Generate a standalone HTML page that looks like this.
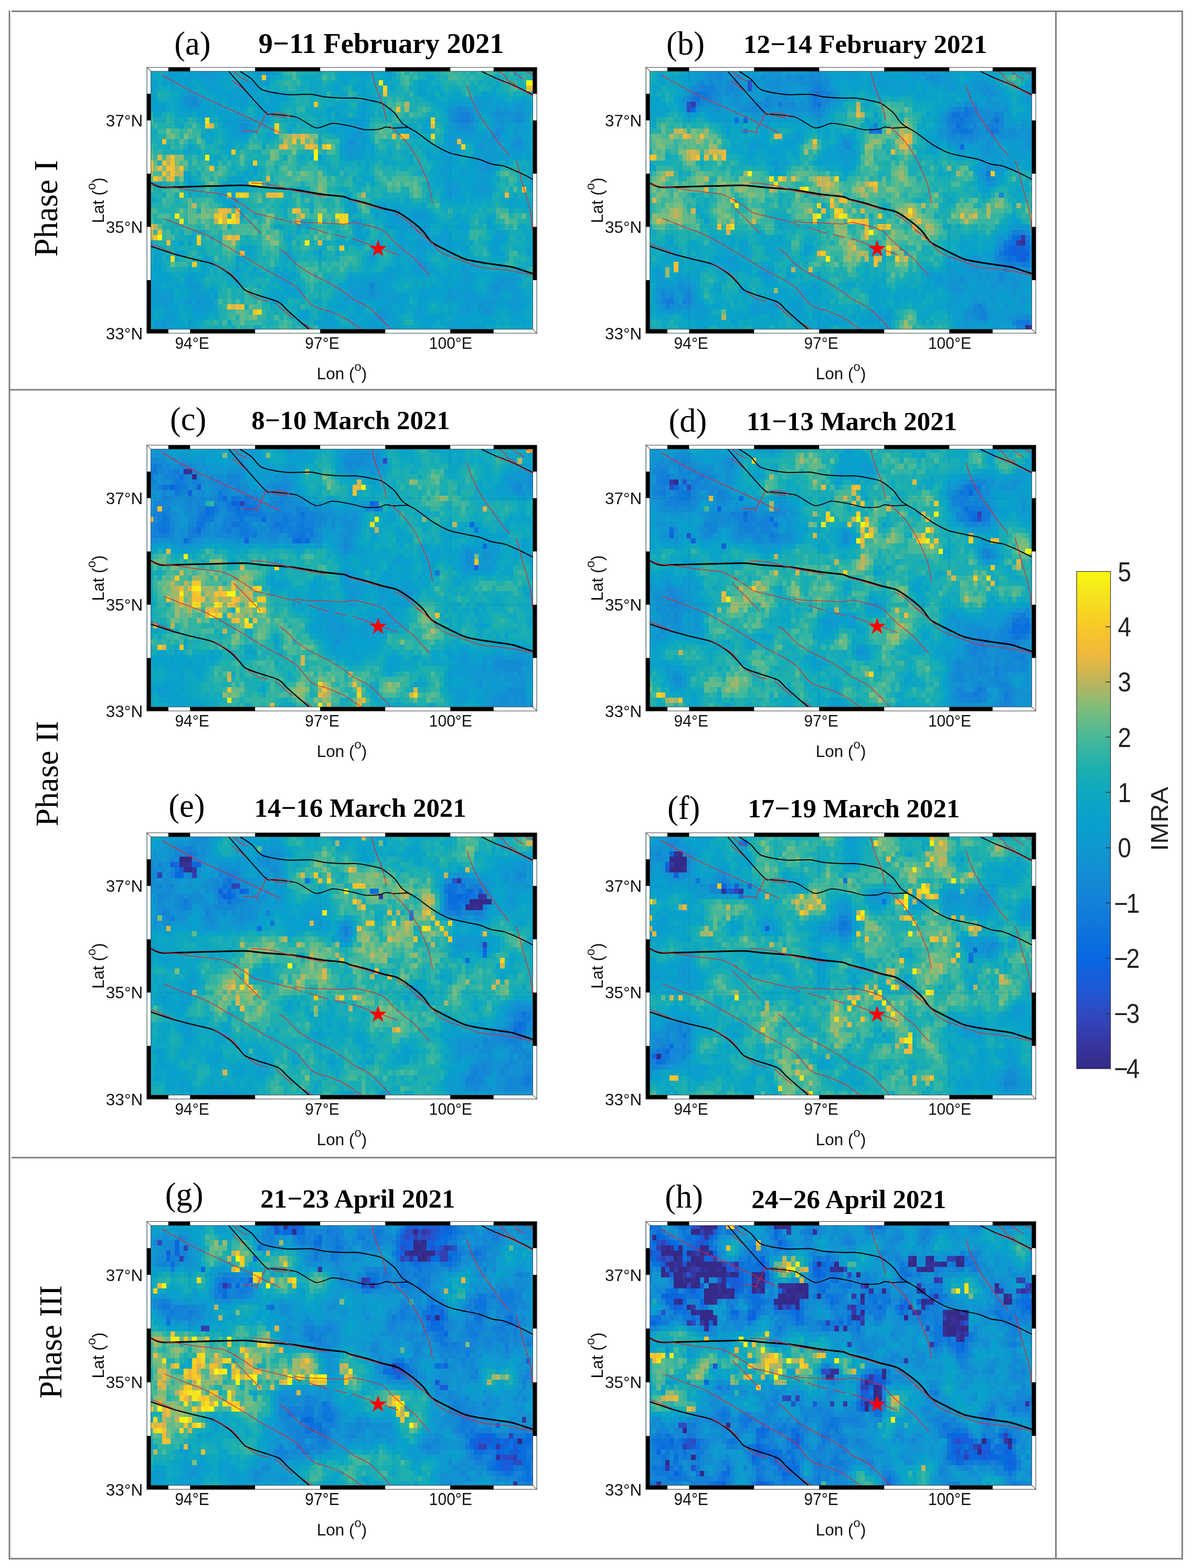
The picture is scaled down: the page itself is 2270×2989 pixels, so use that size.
<!DOCTYPE html>
<html lang="en"><head><meta charset="utf-8"><title>IMRA maps</title>
<style>html,body{margin:0;padding:0;background:#fff}body{width:2270px;height:2989px;overflow:hidden}svg{display:block}.t{font:31.5px "Liberation Sans",sans-serif;fill:#111}.l{font:31.5px "Liberation Sans",sans-serif;fill:#111}.c{font:46px "Liberation Sans",sans-serif;fill:#222}.p{font:62.5px "Liberation Serif",serif;fill:#000}.h{font:bold 50px "Liberation Serif",serif;fill:#000}.ph{font:62px "Liberation Serif",serif;fill:#000}</style></head><body>
<svg width="2270" height="2989" viewBox="0 0 2270 2989">
<defs><g id="fl"><path d="M177.5,7.8C180.5,9.8 194.5,18.2 200.2,22.9C205.9,27.6 211.6,39.4 220.5,43.3C229.4,47.2 254.7,51.2 266.9,52.3C279.1,53.4 302.4,51.3 312.1,51.9C321.8,52.5 330.8,55.9 339.3,56.9C347.8,57.9 367.4,58.8 375.5,59.1C383.6,59.4 392.9,58.5 399.8,59.1C406.7,59.7 420.5,62.2 427,63.6C433.5,65 442.5,66.1 448.5,69.3C454.5,72.5 466.9,82.3 472.2,87.4C477.5,92.5 482.3,102.8 488,107.8C493.7,112.8 507.7,119.6 515.2,124.7C522.7,129.8 536.8,141.2 544.6,146.2C552.4,151.2 567.1,159.2 574,162.1C580.9,165 588.8,166.4 596.6,168.2C604.4,170 624.7,173.4 632.8,175.6C640.9,177.8 651.1,182.9 657.7,184.7C664.3,186.5 675.4,186.9 682.6,189.2C689.8,191.5 704.8,198.4 712,201.7C719.2,205 733.1,212.3 736.4,213.9" stroke="#000" stroke-width="2.0" fill="none" stroke-linejoin="round"/>
<path d="M156,7.8C165.1,18 212.7,73.1 223.9,84C235.1,94.9 231.6,88.2 239.7,89.7C247.8,91.2 274,91.8 285,95.3C296,98.8 313.2,114.1 322.3,115.7C331.4,117.3 345.8,108.1 352.9,107.3C360,106.5 370.2,109.2 375.5,110C380.8,110.8 387.7,112.2 393,113.4C398.3,114.6 409,118.4 415.6,119.1C422.2,119.8 437.4,119.1 442.8,118.4C448.2,117.7 452.3,114.4 455.9,114.1C459.5,113.8 464.6,116 469.9,116.1C475.2,116.2 491.6,114.8 496,115C500.4,115.2 501.9,117.5 502.8,117.9" stroke="#000" stroke-width="1.8" fill="none" stroke-linejoin="round"/>
<path d="M6.4,220.4C9.5,221.5 18.7,227.8 29.3,228.8C39.9,229.8 72.3,228 85.9,227.7C99.5,227.4 117.5,226.8 131.1,226.5C144.7,226.2 175.6,225.1 187.7,225.4C199.8,225.7 209.5,227.7 221.6,228.8C233.7,229.9 263.1,231.5 278.2,233.3C293.3,235.1 321.8,240.6 334.8,242.4C347.8,244.2 368.3,245.6 375.5,246.9C382.7,248.2 383.2,250.3 388.5,251.9C393.8,253.5 407.5,256.4 415.6,258.7C423.7,261 441.5,266.6 449.6,268.9C457.7,271.2 470.4,273.1 476.7,275.7C483,278.3 491.7,284.3 497.1,288.1C502.5,291.9 513.3,300.3 517.5,303.9C521.7,307.5 525.5,311.3 528.8,315.2C532.1,319.1 537.9,329.4 542.4,333.3C546.9,337.2 557,341.7 562.7,344.7C568.4,347.7 579.3,353.1 585.3,356C591.3,358.9 600.5,363.9 608,366.2C615.5,368.5 630.4,371 641.9,372.9C653.4,374.8 684.2,378.6 693.9,380.4C703.6,382.2 708.6,384.7 714.3,386.5C720,388.3 733.5,392.7 736.4,393.7" stroke="#000" stroke-width="3.0" fill="none" stroke-linejoin="round"/>
<path d="M6.4,340.9C12.5,342.9 41.4,352.8 52,356C62.6,359.2 76,362.4 85.9,365C95.8,367.6 116.9,371.3 126.6,375.2C136.3,379.1 151.7,389.4 158.3,394.4C164.9,399.4 172.5,408.4 176.4,412.5C180.3,416.6 183.2,422.1 187.7,425C192.2,427.9 201.8,431 210.3,434C218.8,437 243.6,443.8 251.1,447.6C258.6,451.4 262.1,457.9 266.9,462.3C271.7,466.7 281.4,475.3 287.3,480.4C293.2,485.5 308.2,498.2 311.4,500.9" stroke="#000" stroke-width="2.3" fill="none" stroke-linejoin="round"/>
<path d="M637.4,7.8C641,9.5 656.4,17.2 664.5,20.7C672.6,24.2 688.9,29.9 698.5,34.2C708.1,38.5 731.3,50.4 736.4,52.9" stroke="#000" stroke-width="1.9" fill="none" stroke-linejoin="round"/>
<path d="M29.3,15C37.8,19.7 76.1,41.7 92.7,50.1C109.3,58.5 139.6,71.8 153.8,78.3C168,84.8 190,94.5 199,98.7C208,102.9 214.2,106.4 221.6,110C229,113.6 250,123.3 254.4,125.4M165.1,7.8C166.9,9.4 175.1,17 178.7,19.5C182.3,22 190.4,25.4 192.2,26.3M162.8,25.9C164.6,27.2 173.1,32.8 176.4,35.4C179.7,38 186.2,44.2 187.7,45.5M227.3,87.4C226.2,89.8 221.4,101.6 219.4,105.5C217.4,109.4 213.9,113.8 212.6,116.8C211.3,119.8 210.3,126.2 209.9,127.7M183.2,122C184.8,121.9 191.9,121.2 195.4,121.4C198.9,121.6 207.4,123.3 209.2,123.6M228.4,87.4C230.5,88.2 239.2,91.9 244.3,93.1C249.4,94.3 263.9,96 266.9,96.4M240.4,87.4C243.3,87.7 257.5,88.2 262.4,89.4C267.3,90.6 275.1,95.5 277.1,96.4M428.8,7.8C429.8,11.5 433.4,27.5 436,35.4C438.6,43.3 446.1,60.1 448.5,67C450.9,73.9 453,82.9 454.1,87.4C455.2,91.9 456.1,98.8 456.4,100.5M463.6,112.3C466.9,115.3 482.6,129.2 488,134.9C493.4,140.6 500,149.6 503.9,155.3C507.8,161 514.2,171.6 517.5,177.9C520.8,184.2 526.1,196.5 528.8,202.8C531.5,209.1 535.7,218.2 537.8,225.4C539.9,232.6 543.3,252.3 544.2,256.9C545.1,261.5 544.5,259.5 544.6,259.9M610.2,34.2C611.4,37.7 615.7,51.9 619.3,60.2C622.9,68.5 632,87.3 637.4,96.4C642.8,105.5 654.9,120.9 660,128.1C665.1,135.3 671.6,145.3 675.8,150.7C680,156.1 689.1,166.4 691.2,168.8M704.1,177.9C704.9,180.3 708.1,190 709.8,196C711.5,202 714.3,215 716.6,223.1C718.9,231.2 724.6,249.1 726.7,256.9C728.8,264.7 731.2,273.5 732.4,281.3C733.6,289.1 735.4,310.7 735.9,315.2M670.2,8.2C671.6,9 677.8,11.5 680.4,13.9C683,16.3 687,24.2 689.4,26.3C691.8,28.4 696.4,28.3 698.5,29.7C700.6,31.1 704.3,35.6 705.2,36.5M698.5,9.3C700,10.4 706.9,15.5 709.8,17.3C712.7,19.1 718.6,22.2 719.9,22.9M722.2,8.2 736.4,13.9M664.4,21.9C668.9,23.7 688.9,31.1 698.5,35.4C708.1,39.7 731.3,51.9 736.4,54.4M6.4,222C9.5,222.8 22.9,226.6 29.3,227.7C35.7,228.8 46.7,228.9 54.2,229.9C61.7,230.9 77.2,233.7 85.9,234.9C94.6,236.1 112,238 119.8,239C127.6,240 139.6,241.2 144.7,242.4C149.8,243.6 154.4,246.2 158.3,248C162.2,249.8 172,254.8 174.1,255.9M165.1,251.9C168.1,253.7 182.3,262 187.7,265.5C193.1,269 199.8,275.3 205.8,277.9C211.8,280.5 226.4,283 233,284.7C239.6,286.4 249,288.7 255.6,290.4C262.2,292.1 277.6,295.4 282.7,297.1C287.8,298.8 292.5,302 294,302.8M165.1,263.2C168.7,266.8 185.3,283.3 192.2,290.4C199.1,297.5 213.8,312.9 217.1,316.4M199,220.9C202,221 215.6,221.4 221.6,222C227.6,222.6 236.8,223.7 244.3,225.4C251.8,227.1 269.2,232.4 278.2,234.5C287.2,236.6 303.6,239.5 312.1,241.2C320.6,242.9 337.7,246.1 341.6,246.9M281.6,293.3C284.2,293.7 293.7,295.5 300.8,296C307.9,296.5 324.8,296.7 334.8,297.1C344.8,297.5 367.7,299.1 375.5,299C383.3,298.9 387.7,295.8 393,296C398.3,296.2 410.2,299.3 415.6,300.5C421,301.7 428.6,303.3 433.7,305.1C438.8,306.9 449.6,310.9 454.1,314.1C458.6,317.3 463.2,324.4 467.7,328.8C472.2,333.2 482.3,342.1 488,346.9C493.7,351.7 505.6,360.2 510.7,365C515.8,369.8 522.6,378.8 526.5,383.1C530.4,387.4 537.9,395.2 539.6,397.1M308.7,305.7 346.1,317.1M357.4,318.6C359.8,319.3 372.4,323.2 375.5,323.9C378.6,324.6 379.9,323.9 380.6,323.9M390.8,326.1C395.6,327.8 418.3,335.9 427,339C435.7,342.1 449.3,346.7 456.4,349.2C463.5,351.7 476.9,356.7 480.1,357.8M32.7,288.5C38.3,290.7 64.5,301.2 74.6,305.1C84.7,309 99.8,313.6 108.5,317.5C117.2,321.4 130.2,328.9 140.2,334.5C150.2,340.1 172.3,352.9 183.2,359.4C194.1,365.9 211.9,377.5 221.6,383.1C231.3,388.7 247.1,396.4 255.6,401.2C264.1,406 279.3,414.8 285,419.3C290.7,423.8 295,430.9 298.6,435.1C302.2,439.3 308.8,448 312.1,451C315.4,454 319,456 323.5,457.8C328,459.6 339.2,462 346.1,464.6C353,467.2 369.2,473.8 375.5,477C381.8,480.2 388.2,485.1 393,488.3C397.8,491.5 408.9,499.2 411.4,500.9M253.3,345.8C255.1,347.2 262.7,352.1 266.9,356C271.1,359.9 279,370.2 285,375.2C291,380.2 304,388.6 312.1,393.3C320.2,398 337.6,405.6 346.1,410.3C354.6,415 369.2,424.2 375.5,428.4C381.8,432.6 387.7,438.6 393,441.9C398.3,445.2 410.8,450.6 415.6,453.3C420.4,456 425.3,459 429.2,462.3C433.1,465.6 441.5,474.5 445.1,478.1C448.7,481.7 453.7,486.5 456.4,489.5C459.1,492.5 464.2,499.4 465.4,500.9M6.4,336.7C8.5,337.5 16.3,340 22.4,342.4C28.5,344.8 48.1,353.2 52,354.9M126.6,374.2C130.8,376.6 151.8,387.8 158.3,392.4C164.8,397 173.1,406.7 175.4,408.9M190,427.2C193,429.2 207.2,439.4 212.6,441.9C218,444.4 228.3,445.3 230.7,445.8M245.4,449.9C248.3,452.5 262.5,465.3 266.9,469.1C271.3,472.9 276.7,476.9 278.2,478.1M298.6,488.3 317.4,500.4M474.5,280.2C476.9,281.6 487.5,286.6 492.6,290.4C497.7,294.2 508.7,304.9 512.9,308.5C517.1,312.1 522.7,316.3 524.2,317.5M512.9,310.3C515,311.9 524.3,318.3 528.8,322C533.3,325.7 543.3,334.3 546.9,337.9C550.5,341.5 552.3,346.3 555.9,349.2C559.5,352.1 568.6,357 574,359.4C579.4,361.8 588.5,364.4 596.6,367.3C604.7,370.2 626,378.6 635.1,380.9C644.2,383.2 656,383.2 664.5,384.3C673,385.4 688.9,387.1 698.5,388.8C708.1,390.5 731.3,395.8 736.4,396.9M388.4,253.4C392.7,254.5 412.3,259.6 420.4,261.9C428.5,264.2 445.5,269.7 449.4,270.9" stroke="#e8222c" stroke-width="1.25" fill="none" stroke-linejoin="round"/></g><g id="fr"><path d="M0,0H743.9 V507.5 H0Z M8,8 V499.5 H735.9 V8Z" fill="#fff" fill-rule="evenodd"/>
<path d="M0,499.5H41.3V507.5H0ZM41.3,0H82.7V8H41.3ZM82.7,499.5H206.6V507.5H82.7ZM206.6,0H330.6V8H206.6ZM330.6,499.5H454.6V507.5H330.6ZM454.6,0H578.6V8H454.6ZM578.6,499.5H661.2V507.5H578.6ZM661.2,0H743.9V8H661.2ZM735.9,0H743.9V50.8H735.9ZM0,50.8H8V101.5H0ZM735.9,101.5H743.9V203H735.9ZM0,203H8V304.5H0ZM735.9,304.5H743.9V406H735.9ZM0,406H8V507.5H0Z" fill="#000"/>
<rect x="0.5" y="0.5" width="742.9" height="506.5" fill="none" stroke="#444" stroke-width="1"/>
<rect x="8" y="8" width="727.9" height="491.5" fill="none" stroke="#333" stroke-width="0.8"/>
<path d="M0,0L8,8 M735.9,499.5L743.9,507.5" stroke="#444" stroke-width="1"/></g><g id="gr"><path d="M82.7,8V499.5M330.6,8V499.5M578.6,8V499.5M8,304.5H735.9M8,101.5H735.9" stroke="#1a5c6a" stroke-opacity="0.5" stroke-width="1.1" stroke-dasharray="1.5 3" fill="none"/></g><g id="lb"><text class="t" x="-7.4" y="518.9" text-anchor="end">33°N</text>
<text class="t" x="-7.4" y="315.9" text-anchor="end">35°N</text>
<text class="t" x="-7.4" y="112.9" text-anchor="end">37°N</text>
<text class="t" style="font-size:30px" transform="translate(86.5,537.1) scale(1,1.07)" text-anchor="middle">94°E</text>
<text class="t" style="font-size:30px" transform="translate(334.4,537.1) scale(1,1.07)" text-anchor="middle">97°E</text>
<text class="t" style="font-size:30px" transform="translate(579.2,537.1) scale(1,1.07)" text-anchor="middle">100°E</text>
<text class="l" x="371.9" y="594.5" text-anchor="middle">Lon (<tspan dy="-16" style="font-size:24px">o</tspan><tspan dy="16">)</tspan></text>
<text class="l" transform="translate(-82,253.8) rotate(-90)" text-anchor="middle">Lat (<tspan dy="-16" style="font-size:24px">o</tspan><tspan dy="16">)</tspan></text></g>
<clipPath id="cp"><rect x="0" y="0" width="743.9" height="507.5"/></clipPath>
<linearGradient id="cb" x1="0" y1="0" x2="0" y2="1"><stop offset="0%" stop-color="#f8f810"/><stop offset="5.6%" stop-color="#f6e01e"/><stop offset="11.1%" stop-color="#f8c828"/><stop offset="16.7%" stop-color="#f0b83c"/><stop offset="22.2%" stop-color="#bcb45c"/><stop offset="27.8%" stop-color="#7cbd7c"/><stop offset="33.3%" stop-color="#48b898"/><stop offset="38.9%" stop-color="#20b0ac"/><stop offset="44.4%" stop-color="#0ea8c0"/><stop offset="50%" stop-color="#08a0cc"/><stop offset="55.6%" stop-color="#1098d0"/><stop offset="61.1%" stop-color="#138cd4"/><stop offset="66.7%" stop-color="#1480d8"/><stop offset="72.2%" stop-color="#0d74dc"/><stop offset="77.8%" stop-color="#0868e0"/><stop offset="83.3%" stop-color="#1c5ad8"/><stop offset="88.9%" stop-color="#2f49c0"/><stop offset="94.4%" stop-color="#3637a4"/><stop offset="100%" stop-color="#352a87"/></linearGradient></defs>
<rect width="2270" height="2989" fill="#fff"/>
<g stroke="#808080" stroke-width="3" fill="none"><path d="M18,20V2973 M22,21.5H2254 M2253.3,20V2973 M17,2971.2H2254 M2012.5,21V2972 M18,743H2012 M22,2206.7H2012"/></g>
<text class="ph" style="font-size:63.2px" transform="translate(108.7,397.4) rotate(-90)" text-anchor="middle">Phase I</text>
<text class="ph" style="font-size:62px" transform="translate(109.6,1474.8) rotate(-90)" text-anchor="middle">Phase II</text>
<text class="ph" style="font-size:60.3px" transform="translate(117.2,2558.2) rotate(-90)" text-anchor="middle">Phase III</text>
<g transform="translate(279.6,127.9) scale(1,1.0005)">
<g clip-path="url(#cp)"><g transform="translate(-4.13,-5.08) scale(8.2656,10.1500)" shape-rendering="crispEdges" fill="none"><rect width="91" height="51" fill="#0ea8c0"/><g transform="translate(0,.5)"><path stroke="#1480d8" d="M73 9h2M73 10h2"/><path stroke="#1486d6" d="M72 8h1M72 9h1M72 10h1M75 10h1M74 11h1M52 41h1"/><path stroke="#138cd4" d="M29 0h1M11 6h1M11 7h1M73 8h2M71 9h1M75 9h1M81 9h2M85 9h2M71 10h1M86 10h1M22 11h2M72 11h2M22 12h1M81 12h1M80 13h2M86 14h1M79 18h1M90 21h1M52 42h1M3 50h3"/><path stroke="#1292d2" d="M0 0h1M16 0h1M27 0h1M14 1h1M28 1h1M9 6h2M9 7h2M12 7h1M71 8h1M75 8h1M81 8h1M83 8h1M86 8h1M70 9h1M80 9h1M83 9h2M87 9h1M81 10h2M85 10h1M87 10h1M75 11h1M82 11h1M23 12h1M72 12h1M74 12h2M82 12h1M47 14h2M85 14h1M77 15h1M85 15h2M47 16h1M78 18h1M78 19h2M90 20h1M90 22h1M70 24h1M63 28h1M63 37h2M82 40h2M81 41h1M80 42h2M52 43h1M12 44h1M79 44h1M74 45h1M77 45h1M0 46h1M54 46h1M78 46h2M54 47h2M4 48h1M52 50h1"/><path stroke="#1098d0" d="M1 0h1M13 0h1M26 0h1M28 0h1M30 0h1M0 1h1M13 1h1M26 1h2M15 2h1M90 3h1M0 4h2M23 4h1M25 4h1M0 5h1M10 5h1M0 6h1M12 6h1M23 6h1M76 6h2M79 6h1M72 7h1M77 7h2M81 7h1M85 7h3M70 8h1M76 8h1M82 8h1M84 8h2M87 8h1M13 9h1M50 9h1M76 9h1M88 9h1M22 10h2M70 10h1M76 10h1M84 10h1M24 11h1M49 11h1M71 11h1M80 11h2M86 11h1M21 12h1M49 12h1M71 12h1M73 12h1M80 12h1M85 12h1M48 13h2M70 13h2M73 13h1M85 13h2M50 14h1M71 14h1M78 14h4M84 14h1M46 15h4M71 15h1M78 15h1M80 15h1M87 15h1M48 16h1M78 16h1M84 16h2M77 17h2M80 17h1M76 18h2M69 19h1M77 19h1M78 20h1M70 22h1M77 22h2M70 23h3M77 23h3M55 26h1M55 27h1M57 28h1M62 28h1M64 28h1M48 29h1M57 29h2M61 29h1M61 30h1M64 30h1M65 32h1M63 33h3M80 34h1M52 36h1M63 36h1M63 38h2M73 38h1M56 39h1M74 39h1M10 40h1M47 40h1M52 40h1M74 40h1M81 40h1M84 40h1M11 41h2M51 41h1M53 41h1M80 41h1M82 41h4M2 42h1M12 42h1M47 42h5M53 42h1M70 42h1M74 42h1M85 42h1M3 43h2M11 43h1M49 43h1M51 43h1M53 43h1M70 43h2M73 43h3M80 43h2M85 43h1M3 44h3M10 44h1M13 44h1M46 44h1M74 44h5M80 44h1M86 44h1M0 45h1M11 45h2M78 45h3M84 45h2M55 46h1M63 46h1M73 46h1M85 46h1M5 47h2M53 47h1M5 48h1M3 49h2M53 49h1M2 50h1M7 50h2M51 50h1M53 50h1"/><path stroke="#0c9cce" d="M6 0h2M12 0h1M14 0h2M17 0h1M19 0h1M25 0h1M51 0h1M56 0h1M5 1h2M10 1h1M12 1h1M15 1h2M29 1h1M50 1h2M56 1h1M5 2h2M9 2h2M13 2h2M16 2h1M28 2h1M56 2h1M0 3h2M4 3h1M15 3h1M23 3h2M27 3h2M15 4h2M21 4h2M24 4h1M9 5h1M11 5h1M16 5h1M20 5h2M23 5h2M28 5h1M64 5h1M8 6h1M13 6h1M19 6h4M29 6h1M51 6h1M66 6h1M0 7h1M14 7h1M22 7h1M70 7h2M73 7h2M76 7h1M79 7h1M82 7h2M2 8h3M8 8h1M10 8h3M28 8h1M77 8h1M79 8h2M88 8h1M14 9h1M27 9h2M44 9h1M79 9h1M19 10h1M21 10h1M27 10h1M49 10h2M80 10h1M83 10h1M19 11h1M21 11h1M45 11h1M48 11h1M50 11h1M70 11h1M76 11h1M83 11h1M85 11h1M87 11h1M20 12h1M24 12h1M47 12h2M50 12h1M70 12h1M76 12h1M86 12h2M21 13h1M46 13h2M50 13h1M69 13h1M72 13h1M74 13h6M82 13h1M87 13h1M46 14h1M70 14h1M76 14h2M82 14h1M87 14h1M50 15h1M70 15h1M76 15h1M79 15h1M81 15h1M84 15h1M46 16h1M49 16h2M65 16h1M68 16h4M79 16h4M86 16h1M88 16h1M46 17h4M69 17h1M76 17h1M79 17h1M81 17h3M85 17h1M69 18h2M80 18h1M68 19h1M70 19h1M73 19h1M80 19h1M68 20h2M73 20h2M77 20h1M79 20h2M89 20h1M22 21h1M69 21h1M77 21h3M89 21h1M10 22h1M22 22h2M69 22h1M71 22h2M76 22h1M69 23h1M76 23h1M69 24h1M71 24h2M76 24h1M78 24h2M54 26h1M57 27h2M62 27h1M64 27h1M53 28h1M56 28h1M58 28h1M61 28h1M65 28h1M72 28h1M59 29h1M62 29h1M64 29h2M79 29h1M49 30h1M57 30h1M59 30h2M62 30h1M72 30h1M49 31h1M59 31h1M63 31h1M69 31h1M82 31h1M49 32h1M59 32h1M63 32h2M67 32h3M81 32h2M90 32h1M59 33h1M66 33h5M63 34h3M67 34h1M70 34h1M81 34h1M63 35h2M62 36h1M62 37h1M65 37h1M21 38h1M58 38h1M62 38h1M65 38h2M74 38h1M31 39h1M54 39h1M57 39h1M64 39h2M75 39h1M81 39h1M85 39h1M1 40h1M11 40h1M32 40h1M48 40h1M50 40h2M53 40h1M55 40h1M57 40h1M69 40h1M73 40h1M75 40h1M80 40h1M85 40h2M1 41h1M10 41h1M47 41h4M54 41h1M73 41h2M79 41h1M5 42h1M11 42h1M15 42h1M32 42h1M35 42h1M54 42h1M56 42h1M64 42h1M68 42h1M71 42h3M75 42h1M79 42h1M82 42h3M86 42h1M2 43h1M5 43h2M10 43h1M12 43h3M47 43h2M50 43h1M54 43h6M63 43h3M69 43h1M72 43h1M76 43h2M79 43h1M86 43h1M2 44h1M6 44h1M9 44h1M11 44h1M14 44h2M49 44h1M53 44h1M56 44h4M64 44h1M69 44h1M71 44h1M73 44h1M81 44h5M87 44h1M1 45h1M4 45h2M13 45h3M45 45h1M49 45h1M54 45h3M59 45h1M63 45h2M73 45h1M75 45h2M82 45h1M86 45h1M1 46h1M5 46h2M11 46h1M13 46h2M42 46h1M49 46h1M56 46h2M62 46h1M64 46h1M72 46h1M74 46h2M77 46h1M80 46h1M86 46h1M0 47h1M36 47h1M41 47h1M52 47h1M56 47h2M63 47h1M67 47h2M2 48h2M6 48h1M10 48h1M41 48h3M52 48h4M71 48h2M78 48h1M2 49h1M5 49h1M42 49h1M51 49h2M54 49h2M64 49h2M70 49h2M77 49h1M1 50h1M6 50h1M54 50h2M64 50h1M71 50h4M77 50h2"/><path stroke="#08a0cc" d="M5 0h1M8 0h4M18 0h1M24 0h1M31 0h1M44 0h2M49 0h2M52 0h1M55 0h1M74 0h2M1 1h1M7 1h2M11 1h1M17 1h3M25 1h1M30 1h1M55 1h1M0 2h2M4 2h1M7 2h2M11 2h2M17 2h2M23 2h1M26 2h1M45 2h2M50 2h2M2 3h1M5 3h6M13 3h2M16 3h2M21 3h2M25 3h1M46 3h1M50 3h1M55 3h1M64 3h1M6 4h1M9 4h3M14 4h1M17 4h1M20 4h1M44 4h1M48 4h1M50 4h1M63 4h1M90 4h1M8 5h1M12 5h1M17 5h3M22 5h1M25 5h1M29 5h3M39 5h1M45 5h1M50 5h1M63 5h1M78 5h1M80 5h1M1 6h2M7 6h1M16 6h2M26 6h1M30 6h3M52 6h1M72 6h2M78 6h1M80 6h3M87 6h1M1 7h4M8 7h1M13 7h1M16 7h2M19 7h1M21 7h1M23 7h1M26 7h5M50 7h2M68 7h1M75 7h1M80 7h1M84 7h1M88 7h2M9 8h1M13 8h2M16 8h3M20 8h1M22 8h1M26 8h2M29 8h2M42 8h2M45 8h1M50 8h1M69 8h1M78 8h1M12 9h1M17 9h1M19 9h4M26 9h1M29 9h1M42 9h1M49 9h1M77 9h1M18 10h1M20 10h1M24 10h2M28 10h1M45 10h4M51 10h1M65 10h1M18 11h1M20 11h1M27 11h1M44 11h1M46 11h2M64 11h1M69 11h1M84 11h1M88 11h1M19 12h1M29 12h1M33 12h1M43 12h2M46 12h1M60 12h1M64 12h2M78 12h2M83 12h1M88 12h1M20 13h1M22 13h2M51 13h1M83 13h2M19 14h1M49 14h1M51 14h1M69 14h1M73 14h1M75 14h1M83 14h1M88 14h1M90 14h1M19 15h1M45 15h1M52 15h1M69 15h1M72 15h1M82 15h2M88 15h1M45 16h1M52 16h1M72 16h1M76 16h2M83 16h1M87 16h1M40 17h1M61 17h1M65 17h1M67 17h2M70 17h2M75 17h1M84 17h1M86 17h1M88 17h1M71 18h1M74 18h2M81 18h1M83 18h1M25 19h1M71 19h1M75 19h2M81 19h1M23 20h1M25 20h1M70 20h1M72 20h1M75 20h2M10 21h1M24 21h1M51 21h1M67 21h1M70 21h2M73 21h4M11 22h1M65 22h1M67 22h1M74 22h2M79 22h1M89 22h1M18 23h1M21 23h2M73 23h1M75 23h1M17 24h1M20 24h1M73 24h1M77 24h1M0 25h1M18 25h1M20 25h2M69 25h5M75 25h1M84 25h1M19 26h2M48 26h1M57 26h2M88 26h1M48 27h1M53 27h1M56 27h1M63 27h1M59 28h2M66 28h1M49 29h1M56 29h1M60 29h1M63 29h1M66 29h1M73 29h1M37 30h1M56 30h1M58 30h1M63 30h1M65 30h1M69 30h1M73 30h2M79 30h1M89 30h1M35 31h1M51 31h1M58 31h1M60 31h3M64 31h2M68 31h1M70 31h1M73 31h1M81 31h1M50 32h1M58 32h1M66 32h1M70 32h1M80 32h1M83 32h1M8 33h1M48 33h1M54 33h1M60 33h1M62 33h1M71 33h1M73 33h1M80 33h3M89 33h1M22 34h1M24 34h1M59 34h1M61 34h1M66 34h1M69 34h1M71 34h4M90 34h1M7 35h2M33 35h1M40 35h1M52 35h1M58 35h5M70 35h1M80 35h3M88 35h3M2 36h1M14 36h1M21 36h2M58 36h1M61 36h1M64 36h1M2 37h2M58 37h1M61 37h1M73 37h1M75 37h2M0 38h1M2 38h2M25 38h1M30 38h1M32 38h1M56 38h2M59 38h1M61 38h1M71 38h1M75 38h3M86 38h1M0 39h2M3 39h2M10 39h2M13 39h1M21 39h1M32 39h1M34 39h1M47 39h1M51 39h1M55 39h1M58 39h2M61 39h3M67 39h1M70 39h1M72 39h2M77 39h2M80 39h1M82 39h3M86 39h1M2 40h5M9 40h1M21 40h1M31 40h1M33 40h1M49 40h1M54 40h1M56 40h1M68 40h1M71 40h2M76 40h1M2 41h2M7 41h1M9 41h1M32 41h2M35 41h1M45 41h2M55 41h2M66 41h1M69 41h1M71 41h2M75 41h1M0 42h2M3 42h2M6 42h1M10 42h1M33 42h2M55 42h1M57 42h1M63 42h1M65 42h3M69 42h1M90 42h1M0 43h2M16 43h1M29 43h1M45 43h2M60 43h1M66 43h3M78 43h1M82 43h1M84 43h1M87 43h1M90 43h1M0 44h2M8 44h1M29 44h1M31 44h1M47 44h2M50 44h3M54 44h2M60 44h1M63 44h1M72 44h1M88 44h1M90 44h1M2 45h2M6 45h2M9 45h1M44 45h1M46 45h1M50 45h1M52 45h2M72 45h1M81 45h1M83 45h1M87 45h1M4 46h1M7 46h1M12 46h1M36 46h2M43 46h1M53 46h1M59 46h1M70 46h1M76 46h1M84 46h1M1 47h1M4 47h1M7 47h1M11 47h3M37 47h1M42 47h2M47 47h2M50 47h2M62 47h1M64 47h3M71 47h9M85 47h2M0 48h1M7 48h2M11 48h1M39 48h2M48 48h2M51 48h1M56 48h2M64 48h3M68 48h1M73 48h1M75 48h1M79 48h2M85 48h1M87 48h2M6 49h6M41 49h1M43 49h1M49 49h2M56 49h3M63 49h1M72 49h5M78 49h1M87 49h1M9 50h2M43 50h1M50 50h1M57 50h3M65 50h1M69 50h1M79 50h1M84 50h2"/><path stroke="#0ba4c6" d="M20 0h1M39 0h1M46 0h1M53 0h1M57 0h1M4 1h1M9 1h1M22 1h1M24 1h1M45 1h5M52 1h1M54 1h1M57 1h1M85 1h1M2 2h1M19 2h2M22 2h1M24 2h2M29 2h1M47 2h1M49 2h1M55 2h1M65 2h2M11 3h2M18 3h3M26 3h1M38 3h1M44 3h2M49 3h1M63 3h1M65 3h1M81 3h1M2 4h1M7 4h2M13 4h1M18 4h2M26 4h1M28 4h1M38 4h2M42 4h2M49 4h1M51 4h1M56 4h2M64 4h1M66 4h2M80 4h1M1 5h2M13 5h3M26 5h2M32 5h1M41 5h1M43 5h1M49 5h1M51 5h1M65 5h2M68 5h1M71 5h2M77 5h1M79 5h1M6 6h1M14 6h2M18 6h1M24 6h2M27 6h1M53 6h1M65 6h1M67 6h1M70 6h2M74 6h2M85 6h2M88 6h1M5 7h1M7 7h1M15 7h1M18 7h1M20 7h1M24 7h1M44 7h3M49 7h1M67 7h1M69 7h1M1 8h1M5 8h1M7 8h1M15 8h1M19 8h1M21 8h1M44 8h1M49 8h1M51 8h1M89 8h1M2 9h2M7 9h4M15 9h2M18 9h1M39 9h1M45 9h2M51 9h2M69 9h1M78 9h1M13 10h1M17 10h1M26 10h1M42 10h1M44 10h1M77 10h1M79 10h1M88 10h1M8 11h1M25 11h2M34 11h1M42 11h2M51 11h1M59 11h1M61 11h1M65 11h1M79 11h1M14 12h2M25 12h1M42 12h1M45 12h1M51 12h1M58 12h2M69 12h1M77 12h1M84 12h1M13 13h1M15 13h1M18 13h2M28 13h2M45 13h1M61 13h2M88 13h1M90 13h1M14 14h2M20 14h1M22 14h1M45 14h1M74 14h1M89 14h1M10 15h1M18 15h1M27 15h1M51 15h1M67 15h2M90 15h1M9 16h1M12 16h1M19 16h1M51 16h1M56 16h1M64 16h1M66 16h1M73 16h1M16 17h1M36 17h1M38 17h1M45 17h1M50 17h3M66 17h1M72 17h1M87 17h1M89 17h1M49 18h1M51 18h1M55 18h1M57 18h1M61 18h1M67 18h2M72 18h1M82 18h1M24 19h1M51 19h1M67 19h1M72 19h1M74 19h1M87 19h1M89 19h2M9 20h1M63 20h1M66 20h2M71 20h1M9 21h1M19 21h3M48 21h1M50 21h1M52 21h1M66 21h1M68 21h1M72 21h1M81 21h1M2 22h2M18 22h4M50 22h1M52 22h1M68 22h1M73 22h1M80 22h1M11 23h1M17 23h1M23 23h1M46 23h1M66 23h1M74 23h1M80 23h1M89 23h2M18 24h1M47 24h1M65 24h1M68 24h1M74 24h2M85 24h1M1 25h1M19 25h1M58 25h1M60 25h1M68 25h1M77 25h3M82 25h2M85 25h3M46 26h2M53 26h1M56 26h1M59 26h2M64 26h1M71 26h1M83 26h5M47 27h1M52 27h1M54 27h1M59 27h3M65 27h1M84 27h1M90 27h1M22 28h1M47 28h1M55 28h1M74 28h1M79 28h2M89 28h2M55 29h1M67 29h1M71 29h2M74 29h1M89 29h2M31 30h1M35 30h1M48 30h1M50 30h1M55 30h1M68 30h1M71 30h1M80 30h1M87 30h1M13 31h1M48 31h1M50 31h1M71 31h2M74 31h1M80 31h1M83 31h1M88 31h3M11 32h1M33 32h1M48 32h1M57 32h1M60 32h3M72 32h2M88 32h1M1 33h1M10 33h1M44 33h2M47 33h1M49 33h2M58 33h1M61 33h1M72 33h1M75 33h1M79 33h1M90 33h1M23 34h1M52 34h2M56 34h3M60 34h1M62 34h1M68 34h1M79 34h1M88 34h1M2 35h2M23 35h2M32 35h1M39 35h1M44 35h1M53 35h1M66 35h1M69 35h1M71 35h1M73 35h2M3 36h1M5 36h1M32 36h3M40 36h1M51 36h1M53 36h1M57 36h1M60 36h1M65 36h1M69 36h1M74 36h3M80 36h3M89 36h2M13 37h1M15 37h1M21 37h1M23 37h1M34 37h1M51 37h2M59 37h2M66 37h1M70 37h3M74 37h1M78 37h1M82 37h1M89 37h2M1 38h1M4 38h1M13 38h2M22 38h1M51 38h1M55 38h1M60 38h1M67 38h1M69 38h2M72 38h1M78 38h2M81 38h1M87 38h1M2 39h1M5 39h1M8 39h2M12 39h1M20 39h1M24 39h1M26 39h1M30 39h1M33 39h1M48 39h3M52 39h2M60 39h1M66 39h1M68 39h2M71 39h1M76 39h1M79 39h1M0 40h1M7 40h1M12 40h1M30 40h1M34 40h1M42 40h1M46 40h1M58 40h1M60 40h1M62 40h4M67 40h1M70 40h1M78 40h2M0 41h1M5 41h2M8 41h1M13 41h1M21 41h1M31 41h1M62 41h1M64 41h1M67 41h2M70 41h1M76 41h1M86 41h1M90 41h1M8 42h2M13 42h2M16 42h1M30 42h1M36 42h1M44 42h3M61 42h2M76 42h2M87 42h1M89 42h1M7 43h3M15 43h1M30 43h7M44 43h1M62 43h1M83 43h1M88 43h2M7 44h1M30 44h1M32 44h1M39 44h2M43 44h3M65 44h4M70 44h1M89 44h1M10 45h1M16 45h1M42 45h2M47 45h2M57 45h2M60 45h3M65 45h1M68 45h1M70 45h2M88 45h1M2 46h1M9 46h2M15 46h2M40 46h2M44 46h5M50 46h1M52 46h1M58 46h1M60 46h1M66 46h1M68 46h2M71 46h1M81 46h3M87 46h1M3 47h1M8 47h1M10 47h1M14 47h1M16 47h1M35 47h1M49 47h1M58 47h1M69 47h1M80 47h2M84 47h1M87 47h3M1 48h1M12 48h1M44 48h1M47 48h1M50 48h1M58 48h1M62 48h2M69 48h2M74 48h1M76 48h2M82 48h1M84 48h1M86 48h1M89 48h1M1 49h1M40 49h1M44 49h1M46 49h1M48 49h1M59 49h1M61 49h1M67 49h1M69 49h1M79 49h2M84 49h3M88 49h1M90 49h1M11 50h1M17 50h1M42 50h1M44 50h1M49 50h1M56 50h1M60 50h1M63 50h1M66 50h1M70 50h1M75 50h2M80 50h1M86 50h1M88 50h3"/><path stroke="#17acb6" d="M3 0h1M21 0h1M37 0h1M47 0h1M58 0h1M60 0h1M63 0h4M69 0h1M73 0h1M76 0h1M84 0h1M87 0h1M35 1h1M37 1h3M60 1h1M63 1h2M66 1h2M75 1h1M81 1h1M83 1h1M86 1h1M89 1h1M32 2h1M40 2h1M58 2h1M63 2h2M67 2h1M69 2h1M78 2h2M82 2h2M85 2h1M30 3h1M36 3h1M42 3h1M66 3h1M68 3h1M75 3h1M78 3h1M80 3h1M82 3h1M86 3h1M29 4h1M32 4h1M35 4h1M37 4h1M41 4h1M46 4h1M53 4h1M58 4h2M70 4h1M72 4h1M78 4h2M82 4h1M87 4h1M4 5h2M34 5h5M56 5h3M60 5h1M67 5h1M73 5h1M75 5h1M86 5h1M3 6h2M34 6h1M36 6h1M39 6h3M49 6h1M54 6h1M60 6h4M89 6h2M34 7h1M42 7h1M47 7h1M54 7h2M62 7h1M65 7h1M0 8h1M32 8h1M40 8h1M53 8h1M61 8h1M66 8h1M90 8h1M4 9h1M6 9h1M24 9h1M30 9h1M32 9h1M36 9h2M43 9h1M53 9h1M55 9h1M60 9h1M67 9h1M89 9h1M2 10h3M8 10h1M16 10h1M31 10h1M37 10h1M39 10h1M41 10h1M52 10h1M55 10h2M59 10h1M61 10h2M67 10h1M32 11h1M37 11h1M39 11h1M57 11h1M63 11h1M68 11h1M1 12h1M13 12h1M27 12h1M34 12h2M38 12h2M52 12h1M57 12h1M63 12h1M90 12h1M2 13h1M17 13h1M40 13h1M42 13h2M52 13h1M64 13h1M67 13h2M2 14h2M10 14h1M16 14h1M29 14h1M55 14h2M60 14h2M63 14h1M67 14h2M3 15h2M9 15h1M14 15h1M16 15h1M21 15h1M53 15h1M57 15h1M59 15h2M62 15h1M74 15h1M0 16h1M4 16h5M15 16h1M17 16h1M21 16h1M25 16h2M37 16h1M41 16h1M54 16h2M57 16h2M61 16h2M74 16h1M12 17h2M20 17h1M24 17h1M26 17h2M35 17h1M37 17h1M42 17h1M57 17h1M59 17h1M64 17h1M90 17h1M3 18h1M10 18h1M18 18h1M20 18h1M23 18h1M35 18h2M48 18h1M53 18h1M62 18h2M65 18h1M87 18h1M0 19h1M21 19h1M23 19h1M27 19h1M30 19h1M35 19h1M41 19h1M43 19h2M47 19h3M52 19h1M55 19h1M60 19h1M62 19h3M84 19h1M86 19h1M19 20h1M26 20h2M42 20h1M52 20h1M62 20h1M64 20h1M86 20h1M12 21h1M25 21h1M29 21h1M45 21h1M49 21h1M86 21h1M4 22h1M7 22h1M13 22h1M17 22h1M36 22h1M48 22h1M53 22h1M64 22h1M81 22h1M83 22h1M3 23h1M9 23h2M12 23h2M25 23h1M29 23h1M32 23h1M34 23h1M44 23h1M48 23h1M52 23h1M55 23h1M60 23h1M65 23h1M86 23h1M1 24h1M7 24h1M11 24h1M14 24h1M16 24h1M33 24h1M37 24h1M51 24h2M56 24h5M67 24h1M80 24h1M84 24h1M86 24h1M88 24h1M3 25h1M7 25h1M22 25h1M33 25h1M36 25h1M38 25h1M42 25h1M45 25h1M52 25h1M59 25h1M61 25h1M64 25h1M80 25h2M22 26h1M33 26h1M37 26h1M78 26h1M80 26h1M82 26h1M90 26h1M12 27h1M31 27h1M49 27h1M68 27h1M73 27h1M80 27h1M85 27h2M26 28h1M48 28h1M52 28h1M68 28h2M75 28h1M77 28h2M88 28h1M5 29h1M22 29h1M30 29h1M33 29h1M38 29h1M51 29h2M75 29h1M88 29h1M6 30h2M19 30h1M32 30h2M38 30h1M42 30h2M51 30h1M54 30h1M75 30h1M77 30h1M82 30h1M88 30h1M0 31h1M6 31h1M32 31h1M34 31h1M37 31h1M84 31h3M0 32h1M7 32h2M13 32h1M15 32h1M17 32h1M34 32h1M44 32h1M47 32h1M53 32h1M55 32h2M77 32h1M79 32h1M85 32h1M87 32h1M0 33h1M2 33h1M9 33h1M11 33h1M13 33h1M17 33h1M22 33h4M32 33h1M43 33h1M55 33h1M77 33h1M84 33h3M6 34h1M8 34h4M26 34h1M39 34h1M44 34h1M48 34h1M50 34h1M55 34h1M75 34h2M0 35h2M5 35h1M12 35h1M14 35h1M21 35h1M26 35h1M34 35h2M37 35h2M41 35h2M45 35h1M50 35h1M54 35h1M56 35h1M77 35h1M79 35h1M83 35h1M86 35h2M1 36h1M4 36h1M11 36h1M17 36h1M26 36h2M35 36h3M39 36h1M42 36h3M54 36h1M56 36h1M66 36h2M78 36h1M88 36h1M0 37h1M5 37h1M10 37h1M12 37h1M16 37h2M20 37h1M24 37h1M30 37h1M33 37h1M40 37h1M54 37h2M68 37h1M81 37h1M87 37h1M5 38h1M7 38h2M15 38h1M24 38h1M26 38h1M29 38h1M47 38h1M49 38h1M53 38h2M80 38h1M90 38h1M15 39h1M17 39h1M23 39h1M28 39h2M39 39h1M41 39h3M46 39h1M8 40h1M15 40h4M23 40h1M25 40h1M27 40h1M36 40h1M43 40h3M88 40h2M14 41h1M17 41h1M20 41h1M22 41h2M25 41h1M30 41h1M39 41h3M43 41h1M60 41h1M87 41h1M17 42h1M20 42h1M27 42h1M37 42h1M39 42h3M43 42h1M20 43h3M25 43h1M38 43h1M40 43h1M22 44h1M28 44h1M34 44h2M38 44h1M41 44h1M61 44h1M23 45h1M30 45h1M32 45h2M38 45h2M41 45h1M66 45h1M90 45h1M17 46h1M29 46h1M33 46h2M38 46h2M28 47h1M31 47h1M33 47h1M39 47h1M45 47h1M60 47h1M90 47h1M17 48h1M28 48h2M36 48h1M38 48h1M45 48h1M0 49h1M13 49h3M17 49h1M19 49h1M28 49h1M34 49h1M36 49h2M83 49h1M12 50h1M15 50h1M19 50h1M24 50h1M27 50h3M37 50h1M47 50h1M61 50h1M67 50h2M82 50h1"/><path stroke="#20b0ac" d="M36 0h1M38 0h1M42 0h2M59 0h1M67 0h2M71 0h2M77 0h1M82 0h1M88 0h1M36 1h1M41 1h3M58 1h1M62 1h1M68 1h1M73 1h1M76 1h1M78 1h1M87 1h2M90 1h1M33 2h1M35 2h1M42 2h1M61 2h1M68 2h1M74 2h1M76 2h2M84 2h1M88 2h1M31 3h1M34 3h1M41 3h1M61 3h1M69 3h3M73 3h1M76 3h1M84 3h1M87 3h1M31 4h1M34 4h1M47 4h1M69 4h1M73 4h2M77 4h1M83 4h1M86 4h1M3 5h1M48 5h1M59 5h1M84 5h1M35 6h1M37 6h1M44 6h1M55 6h1M57 6h1M59 6h1M35 7h3M40 7h1M48 7h1M61 7h1M63 7h2M24 8h1M33 8h1M55 8h1M62 8h1M1 9h1M5 9h1M33 9h1M35 9h1M47 9h1M57 9h1M64 9h1M90 9h1M6 10h1M11 10h1M30 10h1M36 10h1M38 10h1M53 10h2M60 10h1M89 10h1M1 11h1M3 11h4M9 11h2M12 11h1M16 11h1M31 11h1M35 11h1M52 11h1M67 11h1M26 12h1M32 12h1M36 12h2M68 12h1M3 13h2M8 13h1M41 13h1M1 14h1M5 14h1M7 14h1M11 14h1M17 14h1M25 14h2M30 14h1M54 14h1M57 14h1M59 14h1M2 15h1M7 15h1M12 15h1M15 15h1M23 15h1M29 15h1M40 15h1M44 15h1M55 15h1M2 16h1M13 16h1M16 16h1M23 16h2M35 16h2M38 16h1M44 16h1M63 16h1M0 17h1M9 17h2M18 17h1M21 17h1M23 17h1M25 17h1M28 17h1M31 17h1M43 17h2M58 17h1M62 17h2M0 18h1M12 18h1M21 18h1M26 18h2M30 18h2M37 18h1M39 18h1M43 18h2M54 18h1M64 18h1M85 18h1M10 19h2M13 19h1M16 19h1M19 19h1M22 19h1M40 19h1M46 19h1M54 19h1M56 19h1M58 19h1M61 19h1M65 19h1M82 19h2M85 19h1M0 20h1M11 20h1M20 20h1M29 20h2M41 20h1M47 20h2M55 20h3M61 20h1M81 20h1M85 20h1M87 20h1M15 21h1M17 21h2M27 21h1M42 21h1M44 21h1M46 21h1M53 21h1M56 21h1M82 21h2M0 22h2M5 22h1M29 22h2M44 22h2M51 22h1M54 22h1M82 22h1M85 22h1M0 23h1M2 23h1M8 23h1M15 23h1M26 23h3M30 23h2M42 23h2M47 23h1M50 23h1M53 23h2M59 23h1M64 23h1M82 23h1M0 24h1M2 24h2M9 24h1M13 24h1M15 24h1M27 24h1M32 24h1M38 24h1M44 24h2M48 24h1M53 24h2M64 24h1M81 24h1M89 24h1M8 25h1M11 25h1M23 25h2M27 25h2M30 25h2M34 25h1M41 25h1M43 25h1M62 25h2M66 25h2M90 25h1M1 26h3M6 26h4M17 26h1M24 26h4M29 26h2M34 26h1M36 26h1M41 26h3M45 26h1M52 26h1M65 26h2M81 26h1M0 27h1M3 27h4M24 27h2M28 27h1M30 27h1M42 27h1M67 27h1M77 27h1M79 27h1M0 28h1M2 28h1M6 28h1M19 28h1M24 28h1M30 28h2M50 28h2M70 28h1M76 28h1M84 28h1M2 29h2M6 29h2M9 29h1M23 29h2M26 29h1M31 29h2M41 29h1M43 29h1M81 29h2M86 29h2M4 30h2M8 30h1M12 30h1M29 30h1M34 30h1M39 30h1M44 30h1M47 30h1M76 30h1M78 30h1M84 30h1M7 31h1M14 31h1M17 31h1M26 31h1M31 31h1M36 31h1M39 31h1M43 31h1M45 31h2M52 31h2M78 31h1M16 32h1M22 32h1M24 32h1M26 32h1M35 32h2M38 32h1M43 32h1M46 32h1M52 32h1M78 32h1M84 32h1M3 33h2M14 33h2M26 33h1M39 33h1M51 33h1M76 33h1M0 34h1M5 34h1M14 34h4M21 34h1M31 34h2M34 34h2M38 34h1M47 34h1M77 34h2M84 34h1M10 35h1M15 35h3M28 35h1M36 35h1M43 35h1M46 35h4M76 35h1M8 36h2M12 36h1M18 36h1M20 36h1M28 36h1M30 36h1M38 36h1M49 36h1M55 36h1M85 36h3M18 37h2M25 37h4M38 37h1M42 37h1M47 37h1M49 37h1M79 37h1M85 37h1M6 38h1M17 38h1M27 38h1M35 38h1M40 38h2M43 38h2M46 38h1M48 38h1M88 38h1M44 39h2M89 39h2M14 40h1M26 40h1M28 40h1M40 40h2M18 41h1M24 41h1M27 41h1M37 41h1M18 42h1M21 42h2M24 42h1M26 42h1M42 42h1M17 43h2M24 43h1M26 43h1M37 43h1M39 43h1M41 43h2M18 44h1M20 44h1M25 44h1M27 44h1M33 44h1M37 44h1M17 45h1M27 45h2M37 45h1M18 46h1M28 46h1M31 46h2M17 47h2M21 47h1M29 47h1M14 48h2M27 48h1M30 48h1M34 48h1M60 48h2M18 49h1M22 49h2M29 49h2M38 49h1M14 50h1M20 50h1M30 50h1M32 50h1M34 50h1M36 50h1M39 50h1M81 50h1"/><path stroke="#34b4a2" d="M32 0h4M70 0h1M81 0h1M83 0h1M32 1h2M61 1h1M69 1h1M71 1h2M74 1h1M77 1h1M80 1h1M82 1h1M84 1h1M43 2h1M59 2h1M62 2h1M72 2h2M75 2h1M87 2h1M32 3h2M35 3h1M59 3h1M72 3h1M74 3h1M83 3h1M85 3h1M33 4h1M60 4h1M84 4h1M42 5h1M47 5h1M61 5h1M74 5h1M90 5h1M56 6h1M58 6h1M57 7h1M35 8h2M59 8h1M63 8h1M65 8h1M0 9h1M59 9h1M62 9h2M5 10h1M10 10h1M57 10h1M90 10h1M0 11h1M2 11h1M53 11h3M90 11h1M0 12h1M3 12h2M8 12h2M11 12h2M31 12h1M53 12h1M67 12h1M0 13h1M11 13h1M25 13h1M56 13h1M58 13h1M0 14h1M6 14h1M9 14h1M13 14h1M24 14h1M31 14h1M41 14h1M43 14h2M58 14h1M0 15h2M6 15h1M8 15h1M13 15h1M26 15h1M28 15h1M30 15h1M54 15h1M3 16h1M22 16h1M27 16h2M31 16h3M40 16h1M2 17h1M11 17h1M34 17h1M13 18h2M17 18h1M19 18h1M32 18h1M34 18h1M38 18h1M12 19h1M28 19h2M33 19h2M36 19h4M53 19h1M13 20h3M18 20h1M31 20h1M34 20h1M39 20h1M45 20h1M53 20h1M58 20h3M84 20h1M0 21h1M7 21h1M13 21h1M30 21h4M39 21h1M47 21h1M54 21h1M61 21h1M63 21h2M85 21h1M6 22h1M8 22h1M34 22h2M37 22h1M39 22h1M42 22h2M46 22h2M55 22h1M59 22h1M63 22h1M84 22h1M4 23h2M38 23h1M51 23h1M57 23h1M83 23h1M6 24h1M24 24h2M34 24h2M39 24h2M42 24h2M61 24h1M90 24h1M5 25h2M9 25h1M12 25h2M15 25h1M25 25h1M29 25h1M39 25h2M49 25h3M0 26h1M4 26h2M12 26h1M15 26h2M28 26h1M39 26h1M44 26h1M49 26h1M51 26h1M7 27h1M9 27h1M26 27h1M29 27h1M33 27h1M43 27h1M45 27h1M70 27h1M82 27h2M1 28h1M9 28h1M23 28h1M27 28h1M33 28h2M38 28h1M43 28h1M81 28h1M85 28h2M0 29h1M4 29h1M12 29h1M15 29h1M27 29h1M29 29h1M39 29h1M76 29h1M9 30h3M13 30h1M15 30h2M25 30h2M40 30h2M45 30h1M52 30h1M83 30h1M2 31h1M4 31h1M9 31h2M15 31h2M20 31h1M28 31h1M38 31h1M41 31h2M47 31h1M75 31h3M4 32h1M14 32h1M25 32h1M31 32h1M37 32h1M40 32h2M75 32h2M16 33h1M21 33h1M31 33h1M34 33h1M36 33h1M27 34h2M30 34h1M36 34h2M43 34h1M51 34h1M6 35h1M11 35h1M18 35h1M20 35h1M27 35h1M29 35h2M55 35h1M78 35h1M84 35h1M10 36h1M19 36h1M29 36h1M45 36h2M48 36h1M84 36h1M7 37h3M35 37h3M39 37h1M41 37h1M43 37h3M48 37h1M83 37h2M36 38h1M42 38h1M89 38h1M36 39h2M37 40h1M39 40h1M38 41h1M19 42h1M25 42h1M38 42h1M19 43h1M23 43h1M23 44h2M18 45h1M36 45h1M19 46h2M24 46h1M27 46h1M90 46h1M19 47h1M26 47h2M32 47h1M16 48h1M20 48h2M23 48h4M31 48h1M33 48h1M21 49h1M24 49h1M27 49h1M33 49h1M35 49h1M39 49h1M21 50h3M31 50h1M33 50h1M38 50h1"/><path stroke="#48b898" d="M80 0h1M89 0h1M34 1h1M59 1h1M70 1h1M79 1h1M34 2h1M41 2h1M60 2h1M70 2h2M60 3h1M85 4h1M56 7h1M59 7h1M57 8h1M64 8h1M58 9h1M61 9h1M0 10h2M58 10h1M11 11h1M56 11h1M6 12h2M55 12h2M7 13h1M10 13h1M12 13h1M53 13h2M35 14h1M39 14h1M42 14h1M53 14h1M66 14h1M24 15h2M35 15h2M58 15h1M1 16h1M42 16h2M4 17h1M33 17h1M8 18h1M11 18h1M22 18h1M28 18h2M33 18h1M9 19h1M14 19h1M17 19h2M31 19h1M2 20h2M16 20h1M28 20h1M32 20h1M35 20h1M38 20h1M54 20h1M82 20h1M14 21h1M16 21h1M34 21h1M36 21h3M43 21h1M55 21h1M57 21h4M62 21h1M84 21h1M14 22h1M16 22h1M27 22h1M32 22h2M38 22h1M57 22h1M61 22h1M1 23h1M6 23h2M14 23h1M39 23h1M56 23h1M58 23h1M61 23h1M63 23h1M85 23h1M5 24h1M26 24h1M49 24h1M63 24h1M4 25h1M14 25h1M35 25h1M37 25h1M44 25h1M14 26h1M35 26h1M40 26h1M67 26h1M1 27h2M11 27h1M20 27h1M27 27h1M36 27h2M39 27h1M44 27h1M50 27h2M81 27h1M3 28h3M8 28h1M37 28h1M39 28h1M41 28h2M1 29h1M14 29h1M25 29h1M42 29h1M84 29h2M17 30h1M20 30h5M46 30h1M85 30h1M5 31h1M18 31h2M21 31h4M29 31h1M5 32h2M27 32h1M30 32h1M27 33h2M18 34h1M29 34h1M42 34h1M19 35h1M85 35h1M16 36h1M47 36h1M29 37h1M46 37h1M37 38h3M45 38h1M38 39h1M40 39h1M38 40h1M23 42h1M17 44h1M19 44h1M21 44h1M26 44h1M25 45h2M23 46h1M20 47h1M23 47h1M30 47h1M18 48h1M32 48h1M31 49h2M35 50h1"/><path stroke="#62ba8a" d="M78 0h2M90 0h1M58 7h1M10 12h1M54 12h1M5 13h1M31 13h1M55 13h1M8 14h1M12 14h1M37 14h1M34 15h1M43 15h1M30 16h1M1 17h1M22 17h1M30 17h1M2 18h1M9 18h1M32 19h1M17 20h1M37 20h1M83 20h1M1 21h1M4 21h1M35 21h1M40 21h2M31 22h1M41 22h1M56 22h1M58 22h1M60 22h1M62 22h1M41 23h1M62 23h1M41 24h1M62 24h1M10 25h1M26 25h1M10 26h1M13 26h1M50 26h1M8 27h1M10 27h1M14 27h2M40 27h2M10 28h3M15 28h1M82 28h2M87 28h1M10 29h2M13 29h1M34 29h1M83 29h1M3 30h1M14 30h1M27 30h2M25 31h1M27 31h1M30 31h1M40 31h1M29 32h1M39 32h1M42 32h1M18 33h2M19 34h2M6 37h1M24 45h1M21 46h2M22 47h1M24 47h1M22 48h1"/><path stroke="#7cbd7c" d="M5 12h1M6 13h1M9 13h1M32 13h1M38 13h2M33 14h1M33 15h1M29 16h1M34 16h1M7 17h1M29 17h1M7 18h1M2 19h1M4 19h1M33 20h1M36 20h1M40 20h1M8 21h1M15 22h1M40 22h1M13 27h1M16 27h1M13 28h2M28 28h2M35 28h1M28 29h1M44 29h1M0 30h1M18 30h1M29 33h2M25 47h1"/><path stroke="#9cb86c" d="M60 8h1M33 13h1M8 17h1M7 19h1M1 20h1M5 20h1M40 23h1M28 32h1"/><path stroke="#bcb45c" d="M60 7h1M35 13h1M37 13h1M32 14h1M38 14h1M5 17h1M5 18h1M7 20h2M50 24h1M11 26h1M16 29h1M2 30h1M1 32h1M18 32h1M20 33h1"/><path stroke="#d6b64c" d="M15 11h1M34 13h1M31 15h1M39 15h1M3 17h1M3 21h1M5 21h1M28 21h1M19 27h1M18 28h1M21 28h1M18 29h1M35 29h1M1 31h1M20 32h1M20 45h1"/><path stroke="#f0b83c" d="M89 4h1M66 11h1M36 13h1M57 13h1M60 13h1M36 14h1M72 14h1M32 15h1M37 15h2M1 19h1M3 19h1M6 21h1M28 24h3M83 24h1M17 27h2M21 27h1M35 27h1M36 28h1M1 30h1M21 32h1M5 33h1M40 33h1M22 35h1M21 45h1"/><path stroke="#f4c032" d="M88 4h1M55 5h1M39 7h1M58 8h1M4 14h1M34 14h1M41 15h1M6 17h1M1 18h1M4 18h1M6 18h1M5 19h2M8 19h1M15 19h1M4 20h1M6 20h1M87 23h1M34 27h1M16 28h1M21 29h1M3 31h1M2 32h1M19 32h1M19 45h1M22 45h1M25 46h1"/><path stroke="#f8c828" d="M27 2h1M14 11h1M30 12h1M59 13h1M20 16h1M25 18h1M2 21h1M23 24h1M31 24h1M17 28h1M12 33h1M45 34h1M11 37h1"/><path stroke="#f7d423" d="M55 4h1M66 10h1M30 11h1M66 13h1M42 15h1M73 15h1M25 22h1M21 24h2M45 28h2M20 29h1M45 29h2M12 32h1M26 46h1"/><path stroke="#f6e01e" d="M24 22h1M26 22h1M8 24h1M19 24h1M20 28h1M40 28h1M44 28h1M17 29h1M40 29h1M6 36h1"/><path stroke="#f7ec17" d="M54 3h1M14 10h1M39 16h1M7 28h1M8 29h1M19 29h1M37 33h1"/><path stroke="#f8f810" d="M88 3h2M14 17h1M39 17h1M3 32h1"/></g></g></g>
<use href="#gr"/><g clip-path="url(#cp)"><use href="#fl"/></g>
<polygon points="441,329 444.9,341 457.5,341 447.3,348.3 451.2,360.3 441,352.9 430.8,360.3 434.7,348.3 424.5,341 437.1,341" fill="#ff0000"/>
<use href="#fr"/><use href="#lb"/>
<text class="p" x="52.6" y="-24.3">(a)</text>
<text class="h" style="font-size:54.6px" x="447.1" y="-26.5" text-anchor="middle">9−11 February 2021</text>
</g>
<g transform="translate(1230.7,127.9) scale(1,1.0005)">
<g clip-path="url(#cp)"><g transform="translate(-4.13,-5.08) scale(8.2656,10.1500)" shape-rendering="crispEdges" fill="none"><rect width="91" height="51" fill="#0ba4c6"/><g transform="translate(0,.5)"><path stroke="#352a87" d="M88 49h1"/><path stroke="#363096" d="M87 33h1M89 49h1"/><path stroke="#3637a4" d="M11 7h1M87 32h1M86 33h1"/><path stroke="#2f49c0" d="M10 8h1"/><path stroke="#2652cc" d="M24 3h1M24 4h1M10 7h1"/><path stroke="#1c5ad8" d="M87 36h1"/><path stroke="#1261dc" d="M85 34h2M85 35h4"/><path stroke="#0868e0" d="M11 8h1M23 10h1M84 34h1M87 34h1M84 35h1M86 36h1"/><path stroke="#0a6ede" d="M21 10h1M72 11h1M54 12h1M73 15h1M85 32h2M85 33h1M88 34h1M83 35h1M88 36h1"/><path stroke="#0d74dc" d="M12 5h1M39 5h1M12 6h1M40 7h1M74 8h1M71 9h2M74 9h1M73 10h1M81 10h1M52 12h1M73 12h2M80 12h1M79 20h1M84 33h1M88 33h1M83 34h1M84 36h2M88 48h1"/><path stroke="#107ada" d="M13 5h2M40 5h1M11 6h1M39 6h1M31 7h1M39 7h1M75 8h1M73 9h1M71 10h2M73 11h1M53 12h1M71 12h2M75 12h1M81 12h1M88 32h1M83 33h1M89 34h1M82 35h1M83 36h1M84 37h1M87 37h2M5 44h2M86 48h2"/><path stroke="#1480d8" d="M13 4h3M39 4h2M11 5h1M15 5h1M41 5h2M13 6h3M40 6h1M12 7h1M72 8h1M76 8h1M75 9h1M81 9h1M70 10h1M74 10h2M80 10h1M53 11h1M71 11h1M74 11h1M76 11h1M79 11h3M23 12h1M79 12h1M73 13h1M90 14h1M85 31h2M89 35h1M82 36h1M83 37h1M85 37h2M10 43h1M9 44h1M5 45h1M77 45h1M78 46h1M78 47h1M86 49h2"/><path stroke="#1486d6" d="M17 2h1M36 2h1M38 2h1M13 3h1M15 3h1M21 3h1M39 3h2M16 4h1M19 4h2M41 4h1M38 5h1M10 6h1M28 6h1M38 6h1M41 6h2M13 7h1M26 7h1M28 7h1M34 7h1M38 7h1M41 7h1M25 8h1M27 8h1M39 8h2M71 8h1M73 8h1M70 9h1M76 9h1M82 9h1M82 10h1M70 11h1M82 11h1M76 12h1M71 13h1M74 13h2M90 13h1M79 21h1M82 24h1M87 31h1M84 32h1M89 32h1M89 33h1M82 34h1M81 36h1M89 36h1M82 37h1M89 37h1M83 38h1M82 39h1M4 43h1M6 43h1M4 44h1M10 44h1M76 45h1M76 46h2M77 47h1M88 47h1M85 48h1M89 48h1"/><path stroke="#138cd4" d="M16 0h1M38 0h2M16 1h2M38 1h3M15 2h2M21 2h1M27 2h1M33 2h1M35 2h1M39 2h2M66 2h1M17 3h1M19 3h2M30 3h1M36 3h3M41 3h2M11 4h2M21 4h2M38 4h1M79 4h1M16 5h2M19 5h1M21 5h1M32 5h1M43 5h1M80 5h1M16 6h2M29 6h2M32 6h1M43 6h1M15 7h1M24 7h2M27 7h1M29 7h1M32 7h2M36 7h1M42 7h1M74 7h1M76 7h1M12 8h1M23 8h2M26 8h1M38 8h1M41 8h1M77 8h1M83 8h1M39 9h2M77 9h4M76 10h4M75 11h1M70 12h1M77 12h1M82 12h1M84 12h2M90 12h1M70 13h1M72 13h1M76 13h1M80 13h1M82 13h2M85 13h1M89 13h1M46 14h1M72 14h2M75 14h1M89 14h1M46 15h2M90 15h1M79 19h1M80 21h1M88 31h1M81 35h1M81 37h1M88 38h1M73 40h1M82 40h1M8 41h1M4 42h1M9 42h2M5 43h1M9 43h1M7 44h1M6 45h1M8 45h1M10 45h1M78 45h1M75 46h1M74 47h1M76 47h1M86 47h2"/><path stroke="#1292d2" d="M32 0h1M49 0h1M55 0h1M63 0h3M14 1h2M18 1h1M28 1h4M64 1h1M14 2h1M18 2h3M22 2h1M25 2h1M28 2h4M34 2h1M37 2h1M41 2h2M65 2h1M67 2h1M12 3h1M14 3h1M16 3h1M22 3h1M26 3h1M28 3h2M31 3h5M67 3h1M76 3h3M17 4h2M25 4h1M28 4h5M37 4h1M42 4h1M77 4h2M80 4h1M10 5h1M18 5h1M20 5h1M22 5h1M29 5h3M33 5h1M44 5h1M78 5h2M81 5h1M89 5h1M9 6h1M20 6h2M25 6h1M31 6h1M33 6h2M37 6h1M44 6h1M79 6h1M88 6h1M9 7h1M14 7h1M16 7h2M21 7h3M30 7h1M37 7h1M75 7h1M80 7h2M16 8h2M22 8h1M28 8h2M31 8h7M70 8h1M78 8h5M25 9h3M32 9h2M41 9h1M69 9h1M69 10h1M90 10h1M69 11h1M77 11h2M87 11h1M90 11h1M68 12h2M78 12h1M83 12h1M87 12h3M68 13h1M77 13h2M81 13h1M84 13h1M86 13h1M88 13h1M47 14h1M70 14h2M74 14h1M76 14h1M79 14h2M88 14h1M78 15h2M88 15h2M45 16h1M79 16h1M78 20h1M78 21h1M79 22h2M84 31h1M82 32h1M90 32h1M82 33h1M81 34h1M90 35h1M76 36h1M90 36h1M75 37h1M90 37h1M75 38h2M84 38h4M28 39h1M77 39h1M79 39h1M83 39h1M86 39h1M68 40h1M71 40h1M81 40h1M83 40h3M9 41h2M71 41h2M80 41h2M83 41h1M85 41h2M3 42h1M5 42h2M8 42h1M71 42h3M85 42h1M11 43h1M80 43h1M3 44h1M11 44h1M76 44h1M78 44h1M87 44h1M4 45h1M7 45h1M9 45h1M75 45h1M83 45h1M6 46h1M74 46h1M79 46h1M86 46h1M75 47h1M79 47h1M84 47h2M89 47h1M78 48h1M90 48h1M74 49h1M55 50h1M74 50h1"/><path stroke="#1098d0" d="M14 0h2M17 0h2M23 0h1M28 0h4M33 0h1M37 0h1M40 0h1M13 1h1M19 1h1M21 1h1M33 1h5M41 1h1M55 1h1M62 1h1M65 1h3M12 2h1M32 2h1M47 2h1M53 2h1M62 2h1M68 2h2M90 2h1M18 3h1M23 3h1M25 3h1M54 3h1M66 3h1M68 3h2M71 3h1M10 4h1M23 4h1M27 4h1M33 4h4M43 4h1M70 4h2M75 4h2M81 4h1M25 5h1M27 5h2M35 5h3M75 5h1M88 5h1M19 6h1M22 6h1M24 6h1M27 6h1M36 6h1M75 6h1M80 6h1M82 6h1M18 7h3M35 7h1M43 7h1M72 7h2M77 7h1M79 7h1M82 7h2M9 8h1M13 8h1M15 8h1M19 8h1M30 8h1M42 8h1M10 9h1M28 9h2M31 9h1M34 9h5M84 9h1M90 9h1M28 10h1M40 10h1M68 10h1M83 10h1M89 10h1M28 11h1M83 11h3M88 11h2M86 12h1M35 13h1M69 13h1M79 13h1M87 13h1M34 14h1M45 14h1M77 14h2M82 14h1M84 14h2M25 15h1M45 15h1M67 15h1M72 15h1M77 15h1M80 15h1M87 15h1M46 16h3M73 16h1M78 16h1M80 16h1M86 16h2M46 17h1M78 17h1M80 17h3M84 17h1M30 18h1M46 18h1M78 18h3M82 18h1M84 18h1M30 19h1M78 19h1M80 19h4M77 20h1M85 30h3M89 31h1M83 32h1M81 33h1M90 33h1M90 34h1M37 35h1M80 35h1M20 36h1M77 36h1M80 36h1M20 37h1M73 37h1M76 37h1M79 37h2M71 38h1M74 38h1M77 38h3M81 38h2M89 38h1M3 39h1M27 39h1M29 39h1M66 39h1M68 39h1M71 39h5M78 39h1M80 39h2M84 39h2M87 39h2M3 40h2M8 40h3M28 40h1M67 40h1M69 40h2M72 40h1M74 40h1M76 40h5M86 40h2M5 41h1M7 41h1M11 41h1M39 41h1M70 41h1M74 41h1M77 41h2M82 41h1M84 41h1M88 41h1M7 42h1M11 42h1M77 42h5M83 42h2M87 42h1M3 43h1M7 43h2M71 43h1M76 43h1M78 43h1M81 43h1M84 43h2M87 43h2M8 44h1M77 44h1M80 44h1M83 44h1M86 44h1M11 45h3M25 45h1M29 45h1M79 45h2M87 45h1M4 46h1M10 46h1M13 46h2M35 46h1M54 46h1M80 46h1M82 46h1M85 46h1M55 47h2M81 47h3M56 48h1M73 48h5M81 48h2M81 49h1M85 49h1M40 50h2M56 50h1M73 50h1M86 50h2"/><path stroke="#0c9cce" d="M11 0h2M19 0h3M24 0h2M34 0h1M36 0h1M41 0h1M48 0h1M50 0h1M53 0h2M61 0h2M66 0h6M86 0h1M90 0h1M10 1h1M12 1h1M20 1h1M22 1h3M26 1h2M32 1h1M47 1h3M54 1h1M60 1h2M63 1h1M68 1h3M76 1h1M90 1h1M10 2h2M13 2h1M24 2h1M26 2h1M43 2h2M46 2h1M48 2h1M54 2h1M57 2h1M63 2h2M70 2h3M76 2h3M9 3h1M11 3h1M27 3h1M43 3h1M48 3h2M52 3h2M55 3h3M59 3h2M65 3h1M70 3h1M74 3h2M79 3h2M89 3h2M26 4h1M44 4h1M53 4h1M55 4h2M58 4h2M68 4h1M72 4h2M82 4h1M88 4h3M9 5h1M23 5h1M26 5h1M34 5h1M54 5h1M58 5h1M63 5h2M76 5h2M82 5h1M87 5h1M90 5h1M18 6h1M23 6h1M26 6h1M35 6h1M45 6h1M71 6h1M76 6h1M78 6h1M81 6h1M83 6h1M87 6h1M89 6h1M44 7h2M71 7h1M78 7h1M88 7h2M14 8h1M18 8h1M21 8h1M43 8h1M69 8h1M84 8h1M89 8h2M11 9h1M15 9h5M22 9h3M42 9h1M68 9h1M83 9h1M87 9h1M89 9h1M16 10h1M18 10h2M25 10h3M31 10h2M34 10h2M39 10h1M41 10h1M84 10h1M87 10h2M19 11h1M27 11h1M68 11h1M86 11h1M19 12h1M36 12h1M45 13h1M47 13h1M26 14h1M48 14h1M67 14h1M69 14h1M81 14h1M83 14h1M87 14h1M24 15h1M26 15h2M34 15h1M44 15h1M66 15h1M71 15h1M75 15h2M82 15h1M84 15h3M24 16h1M29 16h2M42 16h2M72 16h1M77 16h1M81 16h2M84 16h2M88 16h2M42 17h2M45 17h1M47 17h1M77 17h1M79 17h1M83 17h1M85 17h4M32 18h1M47 18h1M77 18h1M81 18h1M83 18h1M86 18h1M88 18h1M31 19h1M77 19h1M81 20h2M81 21h2M78 22h1M81 22h1M78 23h1M85 29h1M84 30h1M83 31h1M90 31h1M81 32h1M6 33h1M73 33h1M23 34h1M38 34h1M79 35h1M19 36h1M72 36h1M74 36h2M78 36h1M19 37h1M21 37h1M70 37h3M74 37h1M77 37h2M3 38h1M21 38h1M27 38h2M70 38h1M73 38h1M80 38h1M4 39h1M8 39h1M33 39h1M67 39h1M69 39h2M76 39h1M7 40h1M29 40h1M75 40h1M88 40h2M3 41h2M6 41h1M67 41h1M69 41h1M73 41h1M76 41h1M79 41h1M87 41h1M36 42h1M70 42h1M75 42h2M82 42h1M86 42h1M29 43h1M36 43h1M72 43h2M75 43h1M77 43h1M79 43h1M82 43h1M86 43h1M2 44h1M12 44h1M26 44h1M29 44h2M35 44h2M71 44h5M79 44h1M81 44h2M85 44h1M3 45h1M26 45h3M30 45h1M33 45h4M70 45h2M73 45h1M81 45h1M84 45h3M5 46h1M7 46h1M9 46h1M11 46h2M25 46h3M30 46h1M34 46h1M36 46h1M39 46h1M52 46h1M56 46h1M71 46h3M81 46h1M83 46h2M87 46h2M11 47h3M35 47h1M39 47h1M42 47h1M48 47h1M52 47h1M54 47h1M72 47h2M80 47h1M35 48h1M40 48h1M44 48h1M51 48h1M72 48h1M79 48h2M83 48h2M40 49h3M54 49h3M73 49h1M75 49h1M80 49h1M82 49h3M13 50h1M31 50h1M72 50h1M75 50h1M81 50h3M88 50h1"/><path stroke="#08a0cc" d="M9 0h2M13 0h1M22 0h1M27 0h1M35 0h1M42 0h1M44 0h3M56 0h1M60 0h1M75 0h4M80 0h1M85 0h1M89 0h1M11 1h1M25 1h1M42 1h2M45 1h2M52 1h2M56 1h1M59 1h1M71 1h1M75 1h1M77 1h3M89 1h1M3 2h2M8 2h2M23 2h1M45 2h1M49 2h1M51 2h2M55 2h2M58 2h4M75 2h1M79 2h2M89 2h1M4 3h1M10 3h1M44 3h2M47 3h1M50 3h1M58 3h1M61 3h2M64 3h1M72 3h1M88 3h1M2 4h1M9 4h1M47 4h3M52 4h1M54 4h1M57 4h1M60 4h3M64 4h2M67 4h1M69 4h1M74 4h1M87 4h1M8 5h1M24 5h1M53 5h1M57 5h1M59 5h1M69 5h1M72 5h3M83 5h1M3 6h1M7 6h2M46 6h1M63 6h1M65 6h1M69 6h1M73 6h2M77 6h1M84 6h1M1 7h2M4 7h1M8 7h1M70 7h1M84 7h1M86 7h2M90 7h1M2 8h1M5 8h1M8 8h1M20 8h1M68 8h1M88 8h1M4 9h1M12 9h1M14 9h1M21 9h1M30 9h1M53 9h1M65 9h1M86 9h1M88 9h1M15 10h1M17 10h1M20 10h1M22 10h1M29 10h2M33 10h1M36 10h1M38 10h1M51 10h1M67 10h1M85 10h2M20 11h1M26 11h1M36 11h1M40 11h2M52 11h1M27 12h2M35 12h1M67 12h1M19 13h1M27 13h2M34 13h1M36 13h1M46 13h1M48 13h1M66 13h2M24 14h2M27 14h2M32 14h2M35 14h2M66 14h1M68 14h1M86 14h1M21 15h1M28 15h1M30 15h4M48 15h1M68 15h1M70 15h1M74 15h1M81 15h1M83 15h1M22 16h1M25 16h1M28 16h1M31 16h2M34 16h1M44 16h1M66 16h1M74 16h3M83 16h1M90 16h1M24 17h1M30 17h2M41 17h1M44 17h1M48 17h1M73 17h1M76 17h1M89 17h1M0 18h2M29 18h1M40 18h2M43 18h2M48 18h1M85 18h1M89 18h1M0 19h1M45 19h3M76 19h1M84 19h2M88 19h1M30 20h1M46 20h1M77 21h1M77 22h1M79 23h1M86 23h1M85 28h1M14 29h1M86 29h1M88 30h1M31 32h1M18 33h1M20 33h1M22 33h2M28 33h1M74 33h1M5 34h1M22 34h1M29 34h1M37 34h1M73 34h1M76 34h1M78 34h1M80 34h1M5 35h1M7 35h1M19 35h1M22 35h1M53 35h1M74 35h3M78 35h1M6 36h2M16 36h3M21 36h1M70 36h2M73 36h1M79 36h1M13 37h1M15 37h4M22 37h3M27 37h2M2 38h1M12 38h1M18 38h3M23 38h2M29 38h1M65 38h1M69 38h1M72 38h1M90 38h1M2 39h1M10 39h1M12 39h1M26 39h1M40 39h1M64 39h2M89 39h1M2 40h1M5 40h2M11 40h1M27 40h1M66 40h1M28 41h1M30 41h1M53 41h1M65 41h1M68 41h1M75 41h1M89 41h1M2 42h1M12 42h1M17 42h1M22 42h2M31 42h2M37 42h4M52 42h3M62 42h1M69 42h1M74 42h1M88 42h3M2 43h1M12 43h1M23 43h1M26 43h1M30 43h3M37 43h1M39 43h1M53 43h1M55 43h1M58 43h1M60 43h1M62 43h1M64 43h1M74 43h1M83 43h1M89 43h1M13 44h1M25 44h1M33 44h2M38 44h2M52 44h2M58 44h1M63 44h1M70 44h1M84 44h1M88 44h2M14 45h1M16 45h2M24 45h1M39 45h2M53 45h2M68 45h2M72 45h1M74 45h1M82 45h1M88 45h1M0 46h1M3 46h1M8 46h1M24 46h1M28 46h2M40 46h1M53 46h1M55 46h1M57 46h1M70 46h1M89 46h1M9 47h2M14 47h1M19 47h1M22 47h2M25 47h1M29 47h1M34 47h1M36 47h2M40 47h2M43 47h3M50 47h1M53 47h1M71 47h1M12 48h2M15 48h1M20 48h2M38 48h1M41 48h3M45 48h2M49 48h2M52 48h4M8 49h1M13 49h2M50 49h1M72 49h1M76 49h4M90 49h1M12 50h1M26 50h2M30 50h1M47 50h1M54 50h1M71 50h1M76 50h2M89 50h1"/><path stroke="#0ea8c0" d="M7 0h2M73 0h1M81 0h1M83 0h2M5 1h2M82 1h1M85 1h4M2 2h1M73 2h1M2 3h1M7 3h1M5 4h2M4 5h1M6 5h2M47 5h1M49 5h1M51 5h1M68 5h1M85 5h1M4 6h1M47 6h3M52 6h1M55 6h1M57 6h2M68 6h1M72 6h1M0 7h1M5 7h2M50 7h1M52 7h1M62 7h5M85 7h1M0 8h2M6 8h2M46 8h1M51 8h1M53 8h1M62 8h2M65 8h1M85 8h3M5 9h1M8 9h1M13 9h1M85 9h1M1 10h1M9 10h1M11 10h1M14 10h1M52 10h3M65 10h2M17 11h1M24 11h2M32 11h1M43 11h1M50 11h2M63 11h1M65 11h2M21 12h1M24 12h1M29 12h1M38 12h1M43 12h1M45 12h1M47 12h1M49 12h1M63 12h2M0 13h1M20 13h1M22 13h3M37 13h1M40 13h1M43 13h1M21 14h1M30 14h1M41 14h2M0 15h1M23 15h1M41 15h1M49 15h1M65 15h1M19 16h2M33 16h1M63 16h2M70 16h1M5 17h1M22 17h1M26 17h1M33 17h2M40 17h1M63 17h1M67 17h1M71 17h1M74 17h1M90 17h1M13 18h1M22 18h3M26 18h1M35 18h1M49 18h1M67 18h1M76 18h1M90 18h1M28 19h2M41 19h1M43 19h2M68 19h1M75 19h1M86 19h1M90 19h1M8 20h1M32 20h1M47 20h1M69 20h2M83 20h1M45 21h2M83 21h1M86 21h1M88 21h2M75 22h2M83 22h1M85 22h4M74 23h1M80 23h1M84 23h2M87 23h1M11 24h1M69 24h1M71 24h1M76 24h1M79 24h1M86 24h1M31 25h1M63 25h1M71 25h1M78 25h1M87 25h1M12 26h1M14 26h1M55 26h1M69 26h1M85 26h1M13 27h1M85 27h1M14 28h1M29 28h4M52 28h1M67 28h1M84 28h1M30 29h1M33 29h1M83 29h1M1 30h1M32 30h2M37 30h1M69 30h2M72 30h1M89 30h1M1 31h2M15 31h2M27 31h1M32 31h1M34 31h1M76 31h1M80 31h1M15 32h1M17 32h3M21 32h2M26 32h1M28 32h1M32 32h1M37 32h3M70 32h1M74 32h1M77 32h3M3 33h1M10 33h1M12 33h1M15 33h1M17 33h1M19 33h1M21 33h1M26 33h1M33 33h1M37 33h1M69 33h4M77 33h1M2 34h1M10 34h1M13 34h2M16 34h1M31 34h3M52 34h1M70 34h1M77 34h1M1 35h2M4 35h1M13 35h4M21 35h1M33 35h1M52 35h1M60 35h1M69 35h1M72 35h1M1 36h1M3 36h1M12 36h1M31 36h1M34 36h1M36 36h2M55 36h1M0 37h1M2 37h1M6 37h1M10 37h1M12 37h1M25 37h2M33 37h1M51 37h1M64 37h2M0 38h2M6 38h1M9 38h2M14 38h1M16 38h1M25 38h1M30 38h2M35 38h1M49 38h1M51 38h1M53 38h1M64 38h1M67 38h2M0 39h1M18 39h1M20 39h2M23 39h1M25 39h1M30 39h1M35 39h2M39 39h1M50 39h1M53 39h1M62 39h1M90 39h1M17 40h1M21 40h1M23 40h2M34 40h1M36 40h1M38 40h3M42 40h1M47 40h1M49 40h1M52 40h2M61 40h2M64 40h1M90 40h1M1 41h1M27 41h1M32 41h4M38 41h1M41 41h1M45 41h2M51 41h1M54 41h2M58 41h2M61 41h1M63 41h1M13 42h1M15 42h1M26 42h3M42 42h1M46 42h2M50 42h1M63 42h1M68 42h1M13 43h1M16 43h1M18 43h1M20 43h3M24 43h2M27 43h1M42 43h1M65 43h2M68 43h1M14 44h1M19 44h1M22 44h1M24 44h1M44 44h1M56 44h2M61 44h1M64 44h3M1 45h1M18 45h1M21 45h3M37 45h2M41 45h1M43 45h6M52 45h1M55 45h1M57 45h1M59 45h2M63 45h2M90 45h1M32 46h1M38 46h1M42 46h2M45 46h1M50 46h1M67 46h3M1 47h2M6 47h1M8 47h1M27 47h2M32 47h1M38 47h1M49 47h1M58 47h1M67 47h2M70 47h1M90 47h1M0 48h1M4 48h2M7 48h3M19 48h1M22 48h1M24 48h1M31 48h2M34 48h1M57 48h1M1 49h1M11 49h1M18 49h1M20 49h1M22 49h1M31 49h2M34 49h2M37 49h1M43 49h1M53 49h1M57 49h1M7 50h1M10 50h1M15 50h1M18 50h1M22 50h1M25 50h1M29 50h1M32 50h2M39 50h1M46 50h1M78 50h1M85 50h1M90 50h1"/><path stroke="#17acb6" d="M0 0h2M5 0h1M58 0h1M82 0h1M0 1h1M2 1h1M7 1h1M83 1h2M0 2h1M82 2h1M87 2h2M0 3h2M87 3h1M1 4h1M4 4h1M84 4h3M1 5h1M3 5h1M50 5h1M0 6h1M6 6h1M50 6h1M53 6h1M56 6h1M59 6h3M85 6h1M46 7h2M60 7h1M52 8h1M64 8h1M6 9h1M44 9h3M54 9h1M59 9h1M64 9h1M0 10h1M7 10h1M12 10h2M44 10h2M0 11h2M9 11h1M11 11h1M15 11h2M23 11h1M44 11h2M54 11h2M0 12h2M17 12h1M25 12h1M31 12h3M39 12h1M46 12h1M50 12h1M18 13h1M29 13h1M38 13h1M49 13h2M63 13h1M0 14h1M29 14h1M43 14h1M64 14h1M18 15h2M55 15h1M62 15h3M1 16h1M5 16h1M36 16h1M40 16h1M56 16h1M68 16h2M6 17h2M19 17h3M39 17h1M57 17h1M64 17h3M68 17h1M70 17h1M2 18h5M27 18h1M34 18h1M36 18h1M38 18h1M56 18h1M62 18h2M72 18h2M75 18h1M8 19h1M13 19h1M18 19h1M20 19h4M25 19h3M33 19h1M40 19h1M61 19h5M71 19h1M1 20h1M9 20h2M20 20h1M43 20h1M45 20h1M48 20h1M54 20h2M61 20h2M65 20h1M67 20h1M71 20h1M84 20h1M86 20h2M89 20h1M8 21h1M54 21h1M63 21h1M67 21h4M76 21h1M69 22h1M74 22h1M84 22h1M67 23h1M76 23h1M81 23h1M89 23h1M13 24h1M15 24h1M31 24h2M37 24h1M65 24h1M70 24h1M72 24h1M75 24h1M77 24h1M80 24h1M84 24h1M88 24h1M12 25h2M21 25h2M28 25h1M33 25h1M39 25h1M62 25h1M64 25h1M69 25h1M84 25h2M88 25h1M0 26h2M13 26h1M31 26h1M33 26h1M56 26h1M68 26h1M70 26h2M77 26h1M90 26h1M1 27h1M14 27h1M30 27h3M55 27h1M68 27h2M1 28h1M12 28h1M33 28h1M42 28h1M50 28h1M56 28h1M69 28h1M83 28h1M86 28h1M15 29h1M69 29h1M82 29h1M87 29h1M13 30h3M26 30h1M30 30h1M34 30h3M38 30h1M40 30h1M76 30h1M81 30h1M90 30h1M5 31h3M13 31h1M17 31h2M20 31h4M25 31h1M30 31h2M33 31h1M37 31h2M70 31h6M77 31h2M1 32h2M4 32h1M7 32h1M10 32h1M12 32h2M24 32h2M33 32h1M71 32h2M0 33h1M4 33h1M7 33h1M13 33h1M24 33h2M36 33h1M39 33h2M43 33h1M0 34h1M3 34h1M8 34h2M15 34h1M21 34h1M27 34h1M36 34h1M64 34h2M69 34h1M71 34h1M3 35h1M11 35h1M25 35h1M27 35h1M39 35h1M54 35h2M64 35h3M70 35h1M0 36h1M9 36h1M14 36h1M27 36h2M32 36h2M35 36h1M38 36h1M52 36h1M67 36h1M30 37h1M32 37h1M50 37h1M52 37h1M55 37h1M63 37h1M66 37h1M68 37h1M15 38h1M32 38h1M36 38h1M40 38h2M45 38h1M50 38h1M52 38h1M54 38h2M61 38h1M63 38h1M13 39h1M15 39h2M19 39h1M22 39h1M31 39h2M37 39h1M41 39h2M44 39h1M46 39h1M52 39h1M54 39h1M56 39h1M60 39h2M63 39h1M13 40h1M16 40h1M19 40h1M22 40h1M25 40h2M31 40h1M35 40h1M37 40h1M46 40h1M48 40h1M50 40h1M58 40h3M63 40h1M0 41h1M13 41h3M18 41h1M21 41h1M24 41h3M42 41h2M49 41h1M56 41h1M62 41h1M1 42h1M18 42h4M43 42h3M57 42h1M1 43h1M15 43h1M19 43h1M44 43h1M46 43h1M51 43h1M1 44h1M15 44h1M20 44h1M48 44h1M90 44h1M20 45h1M50 45h2M61 45h1M16 46h2M47 46h1M7 47h1M33 47h1M66 47h1M69 47h1M1 48h1M3 48h1M33 48h1M63 48h1M65 48h1M67 48h4M0 49h1M2 49h2M5 49h2M15 49h2M23 49h2M29 49h1M33 49h1M44 49h1M48 49h1M65 49h2M70 49h1M16 50h1M19 50h2M23 50h2M38 50h1M45 50h1M49 50h1M52 50h2M65 50h1"/><path stroke="#20b0ac" d="M3 0h1M6 0h1M1 1h1M1 2h1M86 2h1M83 3h3M0 4h1M0 5h1M5 5h1M5 6h1M48 7h1M53 7h1M55 7h1M61 7h1M48 8h1M50 8h1M54 8h1M7 9h1M51 9h2M62 9h2M3 10h2M8 10h1M46 10h1M59 10h1M63 10h1M6 11h1M12 11h2M46 11h1M2 12h2M16 12h1M39 13h1M18 14h2M37 14h1M50 14h1M56 14h1M63 14h1M36 15h1M50 15h1M56 15h1M38 16h1M50 16h1M13 17h1M36 17h2M53 17h1M58 17h1M62 17h1M69 17h1M7 18h2M12 18h1M14 18h3M18 18h2M21 18h1M54 18h2M58 18h1M61 18h1M65 18h2M68 18h1M70 18h2M74 18h1M7 19h1M14 19h2M17 19h1M24 19h1M37 19h1M39 19h1M49 19h1M55 19h2M67 19h1M69 19h1M21 20h2M28 20h1M44 20h1M49 20h1M56 20h1M64 20h1M66 20h1M85 20h1M88 20h1M0 21h1M9 21h1M15 21h2M21 21h1M30 21h1M52 21h1M56 21h1M71 21h1M84 21h1M87 21h1M90 21h1M15 22h1M35 22h2M66 22h3M70 22h1M73 22h1M90 22h1M15 23h1M28 23h1M35 23h1M66 23h1M69 23h5M75 23h1M82 23h2M12 24h1M21 24h1M33 24h2M46 24h1M60 24h1M64 24h1M68 24h1M73 24h2M83 24h1M15 25h2M29 25h1M32 25h1M49 25h1M55 25h1M65 25h1M72 25h1M74 25h1M77 25h1M79 25h1M90 25h1M10 26h1M15 26h1M22 26h2M27 26h2M32 26h1M42 26h1M49 26h1M54 26h1M76 26h1M87 26h1M89 26h1M21 27h3M28 27h2M40 27h1M42 27h1M56 27h2M64 27h1M70 27h1M86 27h2M15 28h1M21 28h1M28 28h1M41 28h1M68 28h1M70 28h1M88 28h1M13 29h1M16 29h1M21 29h1M34 29h1M40 29h2M52 29h1M54 29h2M58 29h1M88 29h1M90 29h1M0 30h1M6 30h1M16 30h1M21 30h3M25 30h1M39 30h1M41 30h1M47 30h2M52 30h1M60 30h1M71 30h1M73 30h1M75 30h1M78 30h1M0 31h1M3 31h1M8 31h4M14 31h1M24 31h1M35 31h2M39 31h2M42 31h1M48 31h1M55 31h1M0 32h1M3 32h1M8 32h2M11 32h1M14 32h1M34 32h1M36 32h1M40 32h1M42 32h1M55 32h1M68 32h1M1 33h1M8 33h2M41 33h1M53 33h2M67 33h2M25 34h2M40 34h1M53 34h1M59 34h4M66 34h3M0 35h1M9 35h1M26 35h1M34 35h2M63 35h1M2 36h1M25 36h2M39 36h1M44 36h1M56 36h2M63 36h3M68 36h1M31 37h1M36 37h1M41 37h1M45 37h1M54 37h1M61 37h1M37 38h1M39 38h1M42 38h1M44 38h1M46 38h1M14 39h1M43 39h1M45 39h1M49 39h1M58 39h1M0 40h1M14 40h1M20 40h1M45 40h1M19 41h2M44 41h1M57 41h1M0 42h1M14 42h1M25 42h1M48 42h2M0 43h1M47 43h3M0 44h1M43 44h1M45 44h3M50 44h2M0 45h1M58 46h2M59 47h1M2 48h1M6 48h1M58 48h1M7 49h1M58 49h1M62 49h1M64 49h1M67 49h1M69 49h1M0 50h1M3 50h3M17 50h1M21 50h1M34 50h4M43 50h2M63 50h2M70 50h1"/><path stroke="#34b4a2" d="M2 0h1M4 0h1M83 2h1M86 3h1M54 7h1M57 7h3M47 8h1M59 8h1M61 8h1M55 9h1M58 9h1M60 9h2M5 10h2M47 10h2M50 10h1M55 10h1M62 10h1M3 11h1M5 11h1M7 11h2M10 11h1M14 11h1M47 11h3M56 11h1M62 11h1M5 12h2M10 12h1M15 12h1M51 12h1M17 13h1M1 14h1M7 14h1M40 14h1M57 14h1M1 15h1M7 15h1M57 15h1M6 16h2M13 16h1M53 16h3M8 17h1M38 17h1M54 17h3M59 17h1M61 17h1M20 18h1M37 18h1M50 18h1M53 18h1M60 18h1M64 18h1M69 18h1M3 19h4M9 19h2M16 19h1M19 19h1M34 19h2M51 19h1M54 19h1M72 19h1M2 20h1M7 20h1M11 20h1M16 20h3M27 20h1M33 20h1M40 20h2M50 20h2M53 20h1M63 20h1M74 20h1M90 20h1M1 21h1M6 21h2M20 21h1M27 21h1M37 21h1M47 21h2M50 21h1M53 21h1M64 21h3M72 21h2M75 21h1M0 22h1M5 22h2M8 22h1M27 22h2M34 22h1M37 22h2M46 22h2M56 22h1M63 22h3M89 22h1M0 23h1M6 23h1M20 23h1M31 23h1M33 23h2M47 23h1M60 23h2M64 23h2M68 23h1M90 23h1M1 24h1M6 24h1M10 24h1M14 24h1M16 24h1M28 24h1M30 24h1M38 24h1M40 24h1M47 24h1M56 24h1M59 24h1M62 24h2M89 24h1M0 25h2M4 25h1M9 25h1M11 25h1M23 25h1M25 25h1M30 25h1M34 25h1M36 25h1M38 25h1M40 25h2M48 25h1M50 25h1M53 25h2M60 25h2M67 25h2M83 25h1M89 25h1M2 26h1M4 26h1M11 26h1M16 26h1M20 26h1M25 26h2M29 26h1M39 26h1M45 26h1M48 26h1M50 26h1M65 26h1M78 26h1M84 26h1M2 27h1M10 27h1M15 27h1M20 27h1M34 27h1M39 27h1M47 27h1M49 27h1M54 27h1M67 27h1M71 27h1M78 27h1M83 27h2M89 27h2M16 28h1M34 28h1M48 28h2M55 28h1M57 28h1M80 28h3M87 28h1M12 29h1M22 29h1M27 29h3M35 29h2M38 29h1M46 29h1M53 29h1M60 29h2M68 29h1M71 29h2M77 29h4M5 30h1M7 30h1M9 30h1M18 30h1M24 30h1M27 30h1M42 30h2M50 30h1M59 30h1M61 30h1M74 30h1M77 30h1M79 30h2M4 31h1M12 31h1M28 31h2M41 31h1M43 31h1M47 31h1M56 31h1M60 31h1M69 31h1M79 31h1M35 32h1M41 32h1M44 32h1M48 32h2M53 32h1M63 32h1M69 32h1M14 33h1M42 33h1M44 33h1M50 33h3M59 33h2M64 33h2M34 34h2M41 34h1M51 34h1M54 34h1M43 35h3M57 35h1M67 35h2M45 36h1M50 36h1M61 36h1M66 36h1M38 37h1M42 37h1M49 37h1M56 37h2M62 37h1M67 37h1M43 38h1M48 38h1M56 38h3M62 38h1M47 39h2M15 40h1M43 40h2M56 40h2M14 43h1M45 43h1M50 43h1M49 44h1M60 46h1M62 46h1M63 49h1M68 49h1M6 50h1M66 50h1M68 50h1"/><path stroke="#48b898" d="M84 2h1M56 7h1M57 8h2M47 9h2M57 9h1M49 10h1M57 10h2M61 10h1M55 12h1M62 12h1M1 13h1M4 13h2M51 13h1M53 13h1M58 13h1M62 13h1M8 14h1M14 14h1M16 14h1M38 14h1M51 14h1M55 14h1M62 14h1M2 15h1M5 15h2M9 15h1M12 15h1M14 15h1M17 15h1M40 15h1M53 15h1M3 16h1M39 16h1M58 16h1M62 16h1M15 17h1M50 17h1M9 18h1M57 18h1M11 19h2M36 19h1M38 19h1M50 19h1M52 19h1M57 19h1M66 19h1M14 20h2M19 20h1M25 20h2M34 20h1M38 20h2M42 20h1M52 20h1M10 21h1M18 21h2M25 21h2M28 21h1M33 21h1M36 21h1M49 21h1M57 21h1M61 21h2M74 21h1M85 21h1M1 22h1M10 22h2M14 22h1M16 22h1M25 22h2M31 22h3M45 22h1M48 22h1M54 22h1M57 22h1M59 22h1M62 22h1M71 22h2M1 23h1M3 23h1M5 23h1M7 23h1M16 23h1M40 23h1M45 23h2M54 23h2M59 23h1M62 23h2M2 24h1M8 24h2M17 24h1M20 24h1M22 24h1M29 24h1M36 24h1M39 24h1M48 24h1M52 24h1M54 24h2M57 24h1M61 24h1M66 24h1M81 24h1M5 25h2M10 25h1M17 25h1M19 25h1M26 25h1M37 25h1M42 25h1M52 25h1M56 25h1M58 25h2M73 25h1M75 25h1M80 25h1M3 26h1M9 26h1M24 26h1M30 26h1M34 26h2M51 26h1M57 26h1M63 26h1M73 26h1M80 26h1M83 26h1M88 26h1M3 27h1M19 27h1M24 27h1M27 27h1M33 27h1M35 27h2M43 27h1M51 27h3M65 27h2M77 27h1M80 27h3M20 28h1M22 28h3M27 28h1M38 28h1M43 28h1M53 28h1M58 28h2M65 28h2M77 28h2M90 28h1M0 29h2M19 29h1M23 29h1M26 29h1M37 29h1M42 29h1M56 29h2M67 29h1M70 29h1M76 29h1M81 29h1M89 29h1M2 30h1M10 30h2M28 30h2M49 30h1M57 30h2M68 30h1M49 31h1M54 31h1M61 31h1M64 31h1M68 31h1M43 32h1M52 32h1M54 32h1M61 32h2M66 32h2M34 33h2M49 33h1M55 33h1M58 33h1M62 33h2M66 33h1M42 34h4M50 34h1M42 35h1M61 35h2M40 36h2M43 36h1M39 37h2M43 37h1M46 37h1M59 38h2M59 39h1M61 46h1M60 47h1M62 47h1M59 48h1M61 48h2M1 50h2M58 50h2M61 50h2M67 50h1M69 50h1"/><path stroke="#62ba8a" d="M85 2h1M55 8h2M60 8h1M56 9h1M56 10h1M4 11h1M57 11h2M61 11h1M4 12h1M12 12h2M57 12h2M2 13h2M8 13h1M15 13h2M52 13h1M54 13h4M2 14h1M4 14h3M9 14h3M8 15h1M10 15h2M13 15h1M37 15h2M54 15h1M58 15h1M61 15h1M2 16h1M4 16h1M52 16h1M59 16h1M61 16h1M3 17h2M51 17h1M60 17h1M11 18h1M17 18h1M52 18h1M59 18h1M53 19h1M58 19h1M60 19h1M73 19h2M3 20h1M12 20h2M35 20h3M57 20h1M60 20h1M73 20h1M75 20h1M2 21h1M5 21h1M11 21h1M23 21h2M43 21h1M51 21h1M55 21h1M58 21h1M4 22h1M7 22h1M9 22h1M19 22h3M29 22h1M39 22h1M50 22h1M55 22h1M58 22h1M61 22h1M9 23h5M18 23h1M24 23h4M32 23h1M38 23h2M51 23h1M58 23h1M0 24h1M4 24h2M18 24h1M23 24h1M26 24h2M42 24h2M49 24h1M53 24h1M90 24h1M3 25h1M7 25h2M18 25h1M24 25h1M27 25h1M35 25h1M44 25h1M47 25h1M51 25h1M57 25h1M66 25h1M76 25h1M81 25h1M6 26h1M17 26h3M36 26h3M46 26h2M52 26h2M58 26h2M66 26h1M72 26h1M74 26h2M4 27h2M9 27h1M16 27h1M18 27h1M26 27h1M46 27h1M63 27h1M72 27h1M75 27h1M88 27h1M9 28h3M17 28h1M35 28h3M47 28h1M51 28h1M64 28h1M72 28h1M74 28h1M5 29h1M9 29h3M18 29h1M24 29h1M44 29h1M59 29h1M66 29h1M73 29h1M75 29h1M3 30h2M8 30h1M12 30h1M53 30h1M63 30h2M67 30h1M50 31h1M53 31h1M58 31h2M62 31h1M67 31h1M45 32h1M47 32h1M58 32h2M46 33h1M57 33h1M61 33h1M49 34h1M55 34h1M63 34h1M46 35h1M48 36h1M62 36h1M44 37h1M47 37h2M59 37h1M47 38h1M57 39h1M18 46h1M59 49h1M60 50h1"/><path stroke="#7cbd7c" d="M60 10h1M59 11h1M11 12h1M60 12h1M7 13h1M11 13h2M14 13h1M3 14h1M13 14h1M15 14h1M17 14h1M52 14h1M54 14h1M3 15h2M8 16h2M51 16h1M9 17h1M17 17h1M52 17h1M10 18h1M51 18h1M59 19h1M4 20h1M58 20h1M3 21h1M12 21h2M17 21h1M22 21h1M35 21h1M38 21h1M60 21h1M2 22h2M12 22h2M17 22h1M22 22h1M24 22h1M44 22h1M49 22h1M60 22h1M2 23h1M4 23h1M8 23h1M17 23h1M19 23h1M21 23h1M23 23h1M30 23h1M43 23h2M48 23h1M52 23h1M56 23h2M3 24h1M7 24h1M19 24h1M24 24h2M35 24h1M41 24h1M58 24h1M67 24h1M82 25h1M5 26h1M7 26h2M44 26h1M60 26h1M62 26h1M67 26h1M82 26h1M17 27h1M25 27h1M37 27h1M48 27h1M58 27h1M73 27h2M76 27h1M3 28h3M18 28h2M25 28h2M63 28h1M71 28h1M2 29h1M6 29h2M17 29h1M43 29h1M45 29h1M64 29h2M45 30h2M44 31h1M63 31h1M65 31h1M46 32h1M50 32h1M56 32h2M60 32h1M65 32h1M45 33h1M46 34h1M48 35h1M58 35h1M46 36h1M58 37h1M60 37h1M61 47h1M61 49h1"/><path stroke="#9cb86c" d="M9 12h1M14 12h1M61 12h1M12 14h1M53 14h1M58 14h2M15 15h2M51 15h2M14 16h1M37 16h1M60 16h1M70 19h1M23 20h1M59 20h1M72 20h1M39 21h1M59 21h1M18 22h1M22 23h1M41 23h1M49 23h1M44 24h2M50 24h2M61 26h1M79 26h1M81 26h1M86 26h1M6 27h1M8 27h1M59 27h2M2 28h1M6 28h1M8 28h1M79 28h1M89 28h1M4 29h1M8 29h1M62 29h1M44 30h1M66 30h1M45 31h2M57 31h1M66 31h1M64 32h1M48 33h1M56 33h1M47 34h1M47 35h1M49 35h1M51 35h1M59 35h1M47 36h1M49 36h1M59 36h1M5 38h1M5 39h1M30 42h1M60 48h1M60 49h1"/><path stroke="#bcb45c" d="M49 7h1M50 9h1M60 11h1M7 12h1M59 12h1M6 13h1M59 13h1M39 15h1M12 16h1M10 17h1M4 21h1M14 21h1M41 21h2M23 22h1M41 22h1M43 22h1M51 22h1M29 23h1M42 23h1M50 23h1M64 26h1M7 27h1M38 27h1M62 27h1M79 27h1M7 28h1M62 28h1M75 28h1M20 29h1M74 29h1M65 30h1M47 33h1M57 34h2M50 35h1M51 36h1M34 38h1M18 47h1"/><path stroke="#d6b64c" d="M49 8h1M8 12h1M56 12h1M10 13h1M31 13h1M61 13h1M61 14h1M59 15h2M10 16h2M15 16h3M11 17h1M5 20h2M32 21h1M40 21h1M40 22h1M42 22h1M14 23h1M53 23h1M2 25h1M11 27h1M50 27h1M60 28h1M76 28h1M3 29h1M25 29h1M55 30h1M19 31h1M51 32h1M48 34h1M54 36h1M60 36h1M38 38h1"/><path stroke="#f0b83c" d="M49 9h1M9 13h1M13 13h1M30 13h1M60 13h1M60 14h1M18 16h1M57 16h1M14 17h1M18 17h1M34 21h1M52 22h1M45 25h1M43 26h1M41 27h1M73 28h1M50 29h1M63 29h1M51 30h1M40 35h1M53 36h1M7 38h1"/><path stroke="#f4c032" d="M39 14h1M2 17h1M12 17h1M53 22h1M43 25h1M46 25h1M44 28h1M61 28h1M48 29h1M51 29h1M17 30h1M19 30h1M62 30h1M51 31h1M56 35h1M7 37h1M53 37h1"/><path stroke="#f8c828" d="M16 17h1M80 20h1M20 25h1M45 27h1M54 28h1M39 29h1M49 29h1M54 30h1M56 30h1M41 35h1M58 36h1"/><path stroke="#f7d423" d="M1 17h1M31 21h1M44 21h1M36 23h1M40 26h1M44 27h1M39 28h1"/><path stroke="#f6e01e" d="M29 21h1M30 22h1M61 27h1M46 28h1M47 29h1M20 30h1M56 34h1"/><path stroke="#f7ec17" d="M21 26h1M45 28h1M42 36h1"/><path stroke="#f8f810" d="M24 20h1M37 23h1M40 28h1M52 31h1"/></g></g></g>
<use href="#gr"/><g clip-path="url(#cp)"><use href="#fl"/></g>
<polygon points="441,329 444.9,341 457.5,341 447.3,348.3 451.2,360.3 441,352.9 430.8,360.3 434.7,348.3 424.5,341 437.1,341" fill="#ff0000"/>
<use href="#fr"/><use href="#lb"/>
<text class="p" x="39.4" y="-24.1">(b)</text>
<text class="h" style="font-size:50.9px" x="418.5" y="-27.2" text-anchor="middle">12−14 February 2021</text>
</g>
<g transform="translate(279.6,848.1) scale(1,1.0002)">
<g clip-path="url(#cp)"><g transform="translate(-4.13,-5.08) scale(8.2656,10.1500)" shape-rendering="crispEdges" fill="none"><rect width="91" height="51" fill="#0ea8c0"/><g transform="translate(0,.5)"><path stroke="#352a87" d="M11 6h1"/><path stroke="#363096" d="M9 5h2"/><path stroke="#3240b2" d="M22 11h1"/><path stroke="#2f49c0" d="M55 3h1"/><path stroke="#1c5ad8" d="M12 8h1"/><path stroke="#1261dc" d="M10 9h1M20 11h1M52 11h1M23 18h1M76 23h1"/><path stroke="#0868e0" d="M6 8h1M21 11h1M24 12h1M27 14h1M75 15h1M35 18h1M37 18h1"/><path stroke="#0a6ede" d="M18 10h1M14 12h1M21 12h1M23 12h1M14 13h1M12 16h1M9 18h1M34 18h1M78 19h1"/><path stroke="#0d74dc" d="M0 5h1M8 6h1M4 8h2M7 8h1M20 10h1M23 11h1M53 11h1M15 12h1M25 12h1M53 12h1M15 13h1M21 13h3M36 13h1M4 14h1M13 14h1M22 14h1M32 14h1M12 15h2M20 15h2M30 15h1M3 16h2M76 16h1M36 17h1M36 18h1M67 24h1"/><path stroke="#107ada" d="M0 4h1M2 4h1M1 5h2M7 5h1M1 6h1M7 7h2M8 8h2M7 9h1M17 9h1M17 10h1M21 10h1M23 10h2M19 11h1M24 11h2M16 12h1M19 12h2M22 12h1M4 13h1M13 13h1M24 13h3M5 14h1M12 14h1M14 14h2M36 14h1M3 15h3M22 15h2M31 15h2M35 15h2M5 16h1M11 16h1M19 16h1M22 16h2M31 16h1M33 16h1M35 16h4M4 17h1M22 17h2M25 17h1M34 17h2M38 17h1"/><path stroke="#1480d8" d="M1 4h1M3 4h1M6 5h1M0 6h1M5 6h3M9 6h1M0 7h2M9 7h1M11 7h2M0 8h1M3 8h1M18 8h1M21 8h1M8 9h1M4 10h1M22 10h1M16 11h1M18 11h1M30 11h2M5 12h1M12 12h2M26 12h1M35 12h1M51 12h1M54 12h1M2 13h2M5 13h1M12 13h1M16 13h1M20 13h1M27 13h1M30 13h4M35 13h1M37 13h2M3 14h1M19 14h3M26 14h1M29 14h3M33 14h3M37 14h2M2 15h1M18 15h1M29 15h1M33 15h1M37 15h2M2 16h1M10 16h1M13 16h1M18 16h1M21 16h1M24 16h2M29 16h2M32 16h1M34 16h1M2 17h2M5 17h1M10 17h3M24 17h1M33 17h1M37 17h1M10 18h1"/><path stroke="#1486d6" d="M0 3h3M46 3h1M48 3h1M5 4h1M8 4h3M47 4h1M3 5h3M8 5h1M11 5h1M4 6h1M19 6h3M2 7h1M6 7h1M16 7h2M19 7h3M11 8h1M17 8h1M30 8h3M86 8h1M4 9h1M9 9h1M18 9h2M22 9h1M31 9h2M5 10h2M10 10h2M13 10h1M16 10h1M25 10h1M31 10h2M2 11h3M9 11h2M12 11h2M17 11h1M26 11h1M29 11h1M33 11h1M2 12h1M4 12h1M10 12h1M17 12h1M30 12h3M36 12h2M52 12h1M19 13h1M28 13h2M39 13h1M11 14h1M18 14h1M23 14h3M28 14h1M39 14h3M1 15h1M6 15h1M11 15h1M14 15h1M19 15h1M24 15h1M28 15h1M34 15h1M39 15h1M1 16h1M6 16h1M17 16h1M20 16h1M27 16h1M1 17h1M16 17h2M19 17h3M28 17h3M39 17h1M46 19h1M89 49h1"/><path stroke="#138cd4" d="M32 0h2M47 2h1M49 2h5M3 3h2M47 3h1M49 3h2M53 3h1M4 4h1M7 4h1M11 4h1M46 4h1M49 4h1M12 5h1M47 5h1M2 6h1M10 6h1M12 6h1M15 6h3M22 6h1M89 6h2M4 7h1M10 7h1M13 7h1M15 7h1M18 7h1M32 7h1M89 7h1M1 8h2M10 8h1M16 8h1M19 8h1M22 8h2M28 8h2M85 8h1M6 9h1M12 9h2M16 9h1M21 9h1M23 9h1M25 9h1M28 9h1M30 9h1M7 10h3M12 10h1M14 10h2M19 10h1M26 10h1M29 10h2M33 10h1M5 11h2M8 11h1M11 11h1M28 11h1M32 11h1M34 11h2M9 12h1M11 12h1M18 12h1M27 12h3M33 12h2M39 12h1M1 13h1M6 13h2M9 13h3M17 13h2M34 13h1M40 13h3M2 14h1M6 14h1M10 14h1M16 14h1M43 14h1M48 14h1M10 15h1M16 15h2M26 15h1M40 15h2M43 15h1M46 15h2M8 16h1M14 16h3M26 16h1M28 16h1M39 16h1M47 16h1M0 17h1M6 17h1M9 17h1M13 17h2M18 17h1M26 17h2M40 17h1M46 17h2M1 18h2M6 18h1M11 18h1M21 18h1M29 18h2M38 18h2M46 18h1M47 19h1M46 20h1M74 20h1M74 21h2M74 22h2M81 41h7M83 42h4M90 42h1M86 43h1M84 46h4M83 47h1M85 47h2M82 48h2M85 48h1M87 48h1M81 49h2M87 49h1M81 50h2M88 50h1"/><path stroke="#1292d2" d="M34 0h1M45 0h2M50 0h1M3 1h2M33 1h1M48 1h1M0 2h1M2 2h1M4 2h1M46 2h1M48 2h1M6 3h4M13 3h1M22 3h1M51 3h2M54 3h1M6 4h1M12 4h2M22 4h1M48 4h1M50 4h5M14 5h1M19 5h4M48 5h1M52 5h1M90 5h1M3 6h1M13 6h2M18 6h1M30 6h1M32 6h1M88 6h1M3 7h1M5 7h1M14 7h1M22 7h1M29 7h3M33 7h1M85 7h4M90 7h1M13 8h1M15 8h1M20 8h1M33 8h1M84 8h1M88 8h3M1 9h3M5 9h1M11 9h1M15 9h1M20 9h1M24 9h1M27 9h1M29 9h1M33 9h1M85 9h3M2 10h2M34 10h2M7 11h1M27 11h1M36 11h1M1 12h1M6 12h1M8 12h1M38 12h1M40 12h3M43 13h1M46 13h1M48 13h1M7 14h1M17 14h1M42 14h1M44 14h4M0 15h1M7 15h1M9 15h1M15 15h1M25 15h1M27 15h1M45 15h1M48 15h1M0 16h1M7 16h1M9 16h1M40 16h1M43 16h1M46 16h1M48 16h1M7 17h2M15 17h1M31 17h2M45 17h1M0 18h1M3 18h3M7 18h2M12 18h2M18 18h1M20 18h1M22 18h1M24 18h5M32 18h2M40 18h1M47 18h1M8 19h2M45 19h1M75 20h1M78 21h2M74 23h2M79 23h1M46 24h1M46 25h1M47 28h1M60 28h2M90 29h1M90 30h1M54 33h1M45 34h1M54 34h1M45 35h1M44 37h1M73 40h1M81 40h2M86 40h1M78 41h1M80 41h1M88 41h1M78 42h1M80 42h3M89 42h1M81 43h1M83 43h2M87 43h1M90 43h1M77 44h1M83 44h3M87 44h1M77 45h1M85 45h3M83 46h1M80 47h3M84 47h1M87 47h1M80 48h2M84 48h1M86 48h1M80 49h1M83 49h4M9 50h1M85 50h3M89 50h1"/><path stroke="#1098d0" d="M0 0h1M2 0h3M19 0h4M26 0h1M31 0h1M35 0h1M48 0h1M51 0h1M0 1h3M5 1h1M20 1h2M24 1h1M46 1h2M49 1h6M1 2h1M3 2h1M5 2h1M8 2h2M13 2h1M19 2h1M21 2h2M24 2h1M45 2h1M54 2h1M5 3h1M10 3h3M20 3h2M45 3h1M14 4h1M16 4h1M19 4h1M21 4h1M23 4h1M33 4h1M45 4h1M15 5h4M23 5h1M32 5h3M46 5h1M53 5h1M86 5h1M88 5h2M28 6h2M31 6h1M33 6h1M83 6h2M86 6h2M23 7h1M26 7h3M34 7h1M83 7h2M14 8h1M27 8h1M34 8h1M87 8h1M14 9h1M26 9h1M34 9h1M88 9h1M1 10h1M27 10h2M36 10h1M1 11h1M37 11h1M50 11h1M7 12h1M43 12h1M8 13h1M44 13h2M47 13h1M49 13h1M8 14h2M49 14h1M8 15h1M42 15h1M49 15h1M41 16h2M45 16h1M41 17h1M44 17h1M48 17h1M15 18h3M19 18h1M31 18h1M45 18h1M1 19h1M7 19h1M10 19h1M35 19h1M39 19h1M44 19h1M48 19h1M80 19h1M45 20h1M47 20h1M76 20h1M78 20h3M73 21h1M80 21h1M73 22h1M77 22h4M73 23h1M78 23h1M47 24h1M47 25h1M46 26h2M47 27h2M55 27h1M48 28h2M47 29h2M60 29h1M42 31h1M90 31h1M41 32h3M55 32h2M42 33h1M52 33h2M55 33h2M42 34h3M52 34h2M55 34h1M42 35h3M46 35h1M50 35h1M52 35h3M44 36h4M43 38h1M85 39h3M74 40h1M78 40h3M83 40h3M87 40h2M90 40h1M73 41h2M89 41h2M74 42h1M76 42h2M79 42h1M87 42h2M70 43h1M72 43h9M82 43h1M85 43h1M88 43h2M76 44h1M78 44h3M86 44h1M76 45h1M79 45h1M81 45h2M84 45h1M79 46h4M72 47h2M78 47h2M72 48h2M79 48h1M88 48h1M79 49h1M88 49h1M55 50h1M80 50h1M83 50h1M90 50h1"/><path stroke="#0c9cce" d="M1 0h1M5 0h3M16 0h1M23 0h3M27 0h1M44 0h1M47 0h1M49 0h1M52 0h3M71 0h1M6 1h1M15 1h1M22 1h2M25 1h2M32 1h1M34 1h1M36 1h1M45 1h1M90 1h1M6 2h1M12 2h1M14 2h1M20 2h1M23 2h1M25 2h1M33 2h5M16 3h1M19 3h1M23 3h1M26 3h1M15 4h1M17 4h2M20 4h1M27 4h2M34 4h1M55 4h1M88 4h2M13 5h1M24 5h7M45 5h1M49 5h3M54 5h2M84 5h2M87 5h1M23 6h1M25 6h3M34 6h2M48 6h1M51 6h1M85 6h1M24 7h1M24 8h3M81 8h3M0 9h1M35 9h1M81 9h2M84 9h1M89 9h1M37 10h1M87 10h1M38 11h2M41 11h3M49 11h1M44 12h7M0 13h1M0 14h1M44 15h1M44 16h1M49 16h1M42 17h2M49 17h1M82 17h1M14 18h1M41 18h1M43 18h2M48 18h1M0 19h1M6 19h1M11 19h3M20 19h3M28 19h2M33 19h2M36 19h1M40 19h1M73 19h1M76 19h1M79 19h1M81 19h1M8 20h2M44 20h1M48 20h3M67 20h1M73 20h1M77 20h1M81 20h1M45 21h2M67 21h1M77 21h1M81 21h1M88 21h1M57 22h2M60 22h1M72 22h1M59 23h1M77 23h1M80 23h1M73 24h3M77 24h2M48 25h2M29 26h2M45 26h1M48 26h2M55 26h2M59 26h2M0 27h1M31 27h1M39 27h1M46 27h1M49 27h2M54 27h1M59 27h4M0 28h1M50 28h1M54 28h2M57 28h1M59 28h1M54 29h2M58 29h2M61 29h1M89 29h1M41 30h1M47 30h2M56 30h1M59 30h1M89 30h1M40 31h2M43 31h1M40 32h1M53 32h1M57 32h1M41 33h1M43 33h3M51 33h1M57 33h1M39 34h3M46 34h2M50 34h2M56 34h3M41 35h1M47 35h3M55 35h1M42 36h2M50 36h3M43 37h1M45 37h1M47 37h1M44 38h4M52 38h1M86 38h1M43 39h1M47 39h1M73 39h2M81 39h2M0 40h1M44 40h1M48 40h2M71 40h2M76 40h1M89 40h1M6 41h1M57 41h1M72 41h1M75 41h3M79 41h1M56 42h1M71 42h3M75 42h1M8 43h1M71 43h1M8 44h1M74 44h2M81 44h2M88 44h1M74 45h2M78 45h1M80 45h1M83 45h1M88 45h1M3 46h3M70 46h5M76 46h1M78 46h1M0 47h1M3 47h2M71 47h1M74 47h1M88 47h1M9 48h1M76 48h3M89 48h1M8 49h2M78 49h1M90 49h1M8 50h1M10 50h1M32 50h2M54 50h1M79 50h1M84 50h1"/><path stroke="#08a0cc" d="M8 0h3M14 0h2M17 0h2M28 0h3M36 0h1M41 0h1M43 0h1M55 0h1M67 0h4M79 0h1M89 0h1M7 1h4M14 1h1M16 1h1M18 1h2M35 1h1M37 1h1M44 1h1M79 1h1M7 2h1M11 2h1M15 2h3M26 2h1M44 2h1M55 2h1M89 2h2M14 3h2M17 3h2M24 3h2M27 3h1M33 3h6M44 3h1M70 3h1M90 3h1M24 4h3M29 4h1M32 4h1M35 4h1M44 4h1M87 4h1M90 4h1M31 5h1M35 5h1M44 5h1M24 6h1M47 6h1M49 6h1M52 6h3M82 6h1M25 7h1M52 7h2M82 7h1M35 8h1M53 8h1M36 9h1M83 9h1M90 9h1M42 10h1M48 10h1M86 10h1M88 10h1M40 11h1M46 11h3M51 11h1M0 12h1M50 13h1M56 13h1M56 14h2M84 14h1M88 14h1M76 15h1M83 15h1M58 16h1M77 16h2M83 16h1M53 17h1M59 17h1M70 17h1M77 17h3M81 17h1M83 17h1M42 18h1M58 18h1M69 18h1M76 18h1M78 18h3M87 18h2M2 19h4M18 19h2M23 19h2M27 19h1M30 19h1M32 19h1M37 19h1M43 19h1M49 19h1M59 19h1M64 19h1M69 19h1M74 19h2M77 19h1M87 19h2M1 20h1M7 20h1M10 20h1M55 20h1M65 20h2M69 20h4M85 20h1M87 20h2M47 21h1M49 21h3M58 21h2M64 21h3M72 21h1M85 21h1M90 21h1M20 22h1M30 22h1M46 22h1M50 22h2M53 22h1M59 22h1M61 22h1M64 22h1M66 22h1M70 22h1M89 22h2M45 23h3M52 23h1M56 23h1M58 23h1M60 23h1M64 23h3M72 23h1M81 23h1M89 23h1M45 24h1M48 24h1M55 24h2M60 24h1M64 24h2M76 24h1M79 24h2M29 25h1M45 25h1M54 25h3M59 25h2M63 25h1M73 25h1M0 26h1M31 26h2M38 26h2M50 26h1M57 26h1M61 26h1M64 26h1M72 26h1M38 27h1M51 27h3M56 27h3M29 28h1M34 28h1M38 28h2M46 28h1M53 28h1M56 28h1M88 28h3M38 29h3M46 29h1M49 29h3M56 29h2M34 30h1M37 30h1M40 30h1M42 30h1M46 30h1M53 30h2M57 30h2M60 30h1M36 31h1M39 31h1M45 31h1M52 31h1M54 31h4M59 31h1M76 31h1M39 32h1M44 32h2M51 32h2M54 32h1M58 32h1M39 33h2M49 33h2M58 33h1M0 34h2M38 34h1M49 34h1M77 34h2M38 35h3M51 35h1M90 35h1M41 36h1M48 36h2M53 36h2M83 36h1M30 37h1M42 37h1M46 37h1M48 37h6M42 38h1M48 38h4M72 38h3M82 38h1M85 38h1M87 38h1M7 39h1M44 39h3M48 39h1M50 39h1M69 39h3M75 39h1M80 39h1M84 39h1M88 39h1M90 39h1M1 40h1M3 40h2M6 40h4M13 40h1M15 40h1M56 40h3M62 40h1M67 40h1M70 40h1M75 40h1M77 40h1M0 41h6M8 41h4M13 41h1M47 41h1M56 41h1M58 41h1M71 41h1M0 42h1M6 42h3M12 42h1M57 42h2M70 42h1M6 43h1M12 43h1M56 43h1M7 44h1M12 44h1M70 44h3M89 44h2M2 45h1M4 45h5M62 45h1M70 45h4M89 45h1M1 46h2M6 46h1M8 46h1M27 46h1M75 46h1M77 46h1M88 46h1M1 47h1M5 47h3M76 47h2M6 48h1M8 48h1M71 48h1M74 48h1M0 49h1M6 49h2M11 49h3M56 49h1M71 49h1M77 49h1M0 50h1M6 50h1M11 50h1M22 50h1M30 50h2M34 50h1M53 50h1M56 50h1M58 50h3M70 50h2M78 50h1"/><path stroke="#0ba4c6" d="M37 0h1M39 0h2M58 0h1M72 0h1M81 0h1M83 0h4M11 1h1M13 1h1M17 1h1M30 1h2M38 1h2M55 1h1M59 1h3M66 1h8M80 1h1M86 1h1M10 2h1M27 2h1M32 2h1M38 2h2M59 2h3M70 2h1M72 2h1M84 2h2M87 2h2M28 3h1M61 3h1M72 3h2M77 3h1M84 3h2M88 3h2M30 4h2M36 4h1M56 4h1M71 4h2M79 4h1M84 4h3M70 5h2M79 5h1M82 5h2M45 6h2M50 6h1M55 6h1M79 6h1M35 7h1M48 7h1M51 7h1M77 7h1M79 7h1M36 8h1M47 8h1M77 8h1M80 8h1M47 9h1M52 9h1M76 9h1M78 9h3M0 10h1M38 10h2M43 10h1M79 10h7M0 11h1M44 11h2M57 11h2M87 11h1M57 12h1M86 12h1M53 13h1M57 13h1M64 13h1M86 13h2M50 14h1M55 14h1M81 14h1M85 14h3M50 15h1M55 15h2M70 15h1M73 15h2M77 15h1M86 15h1M52 16h1M54 16h1M59 16h1M64 16h1M69 16h1M71 16h3M75 16h1M81 16h2M89 16h1M52 17h1M58 17h1M60 17h2M68 17h2M71 17h2M76 17h1M80 17h1M49 18h1M52 18h2M59 18h3M70 18h1M75 18h1M77 18h1M81 18h2M14 19h4M25 19h2M31 19h1M38 19h1M42 19h1M50 19h3M63 19h1M65 19h1M67 19h2M70 19h1M82 19h1M86 19h1M89 19h1M0 20h1M2 20h1M6 20h1M11 20h1M20 20h2M23 20h1M35 20h2M43 20h1M51 20h4M56 20h1M58 20h1M60 20h1M63 20h2M68 20h1M82 20h2M86 20h1M89 20h1M11 21h1M48 21h1M52 21h5M61 21h1M63 21h1M68 21h4M82 21h1M84 21h1M86 21h1M89 21h1M31 22h1M45 22h1M47 22h1M49 22h1M52 22h1M56 22h1M65 22h1M67 22h1M71 22h1M81 22h1M85 22h1M29 23h1M31 23h2M48 23h4M53 23h1M57 23h1M61 23h1M71 23h1M83 23h2M90 23h1M0 24h2M31 24h1M49 24h1M52 24h1M54 24h1M57 24h3M61 24h1M66 24h1M72 24h1M82 24h3M89 24h2M0 25h2M28 25h1M39 25h2M50 25h1M52 25h1M57 25h2M61 25h1M64 25h2M71 25h1M74 25h1M90 25h1M28 26h1M33 26h1M40 26h3M51 26h4M58 26h1M62 26h2M65 26h1M71 26h1M90 26h1M29 27h2M32 27h2M40 27h2M45 27h1M63 27h1M87 27h1M89 27h2M30 28h1M33 28h1M35 28h1M37 28h1M42 28h1M51 28h2M58 28h1M62 28h2M0 29h2M34 29h4M42 29h2M53 29h1M62 29h1M81 29h1M0 30h2M35 30h2M38 30h2M43 30h3M49 30h1M52 30h1M55 30h1M61 30h1M71 30h1M77 30h1M80 30h1M82 30h1M35 31h1M38 31h1M44 31h1M46 31h2M49 31h1M51 31h1M53 31h1M58 31h1M69 31h1M71 31h1M74 31h1M78 31h1M89 31h1M38 32h1M46 32h1M49 32h2M59 32h1M72 32h1M76 32h2M90 32h1M1 33h1M46 33h3M59 33h1M69 33h1M72 33h1M77 33h1M89 33h1M48 34h1M59 34h2M76 34h1M79 34h1M89 34h1M0 35h3M56 35h2M77 35h1M85 35h1M0 36h1M30 36h1M39 36h2M55 36h1M77 36h1M81 36h1M90 36h1M9 37h1M41 37h1M54 37h1M71 37h1M81 37h2M85 37h1M24 38h1M30 38h1M53 38h2M69 38h2M77 38h1M79 38h3M83 38h2M88 38h1M0 39h1M3 39h2M8 39h1M15 39h1M17 39h1M23 39h3M42 39h1M49 39h1M51 39h3M57 39h1M66 39h2M72 39h1M76 39h4M83 39h1M89 39h1M2 40h1M5 40h1M11 40h2M14 40h1M16 40h1M45 40h3M50 40h3M59 40h1M63 40h1M66 40h1M7 41h1M12 41h1M15 41h1M46 41h1M48 41h2M55 41h1M59 41h4M64 41h1M66 41h5M2 42h1M4 42h2M9 42h3M13 42h1M55 42h1M0 43h1M5 43h1M7 43h1M9 43h1M11 43h1M13 43h1M69 43h1M1 44h1M4 44h3M9 44h1M63 44h1M69 44h1M73 44h1M1 45h1M3 45h1M9 45h1M63 45h2M69 45h1M90 45h1M7 46h1M9 46h1M52 46h2M89 46h1M8 47h3M53 47h1M70 47h1M75 47h1M89 47h1M0 48h2M3 48h3M7 48h1M10 48h3M53 48h1M75 48h1M90 48h1M1 49h1M5 49h1M10 49h1M33 49h1M57 49h2M66 49h1M72 49h2M5 50h1M7 50h1M12 50h2M57 50h1M61 50h1M67 50h1M69 50h1M72 50h1M77 50h1"/><path stroke="#17acb6" d="M38 0h1M57 0h1M64 0h1M73 0h1M77 0h1M42 1h1M56 1h2M62 1h1M65 1h1M74 1h2M81 1h3M29 2h1M40 2h3M56 2h2M63 2h1M66 2h2M74 2h1M76 2h1M78 2h1M80 2h3M39 3h2M42 3h1M58 3h1M66 3h1M74 3h1M79 3h2M83 3h1M57 4h2M60 4h2M64 4h1M66 4h2M73 4h4M80 4h1M82 4h1M39 5h2M59 5h1M72 5h1M76 5h2M80 5h2M38 6h3M56 6h4M69 6h1M73 6h1M37 7h4M56 7h1M59 7h1M68 7h1M72 7h2M76 7h1M39 8h1M41 8h1M51 8h1M58 8h1M60 8h1M69 8h1M73 8h2M38 9h1M46 9h1M50 9h2M58 9h3M63 9h1M68 9h2M40 10h2M45 10h2M53 10h3M59 10h1M61 10h1M63 10h1M73 10h1M55 11h1M61 11h2M69 11h2M75 11h2M79 11h2M82 11h1M84 11h2M88 11h1M59 12h1M61 12h5M69 12h1M74 12h1M76 12h1M81 12h1M85 12h1M88 12h2M52 13h1M60 13h2M66 13h1M69 13h3M75 13h1M77 13h2M81 13h1M88 13h1M52 14h1M60 14h1M62 14h1M65 14h1M68 14h2M71 14h1M78 14h1M80 14h1M82 14h1M59 15h1M61 15h2M66 15h1M68 15h1M78 15h3M90 15h1M51 16h1M67 16h1M80 16h1M88 16h1M51 17h1M56 17h1M64 17h4M84 17h3M57 18h1M65 18h1M73 18h1M85 18h1M53 19h1M56 19h1M60 19h1M62 19h1M13 20h1M17 20h2M24 20h1M26 20h1M28 20h3M32 20h2M38 20h2M62 20h1M90 20h1M0 21h2M6 21h1M8 21h1M10 21h1M12 21h1M21 21h1M23 21h1M28 21h1M30 21h1M41 21h1M43 21h1M9 22h1M21 22h1M23 22h2M29 22h1M33 22h1M35 22h2M41 22h1M43 22h1M86 22h2M19 23h2M33 23h1M35 23h3M42 23h1M55 23h1M63 23h1M67 23h1M70 23h1M2 24h1M28 24h1M32 24h1M34 24h2M40 24h1M70 24h2M88 24h1M3 25h1M33 25h5M44 25h1M67 25h1M70 25h1M77 25h1M80 25h1M83 25h1M85 25h1M88 25h1M1 26h1M34 26h1M36 26h1M44 26h1M66 26h1M69 26h2M75 26h2M85 26h1M87 26h2M27 27h2M43 27h1M66 27h1M69 27h1M72 27h2M75 27h1M80 27h1M86 27h1M32 28h1M44 28h1M64 28h1M69 28h2M72 28h1M74 28h2M79 28h2M82 28h1M84 28h1M2 29h1M44 29h1M63 29h1M65 29h2M68 29h1M70 29h2M76 29h2M83 29h5M2 30h1M5 30h1M30 30h1M33 30h1M68 30h1M75 30h1M83 30h2M30 31h1M33 31h1M67 31h1M70 31h1M79 31h1M83 31h1M85 31h2M2 32h1M34 32h1M36 32h1M61 32h1M69 32h3M75 32h1M82 32h2M87 32h1M0 33h1M3 33h2M17 33h1M37 33h1M61 33h1M68 33h1M71 33h1M74 33h1M76 33h1M80 33h1M84 33h1M86 33h2M71 34h1M73 34h1M75 34h1M83 34h2M86 34h1M6 35h2M16 35h1M60 35h1M75 35h2M78 35h2M81 35h2M86 35h1M88 35h2M29 36h1M69 36h1M71 36h1M74 36h1M78 36h1M80 36h1M82 36h1M84 36h5M11 37h2M25 37h1M29 37h1M31 37h1M34 37h1M39 37h1M67 37h1M69 37h2M73 37h3M88 37h2M0 38h2M5 38h2M11 38h1M22 38h1M25 38h1M40 38h1M55 38h1M59 38h1M66 38h3M1 39h2M6 39h1M9 39h1M19 39h1M27 39h2M59 39h2M63 39h1M65 39h1M18 40h3M22 40h1M27 40h1M31 40h1M34 40h1M54 40h1M60 40h1M64 40h2M22 41h1M32 41h1M45 41h1M51 41h4M63 41h1M15 42h1M31 42h1M34 42h1M48 42h3M54 42h1M63 42h1M67 42h2M14 43h2M22 43h1M32 43h1M54 43h1M61 43h1M63 43h2M0 44h1M14 44h1M20 44h1M23 44h1M25 44h1M34 44h1M53 44h1M68 44h1M13 45h1M15 45h1M18 45h2M23 45h4M28 45h1M61 45h1M65 45h1M13 46h1M15 46h1M25 46h1M51 46h1M60 46h2M63 46h2M13 47h1M15 47h2M27 47h1M38 47h1M90 47h1M17 48h2M22 48h1M31 48h1M45 48h1M52 48h1M69 48h1M24 49h1M45 49h2M52 49h2M60 49h1M62 49h2M69 49h1M2 50h2M17 50h2M20 50h1M24 50h2M28 50h1M35 50h1M38 50h1M43 50h1M50 50h3M63 50h3M74 50h1M76 50h1"/><path stroke="#20b0ac" d="M65 0h1M74 0h1M63 1h1M76 1h1M64 2h2M41 3h1M57 3h1M64 3h2M67 3h1M82 3h1M40 4h3M65 4h1M68 4h2M81 4h1M43 5h1M57 5h2M60 5h1M63 5h3M73 5h2M37 6h1M43 6h1M60 6h3M64 6h1M75 6h2M44 7h1M58 7h1M60 7h1M69 7h1M71 7h1M75 7h1M38 8h1M45 8h2M61 8h2M64 8h1M68 8h1M75 8h1M41 9h2M44 9h2M55 9h1M61 9h2M64 9h1M66 9h1M71 9h1M73 9h3M58 10h1M62 10h1M65 10h1M74 10h1M14 11h1M60 11h1M63 11h1M81 11h1M83 11h1M89 11h2M55 12h1M68 12h1M71 12h2M75 12h1M79 12h2M82 12h1M84 12h1M90 12h1M72 13h1M74 13h1M79 13h1M82 13h2M59 14h1M61 14h1M66 14h1M72 14h3M79 14h1M90 14h1M67 15h1M61 16h3M66 16h1M62 17h2M67 18h1M90 19h1M3 20h1M25 20h1M31 20h1M37 20h1M40 20h2M14 21h1M18 21h1M26 21h1M29 21h1M33 21h2M39 21h2M0 22h1M6 22h2M11 22h2M14 22h1M26 22h1M28 22h1M32 22h1M34 22h1M38 22h3M42 22h1M1 23h1M3 23h1M13 23h1M15 23h1M21 23h1M26 23h1M28 23h1M38 23h2M43 23h2M68 23h1M85 23h4M4 24h1M33 24h1M37 24h3M42 24h2M51 24h1M68 24h2M85 24h1M27 25h1M38 25h1M42 25h2M69 25h1M86 25h2M18 26h1M25 26h3M35 26h1M68 26h1M81 26h2M89 26h1M68 27h1M77 27h1M2 28h1M67 28h1M77 28h1M86 28h1M29 29h4M64 29h1M73 29h2M78 29h1M29 30h1M31 30h2M62 30h1M67 30h1M73 30h1M85 30h1M2 31h3M31 31h1M61 31h2M68 31h1M0 32h1M3 32h1M18 32h1M29 32h2M33 32h1M62 32h1M80 32h2M86 32h1M2 33h1M15 33h1M18 33h1M24 33h1M32 33h1M36 33h1M62 33h1M81 33h1M83 33h1M5 34h1M7 34h1M13 34h3M18 34h2M33 34h1M67 34h3M74 34h1M80 34h3M85 34h1M87 34h1M5 35h1M17 35h1M19 35h2M29 35h2M36 35h1M62 35h2M69 35h2M74 35h1M87 35h1M2 36h1M4 36h1M9 36h1M11 36h2M14 36h3M18 36h2M23 36h1M31 36h1M35 36h1M57 36h7M70 36h1M73 36h1M75 36h1M3 37h1M5 37h1M7 37h1M10 37h1M13 37h2M17 37h1M23 37h1M28 37h1M57 37h1M62 37h3M68 37h1M2 38h1M10 38h1M12 38h3M16 38h1M19 38h1M26 38h4M31 38h1M57 38h2M62 38h1M18 39h1M21 39h2M29 39h1M32 39h1M37 39h2M40 39h1M62 39h1M21 40h1M26 40h1M29 40h2M32 40h1M35 40h1M41 40h1M17 41h3M23 41h2M31 41h1M33 41h2M37 41h3M18 42h3M22 42h1M24 42h1M26 42h1M30 42h1M32 42h2M37 42h1M41 42h2M46 42h1M52 42h1M64 42h3M17 43h1M25 43h1M27 43h1M31 43h1M34 43h2M39 43h1M46 43h1M52 43h2M58 43h2M62 43h1M65 43h1M67 43h2M15 44h1M18 44h1M22 44h1M24 44h1M26 44h2M32 44h1M46 44h1M61 44h2M65 44h1M14 45h1M16 45h2M21 45h1M30 45h1M32 45h1M38 45h1M44 45h1M50 45h2M66 45h1M68 45h1M14 46h1M16 46h2M23 46h2M28 46h1M31 46h1M38 46h1M46 46h2M65 46h1M23 47h2M26 47h1M39 47h1M47 47h2M51 47h1M54 47h1M59 47h1M68 47h1M30 48h1M33 48h1M47 48h1M57 48h1M59 48h2M63 48h2M17 49h3M21 49h1M27 49h1M30 49h1M37 49h1M47 49h1M64 49h1M67 49h2M36 50h1M42 50h1M48 50h1M75 50h1"/><path stroke="#34b4a2" d="M75 0h2M64 1h1M81 3h1M41 5h2M67 5h1M75 5h1M65 6h1M68 6h1M74 6h1M41 7h1M63 7h3M70 7h1M74 7h1M43 8h2M59 8h1M65 8h3M70 8h2M43 9h1M70 9h1M70 10h1M72 10h1M15 11h1M54 11h1M64 11h1M68 11h1M71 11h2M74 11h1M66 12h2M83 12h1M59 13h1M68 13h1M73 13h1M67 14h1M90 16h1M90 17h1M62 18h2M90 18h1M15 20h1M2 21h1M5 21h1M13 21h1M15 21h2M24 21h2M27 21h1M31 21h2M36 21h1M5 22h1M8 22h1M22 22h1M37 22h1M5 23h1M12 23h1M18 23h1M23 23h3M27 23h1M7 24h1M11 24h1M18 24h1M27 24h1M41 24h1M86 24h2M2 25h1M10 25h1M15 25h1M17 25h1M26 25h1M68 25h1M2 26h1M77 26h4M83 26h2M86 26h1M2 27h1M76 27h1M79 27h1M81 27h5M25 28h1M28 28h1M68 28h1M85 28h1M3 29h2M28 29h1M72 29h1M3 30h2M28 30h1M63 30h4M5 31h1M13 31h1M19 31h1M29 31h1M32 31h1M63 31h1M84 31h1M4 32h1M6 32h1M12 32h1M31 32h2M5 33h1M10 33h2M16 33h1M19 33h1M29 33h1M33 33h3M67 33h1M82 33h1M8 34h1M10 34h3M16 34h2M20 34h1M25 34h1M29 34h2M34 34h2M61 34h3M9 35h4M25 35h1M31 35h1M34 35h2M61 35h1M64 35h1M68 35h1M73 35h1M5 36h2M8 36h1M13 36h1M22 36h1M28 36h1M36 36h2M56 36h1M2 37h1M4 37h1M6 37h1M15 37h2M18 37h2M24 37h1M27 37h1M32 37h1M36 37h3M56 37h1M58 37h1M60 37h2M65 37h1M15 38h1M18 38h1M21 38h1M35 38h1M39 38h1M60 38h2M63 38h3M10 39h1M26 39h1M35 39h2M39 39h1M64 39h1M28 40h1M33 40h1M37 40h1M40 40h1M20 41h1M25 41h1M28 41h1M35 41h1M40 41h4M16 42h2M21 42h1M23 42h1M25 42h1M27 42h2M35 42h2M38 42h2M44 42h2M51 42h1M53 42h1M21 43h1M23 43h2M29 43h2M41 43h1M48 43h2M60 43h1M16 44h2M21 44h1M28 44h3M35 44h1M38 44h1M44 44h1M47 44h1M51 44h2M54 44h5M60 44h1M66 44h2M31 45h1M33 45h2M39 45h1M43 45h1M46 45h1M54 45h1M59 45h2M18 46h1M30 46h1M32 46h1M39 46h1M45 46h1M59 46h1M66 46h2M22 47h1M25 47h1M28 47h3M33 47h1M44 47h1M50 47h1M58 47h1M60 47h1M64 47h1M20 48h2M23 48h7M34 48h1M37 48h2M61 48h1M66 48h3M20 49h1M22 49h1M25 49h2M28 49h1M35 49h2M38 49h2M43 49h2M48 49h1M50 49h2M19 50h1M37 50h1M39 50h1M41 50h1M49 50h1"/><path stroke="#48b898" d="M66 5h1M68 5h1M42 6h1M43 7h1M66 7h1M63 8h1M65 9h1M67 9h1M64 10h1M66 10h1M71 10h1M65 11h3M73 11h1M73 12h1M14 20h1M3 21h1M17 21h1M37 21h2M1 22h1M10 22h1M18 22h1M25 22h1M27 22h1M2 23h1M4 23h1M8 23h2M14 23h1M16 23h1M40 23h2M5 24h2M9 24h1M14 24h1M16 24h1M19 24h2M26 24h1M5 25h1M8 25h2M18 25h3M25 25h1M8 26h1M14 26h4M19 26h1M3 27h1M67 27h1M78 27h1M3 28h1M26 28h2M6 30h1M22 30h1M6 31h1M28 31h1M65 31h2M5 32h1M11 32h1M13 32h1M25 32h1M28 32h1M63 32h1M66 32h1M8 33h1M13 33h1M26 33h2M31 33h1M66 33h1M21 34h1M26 34h1M28 34h1M32 34h1M36 34h1M65 34h2M8 35h1M13 35h3M22 35h1M28 35h1M32 35h1M7 36h1M10 36h1M25 36h1M32 36h1M34 36h1M67 36h2M1 37h1M8 37h1M22 37h1M26 37h1M35 37h1M66 37h1M17 38h1M20 38h1M33 38h2M33 39h2M38 40h2M21 41h1M26 41h2M29 41h1M29 42h1M40 42h1M43 42h1M16 43h1M18 43h1M26 43h1M28 43h1M36 43h2M43 43h3M50 43h2M66 43h1M31 44h1M37 44h1M39 44h1M42 44h1M45 44h1M50 44h1M59 44h1M20 45h1M22 45h1M29 45h1M37 45h1M45 45h1M67 45h1M29 46h1M48 46h1M50 46h1M54 46h1M58 46h1M31 47h2M37 47h1M43 47h1M45 47h2M55 47h3M63 47h1M65 47h1M67 47h1M43 48h2M51 48h1M40 50h1"/><path stroke="#62ba8a" d="M66 6h2M42 7h1M67 7h1M67 10h1M4 21h1M2 22h3M7 23h1M10 23h2M17 23h1M10 24h1M12 24h1M17 24h1M21 24h2M24 24h2M4 25h1M6 25h1M14 25h1M21 25h1M3 26h2M7 26h1M13 26h1M24 26h1M5 27h1M16 27h1M4 28h1M13 28h1M21 28h1M9 29h1M14 29h1M25 29h1M13 30h1M26 30h1M8 31h1M11 31h1M25 31h1M64 31h1M8 32h2M23 32h1M26 32h1M7 33h1M9 33h1M14 33h1M30 33h1M63 33h1M9 34h1M27 34h1M31 34h1M64 34h1M21 35h1M26 35h2M33 35h1M65 35h1M67 35h1M20 36h1M27 36h1M33 36h1M64 36h1M66 36h1M21 37h1M33 37h1M32 38h1M37 38h2M38 43h1M40 43h1M42 43h1M36 44h1M41 44h1M49 44h1M47 45h1M49 45h1M55 45h1M57 45h1M20 46h3M33 46h1M43 46h2M55 46h1M19 47h1M21 47h1M66 47h1M35 48h1M40 48h1M48 48h1M62 48h1M65 48h1M41 49h1"/><path stroke="#7cbd7c" d="M18 2h1M28 2h1M41 6h1M62 7h1M42 8h1M69 10h1M64 14h1M76 21h1M15 22h1M6 23h1M13 24h1M15 24h1M23 24h1M13 25h1M24 25h1M5 26h1M10 26h1M21 26h1M23 26h1M4 27h1M9 27h1M18 27h2M21 27h2M24 27h1M5 28h1M10 28h1M6 29h1M14 30h2M18 30h1M27 30h1M9 31h1M18 31h1M22 31h1M10 32h1M20 32h1M27 32h1M64 32h2M6 33h1M22 33h1M28 33h1M64 33h2M22 34h1M21 36h1M26 36h1M65 36h1M20 37h1M59 37h1M36 38h1M40 44h1M43 44h1M48 44h1M35 45h2M42 45h1M58 45h1M34 46h1M37 46h1M56 46h2M20 47h1M34 47h1M36 47h1M36 48h1M39 48h1M42 48h1"/><path stroke="#9cb86c" d="M37 5h1M61 7h1M68 10h1M16 22h2M11 25h2M16 25h1M22 25h2M22 26h1M6 27h1M13 27h3M6 28h2M9 28h1M15 28h1M10 29h1M15 29h1M17 29h1M19 29h1M22 29h2M7 30h1M9 30h1M21 30h1M23 30h1M7 31h1M12 31h1M17 31h1M23 31h2M7 32h1M21 32h2M24 32h1M12 33h1M56 45h1M35 46h2M40 46h1M42 46h1M18 47h1M35 47h1M42 47h1M41 48h1"/><path stroke="#bcb45c" d="M86 3h1M71 15h1M53 16h1M6 26h1M9 26h1M7 27h1M23 27h1M14 28h1M22 28h2M7 29h1M18 29h1M24 29h1M10 30h1M10 31h1M6 34h1M18 35h1M66 35h1M19 43h1M47 43h1M41 45h1M41 47h1M49 48h1"/><path stroke="#d6b64c" d="M89 1h1M49 7h1M49 8h1M78 12h1M22 23h1M8 24h1M24 28h1M16 29h1M8 30h1M14 31h1M16 31h1M14 32h1M4 38h1M36 40h1M36 41h1M19 44h1M62 46h1M61 47h1"/><path stroke="#f0b83c" d="M48 8h1M1 14h1M5 20h1M20 26h1M8 27h1M10 27h1M17 27h1M17 28h1M13 29h1M21 29h1M20 30h1M15 31h1M19 32h1M20 33h1M2 34h1M48 45h1M40 47h1M50 48h1M29 49h1M42 49h1M49 49h1"/><path stroke="#f4c032" d="M48 9h1M3 12h1M20 27h1M25 27h1M11 28h1M16 28h1M5 29h1M11 29h2M20 29h1M19 30h1M27 31h1M67 32h1M21 33h1M25 33h1M19 46h1M41 46h1M49 46h1"/><path stroke="#f8c828" d="M88 1h1M76 22h1M7 25h1M11 26h2M12 28h1M18 28h1M8 29h1M26 29h2M16 32h1M3 38h1M8 38h1"/><path stroke="#f7d423" d="M26 27h1M12 30h1M17 30h1M17 32h1M23 34h2M49 47h1M62 47h1"/><path stroke="#f6e01e" d="M52 15h1M30 23h1M11 30h1M24 30h1M21 31h1M26 31h1M40 45h1"/><path stroke="#f7ec17" d="M11 27h2M8 28h1M16 30h1M15 32h1M23 33h1M19 48h1M40 49h1"/><path stroke="#f8f810" d="M50 8h1M53 14h1M9 21h1M19 28h2M25 30h1"/></g></g></g>
<use href="#gr"/><g clip-path="url(#cp)"><use href="#fl"/></g>
<polygon points="441,329 444.9,341 457.5,341 447.3,348.3 451.2,360.3 441,352.9 430.8,360.3 434.7,348.3 424.5,341 437.1,341" fill="#ff0000"/>
<use href="#fr"/><use href="#lb"/>
<text class="p" x="44.3" y="-27.9">(c)</text>
<text class="h" style="font-size:50.9px" x="388.9" y="-30.2" text-anchor="middle">8−10 March 2021</text>
</g>
<g transform="translate(1230.7,848.1) scale(1,1.0002)">
<g clip-path="url(#cp)"><g transform="translate(-4.13,-5.08) scale(8.2656,10.1500)" shape-rendering="crispEdges" fill="none"><rect width="91" height="51" fill="#17acb6"/><g transform="translate(0,.5)"><path stroke="#352a87" d="M7 7h1"/><path stroke="#3637a4" d="M6 7h1"/><path stroke="#3240b2" d="M77 13h1"/><path stroke="#2f49c0" d="M6 8h1M10 8h1M77 14h1"/><path stroke="#2652cc" d="M9 7h1M10 17h1"/><path stroke="#1261dc" d="M6 17h1M11 18h1M18 19h1"/><path stroke="#0868e0" d="M7 8h1M75 9h1M17 12h1M76 14h1"/><path stroke="#0a6ede" d="M22 10h1M74 12h1M23 13h1M75 13h2M29 14h1M6 16h1M85 34h1M88 34h1M85 35h1M87 35h1"/><path stroke="#0d74dc" d="M74 8h3M9 9h2M73 9h1M23 14h1M75 14h1M30 15h1M86 33h1M88 33h1M86 34h2M86 35h1M88 35h1M86 36h1"/><path stroke="#107ada" d="M5 6h1M13 6h1M4 7h2M8 8h1M77 8h1M4 9h1M8 9h1M74 9h1M8 10h3M74 10h1M73 11h1M75 12h4M74 13h1M78 13h2M78 14h1M29 17h1M87 32h1M85 33h1M87 33h1M89 34h1M84 35h1M85 36h1M87 36h1M83 37h1M77 46h1M76 47h1M83 47h1"/><path stroke="#1480d8" d="M8 4h1M4 5h1M11 5h1M3 6h2M12 6h1M15 6h1M3 7h1M11 7h2M75 7h1M4 8h1M11 8h1M3 9h1M7 9h1M17 9h1M72 9h1M76 9h2M6 10h2M11 10h1M71 10h3M77 10h1M5 11h5M72 11h1M74 11h3M78 11h1M73 12h1M79 12h1M20 13h2M24 13h1M22 14h1M24 14h2M28 14h1M73 14h2M79 14h1M14 15h1M22 15h3M26 15h3M76 15h1M15 16h1M23 16h3M27 16h2M30 17h1M79 21h1M86 32h1M89 35h1M84 36h1M88 36h1M77 37h2M84 37h2M76 38h1M78 38h1M76 39h1M86 40h2M81 42h1M81 43h1M82 45h2M78 46h1M73 47h3M77 47h1M84 47h1M77 48h1M83 48h2M83 49h1"/><path stroke="#1486d6" d="M7 3h1M9 3h1M3 4h1M9 4h1M2 5h2M5 5h1M8 5h1M10 5h1M13 5h1M6 6h1M8 6h2M14 6h1M8 7h1M10 7h1M14 7h1M76 7h3M2 8h2M5 8h1M9 8h1M13 8h2M16 8h1M73 8h1M2 9h1M5 9h1M11 9h1M15 9h1M18 9h1M4 10h1M17 10h2M76 10h1M10 11h2M71 11h1M77 11h1M7 12h1M10 12h1M24 12h1M17 13h1M22 13h1M25 13h1M29 13h2M72 13h2M16 14h1M19 14h1M21 14h1M26 14h2M15 15h2M25 15h1M29 15h1M75 15h1M78 15h1M16 16h1M22 16h1M29 16h1M14 17h1M22 17h1M25 17h2M26 18h1M29 18h2M78 20h2M6 28h1M7 29h1M7 30h1M7 32h1M85 32h1M88 32h1M89 33h1M83 34h2M90 34h1M82 35h2M77 36h1M79 36h1M81 36h3M76 37h1M79 37h1M82 37h1M86 37h1M75 38h1M77 38h1M82 38h2M75 39h1M78 39h1M84 39h2M87 39h1M76 40h2M79 40h1M81 40h1M85 40h1M72 41h1M77 41h1M84 41h1M87 41h2M72 42h1M77 42h3M83 42h3M87 42h1M72 43h2M75 43h1M77 43h1M83 43h1M72 44h2M80 44h2M77 45h1M81 45h1M72 46h2M76 46h1M83 46h2M72 47h1M78 47h1M73 48h4M78 48h1M82 49h1M84 49h1M82 50h3"/><path stroke="#138cd4" d="M0 0h1M7 2h4M4 3h1M6 3h1M8 3h1M10 3h1M19 3h2M4 4h2M7 4h1M10 4h2M20 4h1M9 5h1M12 5h1M14 5h2M19 5h1M7 6h1M10 6h1M16 6h1M13 7h1M15 7h1M19 7h1M74 7h1M12 8h1M15 8h1M17 8h1M79 8h1M6 9h1M12 9h1M16 9h1M19 9h1M71 9h1M78 9h2M2 10h2M5 10h1M19 10h1M75 10h1M78 10h1M4 11h1M12 11h1M17 11h2M79 11h1M4 12h3M8 12h2M11 12h1M21 12h1M23 12h1M25 12h1M31 12h1M15 13h2M18 13h2M27 13h2M31 13h2M80 13h1M14 14h2M17 14h2M20 14h1M72 14h1M17 15h3M21 15h1M74 15h1M77 15h1M79 15h1M7 16h1M13 16h2M21 16h1M26 16h1M30 16h1M15 17h1M21 17h1M24 17h1M27 17h2M31 17h3M46 17h1M25 18h1M27 18h1M31 18h1M46 18h1M78 21h1M80 21h1M5 27h2M7 28h1M3 29h1M5 29h2M8 29h1M6 30h1M8 30h1M3 31h1M6 31h2M88 31h1M5 32h1M89 32h1M6 33h2M84 33h1M4 35h1M76 35h4M90 35h1M75 36h1M78 36h1M89 36h1M75 37h1M80 37h2M87 37h1M90 37h1M74 38h1M79 38h1M84 38h1M86 38h1M74 39h1M77 39h1M81 39h3M86 39h1M88 39h1M75 40h1M78 40h1M83 40h2M88 40h1M73 41h1M75 41h2M78 41h2M81 41h3M85 41h2M73 42h4M80 42h1M82 42h1M86 42h1M88 42h1M71 43h1M76 43h1M78 43h2M82 43h1M7 44h2M71 44h1M74 44h3M79 44h1M82 44h2M73 45h1M76 45h1M78 45h3M84 45h1M82 46h1M85 46h1M71 47h1M79 47h1M82 47h1M85 47h1M89 47h1M72 48h1M82 48h1M85 48h1M89 48h2M75 49h2M81 49h1M85 49h1M85 50h1"/><path stroke="#1292d2" d="M1 0h1M47 0h1M3 1h1M8 1h2M29 1h1M2 2h1M2 3h2M5 3h1M11 3h1M18 3h1M2 4h1M6 4h1M12 4h4M18 4h2M7 5h1M2 6h1M11 6h1M19 6h2M76 6h1M1 7h2M16 7h3M20 7h1M73 7h1M79 7h2M85 7h2M1 8h1M18 8h2M72 8h1M78 8h1M82 8h4M14 9h1M70 9h1M12 10h2M16 10h1M20 10h1M2 11h2M16 11h1M19 11h1M21 11h1M31 11h2M87 11h1M3 12h1M15 12h2M18 12h2M22 12h1M26 12h1M30 12h1M32 12h2M71 12h2M80 12h1M87 12h1M4 13h1M6 13h3M13 13h2M26 13h1M34 13h1M30 14h1M32 14h2M3 15h2M6 15h1M20 15h1M31 15h1M33 15h1M5 16h1M20 16h1M33 16h1M4 17h2M7 17h1M13 17h1M20 17h1M23 17h1M34 17h1M47 17h1M7 18h1M21 18h2M28 18h1M32 18h3M80 20h1M81 21h1M5 26h1M1 27h1M7 27h2M2 28h4M8 28h2M2 29h1M4 29h1M9 29h1M3 30h3M9 30h1M53 30h1M4 31h2M8 31h3M86 31h1M4 32h1M6 32h1M8 32h1M71 32h1M84 32h1M4 33h2M8 33h1M71 33h2M83 33h1M90 33h1M3 34h2M6 34h3M12 34h1M72 34h1M74 34h4M82 34h1M7 35h2M73 35h3M80 35h2M3 36h1M74 36h1M76 36h1M80 36h1M90 36h1M88 37h1M80 38h2M85 38h1M87 38h4M49 39h2M79 39h2M89 39h2M72 40h1M74 40h1M80 40h1M82 40h1M89 40h1M71 41h1M74 41h1M80 41h1M71 42h1M7 43h1M74 43h1M80 43h1M84 43h3M88 43h1M77 44h2M84 44h1M88 44h1M7 45h2M71 45h2M74 45h2M87 45h2M71 46h1M74 46h2M86 46h2M89 46h1M86 47h3M90 47h1M71 48h1M81 48h1M86 48h3M71 49h4M77 49h1M80 49h1M87 49h2M81 50h1"/><path stroke="#1098d0" d="M2 0h2M26 0h5M46 0h1M0 1h2M4 1h1M3 2h3M16 2h1M18 2h1M20 2h1M12 3h2M16 3h1M1 4h1M17 4h1M51 4h1M1 5h1M6 5h1M16 5h3M20 5h2M45 5h1M50 5h3M0 6h1M17 6h2M74 6h1M77 6h3M87 6h1M72 7h1M83 7h2M20 8h1M70 8h2M80 8h2M1 9h1M13 9h1M20 9h1M84 9h1M1 10h1M14 10h1M31 10h1M70 10h1M79 10h2M87 10h1M15 11h1M20 11h1M22 11h6M30 11h1M80 11h1M2 12h1M12 12h1M20 12h1M27 12h2M34 12h1M88 12h1M3 13h1M5 13h1M9 13h4M33 13h1M71 13h1M3 14h1M9 14h1M13 14h1M31 14h1M80 14h1M5 15h1M7 15h1M13 15h1M34 15h1M80 15h1M4 16h1M12 16h1M17 16h1M19 16h1M31 16h1M34 16h1M46 16h1M76 16h3M0 17h1M8 17h1M12 17h1M16 17h1M4 18h1M6 18h1M14 18h1M23 18h1M45 18h1M47 18h1M27 19h3M31 19h1M78 19h1M79 22h1M0 26h3M6 26h1M9 26h3M2 27h3M9 27h1M11 28h1M10 29h1M2 30h1M11 30h1M11 31h2M85 31h1M87 31h1M89 31h2M2 32h2M11 32h2M80 32h1M83 32h1M90 32h1M2 33h2M12 33h1M41 33h3M48 33h1M74 33h1M79 33h2M82 33h1M2 34h1M5 34h1M9 34h1M11 34h1M43 34h1M70 34h2M73 34h1M78 34h4M2 35h2M5 35h2M9 35h1M11 35h2M42 35h1M70 35h1M72 35h1M2 36h1M4 36h1M72 36h1M2 37h1M72 37h3M89 37h1M50 38h1M72 38h2M51 39h1M72 39h2M70 40h1M73 40h1M90 40h1M70 41h1M89 41h1M5 42h2M6 43h1M8 43h1M70 43h1M87 43h1M89 43h1M6 44h1M70 44h1M87 44h1M9 45h1M85 45h1M89 45h1M79 46h3M88 46h1M90 46h1M80 47h2M79 48h2M78 49h2M86 49h1M89 49h2M19 50h1M43 50h1M45 50h1M58 50h1M71 50h3M80 50h1M86 50h4"/><path stroke="#0c9cce" d="M4 0h1M8 0h2M80 0h2M87 0h4M2 1h1M6 1h2M15 1h1M17 1h1M28 1h1M47 1h1M1 2h1M6 2h1M11 2h3M17 2h1M19 2h1M21 2h1M47 2h1M89 2h1M15 3h1M17 3h1M21 3h1M16 4h1M21 4h1M46 4h1M50 4h1M52 4h1M47 5h1M86 5h3M1 6h1M26 6h1M45 6h1M73 6h1M75 6h1M80 6h1M83 6h1M85 6h2M88 6h1M71 7h1M81 7h2M87 7h2M0 8h1M86 8h2M90 8h1M21 9h1M23 9h1M80 9h2M83 9h1M86 9h2M21 10h1M32 10h1M86 10h1M88 10h1M1 11h1M14 11h1M33 11h1M70 11h1M85 11h2M88 11h1M1 12h1M13 12h1M70 12h1M81 12h2M86 12h1M89 12h1M1 13h2M35 13h1M81 13h1M86 13h4M2 14h1M4 14h5M11 14h1M34 14h1M71 14h1M81 14h1M87 14h1M1 15h1M11 15h2M32 15h1M35 15h1M55 15h1M73 15h1M81 15h1M3 16h1M8 16h2M32 16h1M35 16h1M37 16h1M45 16h1M74 16h2M79 16h1M3 17h1M9 17h1M11 17h1M17 17h1M19 17h1M35 17h2M45 17h1M5 18h1M8 18h1M10 18h1M12 18h2M15 18h1M17 18h1M20 18h1M24 18h1M35 18h1M48 18h1M2 19h1M7 19h2M26 19h1M30 19h1M33 19h1M45 19h1M77 19h1M79 19h2M28 20h1M30 20h1M77 20h1M81 20h1M77 21h1M9 22h1M78 22h1M80 22h1M0 25h1M4 25h2M9 25h3M4 26h1M12 26h1M10 27h3M1 28h1M10 28h1M12 28h1M11 29h1M1 30h1M10 30h1M12 30h2M54 30h1M1 31h2M53 31h2M79 31h2M9 32h1M42 32h1M47 32h1M70 32h1M78 32h2M81 32h2M1 33h1M9 33h3M44 33h1M47 33h1M69 33h2M73 33h1M75 33h4M81 33h1M10 34h1M41 34h2M44 34h1M48 34h1M10 35h1M13 35h1M71 35h1M1 36h1M5 36h1M13 36h1M70 36h2M73 36h1M0 37h2M3 37h1M2 38h1M49 38h1M68 39h4M49 40h3M71 40h1M4 41h1M39 41h1M7 42h2M89 42h1M5 43h1M9 43h1M9 44h1M85 44h2M89 44h1M6 45h1M70 45h1M86 45h1M7 46h2M70 47h1M70 48h1M43 49h3M42 50h1M44 50h1M46 50h1M59 50h1M74 50h2M90 50h1"/><path stroke="#08a0cc" d="M5 0h1M19 0h2M22 0h2M25 0h1M31 0h1M48 0h1M66 0h1M73 0h2M78 0h1M86 0h1M5 1h1M10 1h1M14 1h1M16 1h1M18 1h4M26 1h2M30 1h2M46 1h1M49 1h1M80 1h1M88 1h3M0 2h1M14 2h2M29 2h1M45 2h2M48 2h1M50 2h1M64 2h1M80 2h1M1 3h1M14 3h1M22 3h1M46 3h1M48 3h4M88 3h1M0 4h1M22 4h1M26 4h1M45 4h1M47 4h3M89 4h2M26 5h1M44 5h1M46 5h1M48 5h2M53 5h1M78 5h1M80 5h1M89 5h2M21 6h1M47 6h2M50 6h3M71 6h2M81 6h2M84 6h1M89 6h2M0 7h1M21 7h1M44 7h2M70 7h1M89 7h2M21 8h1M88 8h1M0 9h1M22 9h1M31 9h1M69 9h1M82 9h1M85 9h1M88 9h3M0 10h1M23 10h1M25 10h2M30 10h1M81 10h5M13 11h1M34 11h2M81 11h1M84 11h1M83 12h3M90 12h1M82 13h2M90 13h1M1 14h1M10 14h1M35 14h1M88 14h2M0 15h1M2 15h1M8 15h3M36 15h1M71 15h2M88 15h1M0 16h3M10 16h2M18 16h1M36 16h1M47 16h1M80 16h2M1 17h2M18 17h1M48 17h1M81 17h1M90 17h1M0 18h2M3 18h1M9 18h1M16 18h1M19 18h1M36 18h1M78 18h1M90 18h1M1 19h1M4 19h3M9 19h1M13 19h3M24 19h2M32 19h1M34 19h1M46 19h2M81 19h1M90 19h1M0 20h1M17 20h1M26 20h2M29 20h1M31 20h1M69 20h1M0 21h1M16 21h1M10 22h1M81 22h1M0 24h2M4 24h3M10 24h2M53 24h1M1 25h2M6 25h2M3 26h1M7 26h2M63 26h1M0 27h1M13 27h1M46 27h1M62 27h2M65 27h1M63 28h1M1 29h1M12 29h2M52 29h1M80 29h1M14 30h1M52 30h1M81 30h1M87 30h3M13 31h2M51 31h1M55 31h1M69 31h1M81 31h2M84 31h1M1 32h1M10 32h1M13 32h1M43 32h2M46 32h1M48 32h1M72 32h4M13 33h1M45 33h2M1 34h1M13 34h1M47 34h1M69 34h1M0 35h1M41 35h1M49 35h1M69 35h1M0 36h1M6 36h7M27 36h2M41 36h1M65 36h1M69 36h1M4 37h2M13 37h1M24 37h2M69 37h1M16 38h1M51 38h1M63 38h1M68 38h1M71 38h1M2 39h1M67 39h1M37 40h1M39 40h1M69 40h1M1 41h3M5 41h1M38 41h1M40 41h2M90 41h1M39 42h1M70 42h1M90 42h1M61 43h1M5 44h1M60 44h2M69 44h1M69 45h1M90 45h1M6 46h1M44 46h1M70 46h1M11 47h1M11 48h1M43 48h2M69 48h1M12 49h1M19 49h1M46 49h1M59 49h1M69 49h2M25 50h1M69 50h2M76 50h1M78 50h2"/><path stroke="#0ba4c6" d="M6 0h2M10 0h1M16 0h3M21 0h1M36 0h2M43 0h1M45 0h1M56 0h1M67 0h1M75 0h1M77 0h1M79 0h1M82 0h1M84 0h2M13 1h1M22 1h1M24 1h2M44 1h1M48 1h1M73 1h1M78 1h2M82 1h2M22 2h1M25 2h1M49 2h1M51 2h1M62 2h1M72 2h1M74 2h1M79 2h1M90 2h1M45 3h1M47 3h1M79 3h2M89 3h2M30 4h1M44 4h1M80 4h1M87 4h2M0 5h1M22 5h1M25 5h1M27 5h1M30 5h1M77 5h1M79 5h1M81 5h1M22 6h1M25 6h1M27 6h1M44 6h1M46 6h1M49 6h1M66 6h1M70 6h1M48 7h2M51 7h1M65 7h2M69 7h1M22 8h1M24 8h1M26 8h1M63 8h1M65 8h1M69 8h1M89 8h1M25 9h1M33 9h1M50 9h1M68 9h1M24 10h1M29 10h1M33 10h3M51 10h1M69 10h1M89 10h1M0 11h1M28 11h1M37 11h1M82 11h2M89 11h2M35 12h1M47 12h1M0 13h1M36 13h1M84 13h1M12 14h1M37 14h1M39 14h1M70 14h1M82 14h3M86 14h1M90 14h1M37 15h1M82 15h1M87 15h1M89 15h2M40 16h1M43 16h2M48 16h1M42 17h1M44 17h1M79 17h2M2 18h1M18 18h1M41 18h1M44 18h1M77 18h1M79 18h1M0 19h1M3 19h1M16 19h2M21 19h3M40 19h3M44 19h1M76 19h1M1 20h2M15 20h2M18 20h1M41 20h2M70 20h1M90 20h1M6 21h1M8 21h3M15 21h1M17 21h1M27 21h2M46 21h1M82 21h1M7 22h1M11 22h1M16 22h2M0 23h1M5 23h2M10 23h2M56 23h1M84 23h1M2 24h2M8 24h1M54 24h1M68 24h1M3 25h1M8 25h1M12 25h1M64 25h1M86 25h1M47 26h1M62 26h1M81 26h1M16 27h1M31 27h1M47 27h1M0 28h1M46 28h1M64 28h1M53 29h2M63 29h2M89 29h1M46 30h1M51 30h1M55 30h1M64 30h1M79 30h1M82 30h1M85 30h2M90 30h1M0 31h1M32 31h1M35 31h1M42 31h2M52 31h1M70 31h4M78 31h1M83 31h1M0 32h1M33 32h1M45 32h1M52 32h1M54 32h1M69 32h1M76 32h2M0 33h1M32 33h1M40 33h1M0 34h1M46 34h1M49 34h1M1 35h1M14 35h1M40 35h1M43 35h2M50 35h1M64 35h2M29 36h1M39 36h1M42 36h2M64 36h1M6 37h1M11 37h2M14 37h1M18 37h2M28 37h1M48 37h1M66 37h1M70 37h2M0 38h2M3 38h2M24 38h2M61 38h1M64 38h1M66 38h2M69 38h2M1 39h1M3 39h1M15 39h1M39 39h1M48 39h1M61 39h4M2 40h2M15 40h1M38 40h1M41 40h1M52 40h1M67 40h2M6 41h3M42 41h1M69 41h1M1 42h1M3 42h2M9 42h1M11 42h1M17 42h1M40 42h1M54 42h1M69 43h1M90 43h1M44 44h1M90 44h1M4 45h2M44 45h1M49 45h1M60 45h1M62 45h1M64 45h1M9 46h1M39 46h1M69 46h1M8 47h2M12 47h1M33 47h1M40 47h1M58 47h2M69 47h1M9 48h1M12 48h1M40 48h3M45 48h1M59 48h1M62 48h1M10 49h2M33 49h1M40 49h1M42 49h1M58 49h1M68 49h1M12 50h1M18 50h1M20 50h1M24 50h1M30 50h2M33 50h1M54 50h2M57 50h1M60 50h1M62 50h1M77 50h1"/><path stroke="#0ea8c0" d="M13 0h1M15 0h1M24 0h1M34 0h1M39 0h2M44 0h1M49 0h2M54 0h2M59 0h1M62 0h4M72 0h1M76 0h1M83 0h1M11 1h2M23 1h1M32 1h1M50 1h1M59 1h4M64 1h1M66 1h2M71 1h2M74 1h1M77 1h1M81 1h1M86 1h2M23 2h2M26 2h3M30 2h2M63 2h1M70 2h2M73 2h1M81 2h1M84 2h1M0 3h1M24 3h1M52 3h1M73 3h1M24 4h2M27 4h1M29 4h1M53 4h1M67 4h1M73 4h1M79 4h1M86 4h1M24 5h1M65 5h1M71 5h4M76 5h1M85 5h1M24 6h1M43 6h1M53 6h1M67 6h3M22 7h2M25 7h2M33 7h2M43 7h1M52 7h1M57 7h1M64 7h1M67 7h1M23 8h1M25 8h1M33 8h3M44 8h1M50 8h1M57 8h1M66 8h1M24 9h1M30 9h1M32 9h1M35 9h1M51 9h1M59 9h1M27 10h2M36 10h1M41 10h1M43 10h1M50 10h1M57 10h2M68 10h1M90 10h1M36 11h1M41 11h1M68 11h2M0 12h1M36 12h1M42 12h1M69 12h1M61 13h1M63 13h1M69 13h2M85 13h1M0 14h1M36 14h1M56 14h1M69 14h1M85 14h1M40 15h1M45 15h2M56 15h1M70 15h1M83 15h1M86 15h1M38 16h2M41 16h1M71 16h1M73 16h1M88 16h3M37 17h1M40 17h1M43 17h1M49 17h1M61 17h1M69 17h1M74 17h1M76 17h3M89 17h1M37 18h4M43 18h1M70 18h1M76 18h1M10 19h3M19 19h2M39 19h1M48 19h2M70 19h2M75 19h1M82 19h1M3 20h1M7 20h4M13 20h2M19 20h1M23 20h3M32 20h2M40 20h1M45 20h3M74 20h1M76 20h1M82 20h1M1 21h1M3 21h1M7 21h1M12 21h1M19 21h1M29 21h1M31 21h1M45 21h1M48 21h1M69 21h2M2 22h2M6 22h1M8 22h1M12 22h1M19 22h4M28 22h1M58 22h1M77 22h1M82 22h1M89 22h1M1 23h1M4 23h1M7 23h3M12 23h1M20 23h1M32 23h1M53 23h2M79 23h1M81 23h1M83 23h1M7 24h1M9 24h1M55 24h1M61 24h1M67 24h1M83 24h3M13 25h1M24 25h1M62 25h2M65 25h1M67 25h1M80 25h1M84 25h2M13 26h1M17 26h1M46 26h1M61 26h1M64 26h2M87 26h1M30 27h1M61 27h1M64 27h1M88 27h1M90 27h1M13 28h2M31 28h1M52 28h2M55 28h1M62 28h1M71 28h1M79 28h1M0 29h1M14 29h2M33 29h1M55 29h1M65 29h1M69 29h2M72 29h1M79 29h1M81 29h1M84 29h1M86 29h2M90 29h1M0 30h1M15 30h1M31 30h1M33 30h1M69 30h3M80 30h1M83 30h2M15 31h2M31 31h1M33 31h1M38 31h1M45 31h3M68 31h1M14 32h1M31 32h2M41 32h1M49 32h1M51 32h1M53 32h1M55 32h1M29 33h3M33 33h1M49 33h1M68 33h1M14 34h1M20 34h1M29 34h5M40 34h1M45 34h1M50 34h1M64 34h1M66 34h1M68 34h1M27 35h1M39 35h1M51 35h1M63 35h1M23 36h4M40 36h1M48 36h3M66 36h1M68 36h1M7 37h4M23 37h1M26 37h2M29 37h1M40 37h3M49 37h2M61 37h5M67 37h2M5 38h3M9 38h1M13 38h3M17 38h4M23 38h1M28 38h1M33 38h2M48 38h1M52 38h2M59 38h2M62 38h1M65 38h1M4 39h1M14 39h1M38 39h1M41 39h1M46 39h1M52 39h1M57 39h1M66 39h1M4 40h1M7 40h1M33 40h1M35 40h1M45 40h2M48 40h1M59 40h2M66 40h1M0 41h1M12 41h1M15 41h1M22 41h2M36 41h2M45 41h1M51 41h1M61 41h1M68 41h1M0 42h1M2 42h1M10 42h1M19 42h1M30 42h1M37 42h2M41 42h1M46 42h2M61 42h1M69 42h1M0 43h2M3 43h2M10 43h2M38 43h2M42 43h1M46 43h1M59 43h2M62 43h1M67 43h2M2 44h1M4 44h1M10 44h1M40 44h2M43 44h1M62 44h2M68 44h1M10 45h1M33 45h1M37 45h2M43 45h1M45 45h1M59 45h1M61 45h1M63 45h1M68 45h1M4 46h1M10 46h4M33 46h1M38 46h1M40 46h4M59 46h2M68 46h1M5 47h3M10 47h1M13 47h1M17 47h1M29 47h1M38 47h1M41 47h1M43 47h2M3 48h1M10 48h1M17 48h1M20 48h1M30 48h1M32 48h3M39 48h1M46 48h1M49 48h1M60 48h2M68 48h1M3 49h2M18 49h1M24 49h1M31 49h2M34 49h1M38 49h1M47 49h1M60 49h5M67 49h1M1 50h2M10 50h2M13 50h1M26 50h1M32 50h1M40 50h2M47 50h2M50 50h1M52 50h2M56 50h1M64 50h1M68 50h1"/><path stroke="#20b0ac" d="M11 0h2M53 0h1M57 0h1M61 0h1M34 1h1M36 1h2M39 1h2M43 1h1M51 1h1M57 1h2M65 1h1M68 1h2M75 1h1M32 2h1M34 2h1M41 2h1M44 2h1M52 2h1M54 2h1M57 2h2M60 2h2M65 2h1M68 2h1M78 2h1M82 2h2M85 2h1M87 2h1M31 3h4M65 3h2M68 3h1M86 3h1M23 4h1M31 4h1M33 4h2M42 4h1M54 4h1M56 4h2M60 4h1M65 4h2M68 4h3M75 4h1M78 4h1M81 4h1M85 4h1M28 5h2M41 5h1M54 5h1M68 5h1M82 5h1M84 5h1M31 6h1M33 6h1M36 6h2M42 6h1M56 6h3M61 6h1M63 6h1M35 7h1M41 7h1M56 7h1M58 7h1M60 7h1M27 8h1M31 8h1M37 8h1M54 8h3M58 8h3M62 8h1M64 8h1M67 8h1M27 9h1M38 9h1M49 9h1M52 9h1M54 9h1M56 9h1M61 9h1M63 9h1M66 9h2M39 10h1M48 10h1M52 10h1M67 10h1M39 11h2M43 11h1M46 11h2M56 11h3M62 11h1M66 11h1M37 12h5M46 12h1M52 12h1M58 12h1M60 12h1M64 12h5M38 13h1M46 13h3M57 13h2M66 13h1M68 13h1M41 14h1M46 14h1M54 14h1M57 14h1M59 14h2M62 14h1M67 14h1M54 15h1M60 15h2M56 16h1M60 16h2M69 16h1M85 16h3M55 17h1M67 17h2M84 17h1M60 18h1M68 18h2M71 18h1M73 18h1M58 19h3M72 19h2M83 19h1M85 19h1M5 20h2M12 20h1M20 20h2M34 20h1M36 20h1M38 20h2M49 20h1M56 20h1M58 20h1M75 20h1M21 21h1M23 21h3M32 21h1M35 21h2M38 21h5M44 21h1M49 21h1M55 21h1M57 21h1M60 21h4M68 21h1M72 21h3M90 21h1M14 22h1M26 22h2M31 22h1M33 22h1M35 22h2M39 22h3M43 22h1M45 22h3M54 22h1M57 22h1M60 22h2M66 22h1M68 22h2M71 22h1M73 22h1M87 22h1M90 22h1M13 23h1M16 23h4M27 23h2M30 23h2M43 23h2M55 23h1M61 23h1M63 23h3M67 23h6M76 23h2M87 23h3M19 24h1M23 24h3M28 24h1M31 24h4M36 24h1M51 24h2M56 24h1M59 24h2M63 24h1M75 24h1M81 24h1M86 24h1M90 24h1M15 25h2M19 25h1M21 25h2M25 25h2M32 25h2M36 25h1M38 25h2M47 25h1M49 25h1M56 25h4M69 25h1M83 25h1M88 25h1M14 26h1M19 26h2M23 26h2M31 26h1M33 26h1M36 26h1M38 26h1M44 26h1M49 26h2M59 26h2M67 26h1M69 26h1M71 26h1M79 26h1M82 26h2M29 27h1M32 27h1M36 27h1M45 27h1M48 27h3M52 27h1M54 27h1M56 27h1M70 27h1M77 27h1M15 28h1M19 28h1M44 28h1M56 28h2M65 28h1M69 28h1M76 28h1M83 28h1M30 29h1M34 29h1M38 29h1M43 29h1M60 29h2M66 29h2M82 29h2M17 30h3M26 30h1M35 30h3M39 30h1M41 30h1M43 30h1M56 30h5M63 30h1M67 30h1M73 30h1M75 30h1M78 30h1M18 31h1M24 31h2M27 31h1M29 31h1M34 31h1M40 31h2M48 31h1M50 31h1M66 31h1M17 32h1M23 32h1M64 32h1M66 32h2M14 33h1M16 33h1M18 33h1M20 33h2M23 33h1M27 33h1M37 33h2M52 33h1M54 33h1M63 33h3M19 34h1M21 34h2M35 34h1M38 34h1M55 34h1M62 34h2M20 35h1M25 35h1M31 35h1M33 35h1M36 35h1M38 35h1M45 35h1M15 36h1M17 36h2M20 36h1M30 36h1M32 36h2M35 36h1M47 36h1M61 36h1M67 36h1M21 37h1M31 37h1M39 37h1M52 37h1M8 38h1M10 38h1M12 38h1M21 38h1M26 38h1M35 38h1M38 38h1M5 39h3M10 39h1M29 39h1M33 39h1M36 39h2M47 39h1M54 39h1M58 39h1M6 40h1M9 40h1M11 40h1M13 40h1M17 40h2M20 40h1M23 40h1M27 40h1M30 40h2M42 40h1M54 40h1M62 40h4M17 41h1M21 41h1M24 41h1M35 41h1M46 41h2M49 41h2M52 41h3M57 41h1M65 41h1M14 42h3M18 42h1M23 42h1M25 42h1M29 42h1M33 42h2M49 42h1M52 42h1M55 42h5M66 42h1M2 43h1M15 43h1M17 43h1M30 43h1M32 43h3M36 43h2M41 43h1M45 43h1M64 43h1M12 44h3M18 44h1M27 44h1M30 44h5M39 44h1M47 44h1M49 44h3M54 44h1M66 44h2M2 45h1M11 45h1M13 45h1M25 45h2M29 45h2M32 45h1M41 45h2M46 45h2M50 45h2M65 45h1M2 46h1M24 46h1M27 46h1M31 46h1M48 46h1M50 46h1M14 47h1M16 47h1M24 47h2M35 47h1M37 47h1M42 47h1M49 47h2M56 47h1M61 47h3M66 47h1M0 48h1M2 48h1M4 48h1M14 48h1M19 48h1M21 48h2M25 48h1M27 48h1M38 48h1M47 48h2M51 48h1M1 49h2M7 49h1M9 49h1M14 49h1M16 49h2M22 49h1M28 49h2M35 49h2M49 49h1M52 49h1M57 49h1M66 49h1M5 50h1M9 50h1M14 50h1M17 50h1M23 50h1M28 50h2M34 50h1M36 50h1M38 50h2"/><path stroke="#34b4a2" d="M52 0h1M58 0h1M38 1h1M42 1h1M76 1h1M37 2h1M40 2h1M55 2h1M66 2h2M75 2h1M56 3h1M58 3h1M61 3h2M64 3h1M75 3h1M81 3h4M32 4h1M37 4h1M55 4h1M64 4h1M77 4h1M84 4h1M31 5h2M34 5h1M40 5h1M42 5h1M58 5h4M63 5h2M83 5h1M30 6h1M32 6h1M39 6h1M54 6h2M30 7h1M38 7h1M42 7h1M54 7h1M30 8h1M38 8h1M40 8h1M46 8h2M28 9h1M44 9h1M55 9h1M57 9h1M53 10h1M55 10h1M61 10h1M63 10h1M44 11h1M55 11h1M60 11h2M63 11h2M43 12h3M51 12h1M59 12h1M63 12h1M40 13h1M44 13h2M52 13h1M65 13h1M45 14h1M47 14h1M50 14h1M61 14h1M49 15h1M58 15h1M63 15h5M49 16h1M51 16h1M59 16h1M63 16h2M67 16h1M84 16h1M65 17h1M72 17h1M88 17h1M51 18h2M84 18h1M57 19h1M68 19h1M11 20h1M35 20h1M50 20h1M52 20h1M55 20h1M57 20h1M59 20h2M73 20h1M4 21h1M37 21h1M43 21h1M53 21h1M56 21h1M59 21h1M64 21h2M67 21h1M75 21h1M85 21h2M89 21h1M23 22h3M37 22h1M56 22h1M67 22h1M76 22h1M83 22h1M88 22h1M14 23h2M23 23h4M33 23h1M36 23h1M40 23h1M46 23h2M52 23h1M58 23h1M60 23h1M13 24h2M22 24h1M27 24h1M37 24h1M40 24h5M58 24h1M64 24h1M77 24h1M87 24h2M20 25h1M23 25h1M31 25h1M34 25h2M41 25h2M44 25h3M50 25h1M60 25h1M72 25h3M78 25h1M82 25h1M30 26h1M35 26h1M40 26h2M43 26h1M53 26h2M57 26h1M70 26h1M75 26h1M77 26h1M20 27h2M38 27h1M44 27h1M51 27h1M53 27h1M69 27h1M75 27h1M78 27h1M81 27h1M83 27h2M87 27h1M20 28h1M28 28h2M36 28h1M39 28h1M43 28h1M51 28h1M78 28h1M84 28h1M37 29h1M42 29h1M44 29h1M47 29h1M49 29h2M57 29h1M85 29h1M25 30h1M30 30h1M44 30h1M49 30h1M62 30h1M66 30h1M76 30h1M26 31h1M63 31h1M65 31h1M67 31h1M15 32h1M18 32h1M24 32h2M27 32h1M37 32h1M59 32h1M63 32h1M65 32h1M19 33h1M22 33h1M25 33h1M34 33h1M36 33h1M53 33h1M55 33h1M57 33h1M62 33h1M66 33h2M15 34h4M24 34h1M27 34h1M36 34h1M52 34h1M57 34h1M15 35h1M37 35h1M52 35h1M55 35h1M57 35h1M62 35h1M16 36h1M19 36h1M31 36h1M34 36h1M36 36h3M52 36h1M54 36h2M30 37h1M34 37h2M37 37h1M47 37h1M53 37h3M59 37h1M36 38h2M41 38h1M44 38h1M9 39h1M11 39h1M21 39h1M27 39h1M30 39h1M56 39h1M10 40h1M12 40h1M19 40h1M24 40h2M28 40h1M56 40h2M19 41h2M28 41h3M48 41h1M55 41h1M58 41h1M64 41h1M21 42h1M35 42h1M48 42h1M63 42h2M13 43h1M16 43h1M20 43h1M24 43h1M28 43h1M48 43h3M55 43h2M63 43h1M65 43h1M0 44h2M11 44h1M29 44h1M35 44h1M46 44h1M55 44h1M57 44h1M65 44h1M28 45h1M34 45h3M52 45h2M56 45h1M58 45h1M67 45h1M3 46h1M25 46h2M28 46h3M35 46h2M51 46h2M55 46h1M58 46h1M62 46h1M65 46h2M0 47h2M15 47h1M20 47h1M23 47h1M26 47h2M47 47h2M64 47h1M1 48h1M28 48h1M36 48h1M52 48h1M56 48h1M65 48h1M0 49h1M27 49h1M54 49h2M16 50h1M21 50h2M27 50h1M35 50h1"/><path stroke="#48b898" d="M53 1h1M35 2h1M39 2h1M56 2h1M76 2h2M86 2h1M38 3h1M55 3h1M57 3h1M60 3h1M67 3h1M76 3h1M36 4h1M41 4h1M58 4h1M61 4h2M82 4h2M33 5h1M35 5h1M37 5h2M57 5h1M38 6h1M40 6h2M28 7h2M40 7h1M55 7h1M29 8h1M43 8h1M53 8h1M45 9h3M64 9h2M62 10h1M64 10h1M45 11h1M54 11h1M14 12h1M54 12h2M57 12h1M54 13h2M60 13h1M52 14h1M64 14h1M66 14h1M53 15h1M59 15h1M58 16h1M62 16h1M53 17h2M56 17h1M59 17h1M66 17h1M85 17h1M87 17h1M54 18h2M59 18h1M61 18h2M66 18h1M85 18h1M51 19h4M56 19h1M61 19h3M84 19h1M53 20h1M61 20h4M67 20h1M85 20h1M52 21h1M58 21h1M66 21h1M88 21h1M48 22h1M84 22h1M35 23h1M37 23h3M41 23h1M45 23h1M48 23h1M59 23h1M21 24h1M26 24h1M39 24h1M45 24h1M47 24h1M49 24h2M27 25h1M29 25h2M52 25h1M70 25h1M75 25h1M21 26h2M29 26h1M32 26h1M39 26h1M51 26h2M58 26h1M74 26h1M78 26h1M19 27h1M33 27h1M40 27h1M57 27h1M73 27h2M76 27h1M82 27h1M85 27h2M21 28h2M27 28h1M33 28h1M38 28h1M40 28h3M48 28h3M58 28h1M68 28h1M73 28h1M75 28h1M77 28h1M82 28h1M86 28h1M28 29h1M36 29h1M39 29h1M41 29h1M58 29h1M73 29h1M78 29h1M29 30h1M40 30h1M74 30h1M22 31h1M57 31h1M59 31h4M19 32h1M21 32h2M26 32h1M28 32h1M38 32h2M56 32h2M62 32h1M15 33h1M17 33h1M24 33h1M59 33h3M37 34h1M53 34h2M16 35h1M18 35h1M24 35h1M34 35h2M53 35h1M56 35h1M61 35h1M45 36h1M53 36h1M59 36h2M36 37h1M38 37h1M44 37h1M30 38h1M43 38h1M45 38h1M56 38h2M25 39h2M55 39h1M26 40h1M29 40h1M56 41h1M59 41h1M63 41h1M20 42h1M26 42h3M50 42h2M19 43h1M22 43h2M57 43h1M16 44h2M24 44h1M28 44h1M52 44h1M56 44h1M1 45h1M18 45h1M24 45h1M54 45h1M0 46h1M15 46h2M22 46h2M46 46h2M54 46h1M56 46h1M2 47h1M18 47h2M21 47h2M28 47h1M30 47h1M36 47h1M46 47h1M54 47h2M53 48h1M55 48h1M57 48h1M5 49h2M8 49h1M15 49h1M8 50h1"/><path stroke="#62ba8a" d="M35 3h1M37 3h1M40 3h1M43 3h1M77 3h1M35 4h1M38 4h3M59 4h1M39 5h1M28 8h1M39 8h1M44 10h2M47 10h1M56 10h1M66 10h1M53 11h1M65 11h1M53 13h1M53 14h1M39 15h1M52 15h1M57 16h1M58 17h1M86 17h1M58 18h1M86 18h1M88 18h1M55 19h1M64 19h1M67 19h1M51 20h1M65 20h2M87 21h1M52 22h1M75 22h1M42 23h1M51 23h1M85 23h1M29 24h1M38 24h1M48 24h1M76 24h1M78 24h1M28 25h1M40 25h1M51 25h1M77 25h1M25 26h1M27 26h2M42 26h1M56 26h1M73 26h1M23 27h1M39 27h1M41 27h1M43 27h1M58 27h1M60 27h1M60 28h1M74 28h1M85 28h1M21 29h2M25 29h1M29 29h1M35 29h1M59 29h1M75 29h3M24 30h1M61 30h1M77 30h1M19 31h1M28 31h1M39 31h1M20 32h1M58 32h1M61 32h1M26 33h1M23 34h1M25 34h2M61 34h1M17 35h1M54 35h1M59 35h2M46 36h1M46 37h1M56 37h1M31 38h1M46 38h1M55 38h1M55 40h1M25 41h3M22 42h1M65 42h1M21 43h1M27 43h1M35 43h1M15 44h1M22 44h1M0 45h1M14 45h4M19 45h1M22 45h2M55 45h1M14 46h1M18 46h1M20 46h1M53 46h1M53 47h1M6 50h2"/><path stroke="#7cbd7c" d="M36 2h1M38 2h1M39 3h1M65 10h1M53 12h1M59 13h1M38 15h1M53 16h1M53 18h1M57 18h1M87 18h1M65 19h1M86 19h3M86 20h2M51 21h1M49 22h1M34 26h1M76 26h1M24 27h1M26 27h1M28 27h1M34 27h2M42 27h1M59 27h1M79 27h1M23 28h4M34 28h1M20 29h1M24 29h1M26 29h2M40 29h1M22 30h2M28 30h1M23 31h1M58 33h1M58 34h1M60 34h1M58 35h1M56 36h1M45 37h1M57 37h2M19 44h2M23 44h1M1 46h1M21 46h1M52 47h1"/><path stroke="#9cb86c" d="M36 3h1M29 6h1M39 7h1M29 11h1M29 12h1M39 13h1M57 17h1M62 17h2M56 18h1M51 22h1M49 23h1M35 28h1M59 28h1M20 30h2M27 30h1M17 31h1M20 31h2M57 36h2M51 43h1M21 44h1M20 45h2M19 46h1M5 48h1M7 48h1M54 48h1"/><path stroke="#bcb45c" d="M50 17h1M30 21h1M50 21h1M44 22h1M50 22h1M50 23h1M86 23h1M70 24h1M26 26h1M22 27h1M27 27h1M23 29h1M74 29h1M44 31h1M59 34h1M8 39h1M6 48h1"/><path stroke="#d6b64c" d="M48 9h1M46 10h1M49 10h1M56 12h1M48 14h1M66 16h1M39 17h1M75 17h1M50 19h1M86 22h1M30 24h1M35 24h1M71 25h1M18 29h1M58 31h1"/><path stroke="#f0b83c" d="M62 7h1M41 8h1M48 11h1M64 13h1M51 14h1M65 14h1M52 16h1M50 18h1M80 26h1M18 28h1M60 32h1"/><path stroke="#f4c032" d="M48 8h2M15 10h1M47 15h1M50 16h1M67 18h1M80 18h2M4 47h1M8 48h1"/><path stroke="#f8c828" d="M50 11h1M67 11h1M42 14h1M52 17h1M64 17h1M63 18h1M66 19h1M80 23h1M76 25h1M25 27h1"/><path stroke="#f7d423" d="M25 3h1M42 13h1M49 13h1M51 15h1M64 18h1M75 18h1M46 24h1M52 43h1M3 47h1"/><path stroke="#f6e01e" d="M65 16h1M79 25h1"/><path stroke="#f7ec17" d="M67 13h1M41 15h1M51 17h1M65 18h1M19 29h1"/><path stroke="#f8f810" d="M43 14h1M49 14h1M50 15h1M49 18h1M68 20h1M88 20h2"/></g></g></g>
<use href="#gr"/><g clip-path="url(#cp)"><use href="#fl"/></g>
<polygon points="441,329 444.9,341 457.5,341 447.3,348.3 451.2,360.3 441,352.9 430.8,360.3 434.7,348.3 424.5,341 437.1,341" fill="#ff0000"/>
<use href="#fr"/><use href="#lb"/>
<text class="p" x="43.7" y="-25.1">(d)</text>
<text class="h" style="font-size:50.9px" x="392.8" y="-28.6" text-anchor="middle">11−13 March 2021</text>
</g>
<g transform="translate(279.6,1587.1) scale(1,1.0016)">
<g clip-path="url(#cp)"><g transform="translate(-4.13,-5.08) scale(8.2656,10.1500)" shape-rendering="crispEdges" fill="none"><rect width="91" height="51" fill="#17acb6"/><g transform="translate(0,.5)"><path stroke="#352a87" d="M8 5h3M10 7h1M75 13h5M74 14h2M77 14h1"/><path stroke="#363096" d="M8 6h2M9 7h1M72 9h1M77 12h1M76 14h1"/><path stroke="#3637a4" d="M10 6h1M11 7h1M54 12h1M78 12h1"/><path stroke="#3240b2" d="M3 8h1M11 8h1M20 10h2M78 21h1"/><path stroke="#2652cc" d="M71 9h1"/><path stroke="#1c5ad8" d="M6 6h1M8 7h1"/><path stroke="#1261dc" d="M12 6h1M17 11h1M22 11h1M77 11h1M18 12h1"/><path stroke="#0868e0" d="M11 6h1M7 8h2M19 11h1M19 12h1M72 12h1M78 22h1"/><path stroke="#0a6ede" d="M7 6h1M23 11h1M52 11h1M70 11h1M74 11h2M20 12h1M70 12h2M73 12h2M70 13h2M71 14h1M26 18h1M78 23h1M74 24h1M86 36h1M85 37h1"/><path stroke="#0d74dc" d="M7 7h1M19 9h1M37 9h1M18 10h1M70 10h2M73 10h1M53 11h1M71 11h1M75 12h2M19 13h1M72 13h3M70 14h1M72 14h1M61 16h1M29 17h1M87 34h1M87 36h1M86 37h1M86 38h1"/><path stroke="#107ada" d="M10 4h1M19 10h1M18 11h1M20 11h1M69 11h1M73 11h1M17 12h1M9 13h1M72 15h1M6 16h1M87 35h2M85 36h1M87 37h1M88 46h1M88 47h1"/><path stroke="#1480d8" d="M9 3h2M9 4h1M11 4h1M6 8h1M19 8h2M18 9h1M20 9h1M73 9h1M69 10h1M72 10h1M75 10h2M72 11h1M76 11h1M17 13h1M20 13h2M69 13h1M9 14h1M69 14h1M73 14h1M78 14h1M4 15h1M14 15h1M28 15h1M61 15h1M70 15h2M76 15h2M46 18h1M46 19h1M86 34h1M88 34h2M85 35h2M85 38h1M87 38h1M84 39h2M88 42h1M76 45h1M75 46h1M87 46h1M89 46h1M87 47h1M89 47h1"/><path stroke="#1486d6" d="M8 3h1M7 4h2M6 5h1M11 5h1M1 6h1M3 6h1M1 7h1M6 7h1M1 8h2M17 8h2M21 8h1M86 8h1M1 9h1M16 9h1M21 9h1M74 9h1M3 10h1M5 10h2M16 10h1M77 10h1M16 11h1M21 11h1M3 12h2M8 12h1M21 12h1M69 12h1M8 13h1M10 13h1M18 13h1M22 13h1M8 14h1M10 14h1M16 14h5M5 15h1M69 15h1M73 15h3M5 16h1M87 33h1M85 34h1M89 35h1M84 36h1M88 36h1M83 37h2M89 37h1M82 38h1M84 38h1M78 39h1M82 39h2M86 39h1M85 40h2M85 41h1M87 41h1M84 43h1M76 44h3M83 44h1M87 44h2M75 45h1M78 45h1M82 45h1M88 45h2M74 46h1M76 46h2M84 46h1M74 47h4M84 47h1M86 47h1M76 48h1M83 48h3M87 48h4"/><path stroke="#138cd4" d="M11 1h1M13 1h2M11 2h2M7 3h1M11 3h1M13 3h1M12 4h2M30 4h1M7 5h1M27 5h2M5 6h1M28 6h1M0 7h1M2 7h3M17 7h4M29 7h2M0 8h1M5 8h1M9 8h2M87 8h1M2 9h1M4 9h2M15 9h1M17 9h1M22 9h1M70 9h1M75 9h1M1 10h2M14 10h2M17 10h1M22 10h2M74 10h1M78 10h1M4 11h3M14 11h1M78 11h1M5 12h1M7 12h1M10 12h4M16 12h1M3 13h1M7 13h1M12 13h1M23 13h1M3 14h2M7 14h1M14 14h2M22 14h1M24 14h1M8 15h1M15 15h1M18 15h1M20 15h1M22 15h2M4 16h1M14 16h2M22 16h1M24 16h1M72 16h2M76 16h2M5 17h1M15 17h1M45 18h1M47 18h1M85 33h2M88 33h2M84 34h1M90 34h1M89 36h1M82 37h1M88 37h1M80 38h2M83 38h1M88 38h1M79 39h3M87 39h2M76 40h1M78 40h3M83 40h1M77 41h3M84 41h1M86 41h1M88 41h1M79 42h1M84 42h1M86 42h2M77 43h3M85 43h1M87 43h2M75 44h1M79 44h1M84 44h1M89 44h1M77 45h1M79 45h1M83 45h1M85 45h1M87 45h1M83 46h1M85 46h2M90 46h1M78 47h1M83 47h1M85 47h1M90 47h1M74 48h2M81 48h1M86 48h1M89 49h2M90 50h1"/><path stroke="#1292d2" d="M11 0h3M12 1h1M7 2h2M10 2h1M13 2h2M6 3h1M14 3h1M29 3h1M2 4h1M5 4h2M14 4h1M27 4h3M31 4h1M1 5h2M5 5h1M12 5h2M26 5h1M29 5h2M2 6h1M4 6h1M13 6h1M17 6h3M21 6h1M26 6h2M29 6h2M87 6h1M5 7h1M12 7h1M16 7h1M21 7h1M85 7h3M4 8h1M12 8h1M15 8h1M22 8h1M28 8h1M30 8h1M72 8h2M83 8h1M85 8h1M0 9h1M6 9h2M14 9h1M23 9h2M69 9h1M76 9h3M83 9h1M85 9h3M4 10h1M10 10h1M13 10h1M24 10h2M88 10h1M1 11h3M7 11h1M11 11h2M15 11h1M24 11h1M27 11h2M79 11h1M2 12h1M6 12h1M9 12h1M22 12h6M31 12h1M79 12h1M2 13h1M4 13h3M11 13h1M13 13h2M16 13h1M25 13h2M84 13h1M5 14h2M13 14h1M21 14h1M23 14h1M25 14h1M79 14h1M3 15h1M6 15h2M9 15h2M16 15h2M21 15h1M24 15h2M78 15h1M2 16h1M7 16h3M13 16h1M16 16h1M21 16h1M23 16h1M25 16h1M39 16h1M71 16h1M74 16h1M78 16h1M2 17h1M4 17h1M14 17h1M16 17h1M20 17h3M46 17h1M14 18h2M45 19h1M47 19h1M45 20h2M72 21h2M77 21h1M86 32h1M90 33h1M83 34h1M84 35h1M90 35h1M83 36h1M80 37h1M79 38h1M72 39h1M74 39h2M77 39h1M72 40h4M81 40h2M84 40h1M88 40h1M72 41h4M72 42h1M76 42h2M89 42h1M80 43h4M86 43h1M89 43h1M80 44h3M85 44h2M81 45h1M84 45h1M86 45h1M90 45h1M73 46h1M78 46h1M81 46h2M73 47h1M81 47h2M77 48h3M82 48h1M83 49h4M88 49h1M18 50h2M47 50h1"/><path stroke="#1098d0" d="M10 0h1M14 0h2M44 0h1M46 0h1M7 1h1M10 1h1M15 1h1M22 1h1M44 1h1M4 2h1M6 2h1M9 2h1M29 2h2M3 3h3M12 3h1M15 3h1M27 3h2M30 3h2M1 4h1M3 4h2M26 4h1M0 5h1M3 5h2M14 5h2M22 5h2M31 5h1M89 5h1M0 6h1M15 6h2M20 6h1M22 6h2M25 6h1M85 6h2M88 6h1M13 7h1M22 7h1M26 7h3M31 7h1M82 7h1M88 7h1M16 8h1M26 8h2M31 8h1M71 8h1M74 8h1M82 8h1M84 8h1M88 8h1M3 9h1M8 9h6M25 9h2M30 9h1M84 9h1M88 9h1M0 10h1M7 10h1M9 10h1M79 10h1M84 10h2M87 10h1M8 11h2M13 11h1M25 11h2M30 11h1M68 11h1M86 11h1M14 12h2M28 12h1M30 12h1M84 12h1M15 13h1M24 13h1M27 13h1M30 13h2M85 13h1M90 13h1M2 14h1M11 14h1M26 14h1M84 14h1M2 15h1M13 15h1M19 15h1M26 15h1M40 15h1M18 16h3M38 16h1M70 16h1M75 16h1M1 17h1M3 17h1M6 17h4M13 17h1M17 17h1M23 17h1M25 17h1M39 17h2M45 17h1M47 17h1M2 18h1M13 18h1M16 18h2M20 18h3M47 20h1M72 20h4M77 20h1M74 21h1M76 21h1M72 22h1M77 22h1M90 22h1M11 28h1M4 31h1M85 32h1M87 32h3M84 33h1M83 35h1M81 36h1M90 36h1M81 37h1M90 37h1M76 38h3M89 38h1M73 39h1M76 39h1M77 40h1M87 40h1M3 41h1M76 41h1M80 41h2M83 41h1M89 41h1M16 42h1M74 42h2M78 42h1M80 42h1M83 42h1M72 43h1M76 43h1M90 44h1M74 45h1M80 45h1M79 46h2M8 47h1M79 47h1M71 48h2M80 48h1M18 49h2M72 49h3M76 49h3M80 49h3M87 49h1M17 50h1M46 50h1M72 50h1M76 50h2M79 50h1M81 50h1M89 50h1"/><path stroke="#0c9cce" d="M22 0h3M43 0h1M45 0h1M53 0h2M4 1h3M9 1h1M23 1h2M29 1h1M45 1h1M1 2h1M3 2h1M5 2h1M15 2h1M22 2h1M24 2h1M26 2h2M0 3h3M22 3h1M0 4h1M15 4h1M22 4h1M32 4h2M50 4h1M89 4h2M16 5h3M21 5h1M24 5h2M50 5h1M87 5h2M90 5h1M14 6h1M31 6h1M81 6h4M89 6h1M14 7h2M23 7h1M83 7h2M89 7h1M13 8h1M23 8h1M25 8h1M29 8h1M70 8h1M75 8h1M78 8h1M89 8h1M27 9h2M79 9h2M89 9h1M8 10h1M11 10h2M26 10h1M30 10h2M68 10h1M86 10h1M89 10h1M29 11h1M31 11h2M84 11h2M87 11h1M89 11h1M1 12h1M29 12h1M32 12h1M68 12h1M83 12h1M85 12h1M89 12h2M28 13h1M80 13h1M83 13h1M1 14h1M12 14h1M27 14h2M30 14h2M40 14h1M68 14h1M83 14h1M85 14h1M90 14h1M11 15h1M27 15h1M29 15h1M37 15h3M68 15h1M1 16h1M12 16h1M17 16h1M27 16h1M37 16h1M69 16h1M10 17h1M12 17h1M18 17h2M24 17h1M26 17h1M34 17h1M37 17h1M41 17h2M76 17h2M3 18h2M6 18h1M8 18h1M10 18h1M12 18h1M18 18h2M23 18h1M33 18h1M40 18h1M5 19h1M44 19h1M71 20h1M76 20h1M78 20h1M89 20h2M71 21h1M75 21h1M79 21h1M90 21h1M71 22h1M73 22h2M76 22h1M79 22h1M4 24h2M10 29h1M62 29h1M8 31h1M4 32h1M8 32h2M84 32h1M82 33h2M82 35h1M9 36h1M77 36h1M82 36h1M9 37h2M79 37h1M9 38h2M68 38h1M74 38h2M90 38h1M70 39h2M89 39h1M71 40h1M89 40h1M61 41h1M71 41h1M82 41h1M3 42h1M58 42h1M60 42h1M71 42h1M73 42h1M82 42h1M85 42h1M90 42h1M15 43h1M27 43h1M34 43h1M43 43h1M71 43h1M74 43h2M4 44h3M22 44h1M26 44h1M73 44h2M21 45h1M26 45h2M71 45h3M6 46h1M70 46h3M9 47h1M69 47h4M80 47h1M8 48h1M70 48h1M73 48h1M17 49h1M46 49h1M71 49h1M75 49h1M79 49h1M15 50h1M20 50h2M48 50h1M71 50h1M73 50h1M78 50h1M83 50h2M87 50h1"/><path stroke="#08a0cc" d="M8 0h2M16 0h1M42 0h1M47 0h4M52 0h1M55 0h1M61 0h1M0 1h1M3 1h1M8 1h1M16 1h2M21 1h1M25 1h1M30 1h1M39 1h1M43 1h1M46 1h1M49 1h1M54 1h2M0 2h1M2 2h1M16 2h1M23 2h1M25 2h1M28 2h1M31 2h1M45 2h1M55 2h1M90 2h1M23 3h1M25 3h1M32 3h1M49 3h2M62 3h1M90 3h1M16 4h1M21 4h1M23 4h1M25 4h1M60 4h2M87 4h1M19 5h2M51 5h1M81 5h6M24 6h1M90 6h1M24 7h2M32 7h1M72 7h2M80 7h2M14 8h1M32 8h1M76 8h2M79 8h3M29 9h1M31 9h1M82 9h1M90 9h1M27 10h3M32 10h1M80 10h1M82 10h1M0 11h1M10 11h1M83 11h1M88 11h1M80 12h1M82 12h1M86 12h1M88 12h1M1 13h1M29 13h1M32 13h1M68 13h1M81 13h2M86 13h4M29 14h1M32 14h2M35 14h1M37 14h3M41 14h1M80 14h3M89 14h1M1 15h1M12 15h1M31 15h2M36 15h1M79 15h3M83 15h1M90 15h1M10 16h2M26 16h1M28 16h2M32 16h3M36 16h1M40 16h2M46 16h1M79 16h1M0 17h1M11 17h1M27 17h1M32 17h2M35 17h2M44 17h1M71 17h5M78 17h1M86 17h2M0 18h2M7 18h1M9 18h1M11 18h1M25 18h1M34 18h6M41 18h2M44 18h1M76 18h2M2 19h1M4 19h1M6 19h1M12 19h2M16 19h1M33 19h2M71 19h2M74 19h3M1 20h1M43 20h1M80 20h2M1 21h2M45 21h2M80 21h1M89 21h1M1 22h4M75 22h1M81 22h1M0 23h2M3 23h2M6 23h1M15 23h1M17 23h1M71 23h2M77 23h1M90 23h1M0 24h2M3 24h1M84 24h1M0 25h1M28 26h1M11 27h1M25 27h1M68 27h1M82 27h1M8 28h1M10 28h1M0 29h1M8 29h2M11 29h1M61 29h1M0 30h1M3 30h1M5 30h1M8 30h3M3 31h1M5 31h1M9 31h2M60 31h1M63 31h1M5 32h2M33 32h1M83 32h1M90 32h1M5 33h5M33 33h1M8 34h1M38 34h1M82 34h1M7 35h1M81 35h1M8 36h1M10 36h1M42 36h1M71 36h1M75 36h2M78 36h1M80 36h1M8 37h1M18 37h1M69 37h1M71 37h1M75 37h4M11 38h1M17 38h3M39 38h2M49 38h1M70 38h4M3 39h1M9 39h2M17 39h1M49 39h2M69 39h1M90 39h1M16 40h1M50 40h1M52 40h1M60 40h1M70 40h1M2 41h1M4 41h1M8 41h1M13 41h1M23 41h1M50 41h1M59 41h2M90 41h1M9 42h1M14 42h2M17 42h1M43 42h1M69 42h1M81 42h1M3 43h2M16 43h2M42 43h1M51 43h1M60 43h1M73 43h1M90 43h1M3 44h1M16 44h1M20 44h1M27 44h1M43 44h1M72 44h1M5 45h3M9 45h1M20 45h1M22 45h2M25 45h1M70 45h1M2 46h2M5 46h1M7 46h2M26 46h1M69 46h1M5 47h1M7 47h1M10 47h1M21 47h1M5 48h2M9 48h2M15 48h1M18 48h2M24 48h1M69 48h1M8 49h1M10 49h1M12 49h1M14 49h3M20 49h4M25 49h1M47 49h2M54 49h2M70 49h1M7 50h1M11 50h1M13 50h2M22 50h2M45 50h1M54 50h1M80 50h1M82 50h1M85 50h2M88 50h1"/><path stroke="#0ba4c6" d="M0 0h2M4 0h1M7 0h1M17 0h1M20 0h2M25 0h1M30 0h2M37 0h1M51 0h1M63 0h1M1 1h2M20 1h1M26 1h1M31 1h1M47 1h2M53 1h1M61 1h3M82 1h1M20 2h2M46 2h1M49 2h1M51 2h2M62 2h1M82 2h1M16 3h1M21 3h1M24 3h1M33 3h1M45 3h1M51 3h3M60 3h2M63 3h1M80 3h1M82 3h1M89 3h1M17 4h1M24 4h1M49 4h1M51 4h4M56 4h2M59 4h1M62 4h3M84 4h1M86 4h1M88 4h1M32 5h1M49 5h1M52 5h1M60 5h1M62 5h2M79 5h2M32 6h1M35 6h1M63 6h1M66 6h1M80 6h1M59 7h1M67 7h1M70 7h1M78 7h2M90 7h1M24 8h1M68 8h1M90 8h1M32 9h1M38 9h1M67 9h2M81 9h1M67 10h1M81 10h1M83 10h1M90 10h1M33 11h1M80 11h3M90 11h1M0 12h1M39 12h3M81 12h1M87 12h1M0 13h1M33 13h1M37 13h5M0 14h1M34 14h1M36 14h1M42 14h1M86 14h1M88 14h1M30 15h1M33 15h2M42 15h1M82 15h1M84 15h6M31 16h1M35 16h1M42 16h1M47 16h1M84 16h4M90 16h1M31 17h1M43 17h1M48 17h1M79 17h1M85 17h1M89 17h2M24 18h1M27 18h2M32 18h1M48 18h1M71 18h2M75 18h1M78 18h1M85 18h1M90 18h1M0 19h2M3 19h1M7 19h1M9 19h1M14 19h2M17 19h3M21 19h1M41 19h1M48 19h1M73 19h1M77 19h1M79 19h1M90 19h1M0 20h1M2 20h1M5 20h2M11 20h1M44 20h1M79 20h1M0 21h1M3 21h4M12 21h2M47 21h1M81 21h1M0 22h1M5 22h1M7 22h1M14 22h1M19 22h1M80 22h1M89 22h1M2 23h1M5 23h1M7 23h3M11 23h1M70 23h1M73 23h1M76 23h1M79 23h1M84 23h1M6 24h4M11 24h2M16 24h1M1 25h1M4 25h8M27 25h2M81 25h1M84 25h1M8 26h1M10 26h2M26 26h2M83 26h2M89 26h1M2 27h1M9 27h2M12 27h1M24 27h1M27 27h2M69 27h1M89 27h1M2 28h1M4 28h1M7 28h1M9 28h1M12 28h2M63 28h2M70 28h1M1 29h1M3 29h5M12 29h1M63 29h1M87 29h1M1 30h1M4 30h1M6 30h2M61 30h4M66 30h1M0 31h3M6 31h2M62 31h1M85 31h4M2 32h2M7 32h1M10 32h1M35 32h1M42 32h1M76 32h2M4 33h1M32 33h1M37 33h1M43 33h1M76 33h1M4 34h2M7 34h1M42 34h2M81 34h1M8 35h3M14 35h1M19 35h1M38 35h1M42 35h1M69 35h1M77 35h1M80 35h1M1 36h1M4 36h2M7 36h1M11 36h1M13 36h1M18 36h1M39 36h1M44 36h2M69 36h2M74 36h1M3 37h3M7 37h1M11 37h2M19 37h1M30 37h1M40 37h1M45 37h2M66 37h1M70 37h1M72 37h3M1 38h1M4 38h1M8 38h1M16 38h1M38 38h1M41 38h2M46 38h1M50 38h1M69 38h1M4 39h1M11 39h1M16 39h1M18 39h1M22 39h1M29 39h1M39 39h1M41 39h1M45 39h1M48 39h1M1 40h2M9 40h4M14 40h1M21 40h6M51 40h1M59 40h1M69 40h1M90 40h1M9 41h2M14 41h4M25 41h3M34 41h1M57 41h1M62 41h1M70 41h1M4 42h1M8 42h1M12 42h1M23 42h2M26 42h3M34 42h1M40 42h2M59 42h1M62 42h1M70 42h1M5 43h1M7 43h1M9 43h1M14 43h1M18 43h2M21 43h4M26 43h1M28 43h2M35 43h1M44 43h1M52 43h1M57 43h3M70 43h1M2 44h1M7 44h1M11 44h1M15 44h1M17 44h1M19 44h1M21 44h1M23 44h3M28 44h2M50 44h1M69 44h3M2 45h3M8 45h1M16 45h1M24 45h1M28 45h1M44 45h1M0 46h1M9 46h1M11 46h1M15 46h3M20 46h3M24 46h2M27 46h1M6 47h1M14 47h2M18 47h1M23 47h2M26 47h2M68 47h1M7 48h1M11 48h1M13 48h2M16 48h2M20 48h4M25 48h1M39 48h1M55 48h1M68 48h1M7 49h1M11 49h1M13 49h1M24 49h1M38 49h2M45 49h1M56 49h1M60 49h1M69 49h1M4 50h1M8 50h1M12 50h1M16 50h1M24 50h2M28 50h1M39 50h1M44 50h1M55 50h2M74 50h2"/><path stroke="#0ea8c0" d="M2 0h2M5 0h2M29 0h1M39 0h3M60 0h1M62 0h1M64 0h4M80 0h1M83 0h1M27 1h2M32 1h1M37 1h2M51 1h2M56 1h1M64 1h3M70 1h2M90 1h1M17 2h1M32 2h1M37 2h3M43 2h1M47 2h2M50 2h1M53 2h1M57 2h2M61 2h1M63 2h1M68 2h3M81 2h1M20 3h1M34 3h2M37 3h1M39 3h1M44 3h1M46 3h1M48 3h1M54 3h5M66 3h1M69 3h1M83 3h2M20 4h1M34 4h1M55 4h1M58 4h1M76 4h3M80 4h3M85 4h1M33 5h2M36 5h2M48 5h1M55 5h1M59 5h1M61 5h1M64 5h2M67 5h1M76 5h1M78 5h1M34 6h1M51 6h1M54 6h1M57 6h2M62 6h1M64 6h2M67 6h1M70 6h3M78 6h2M34 7h1M66 7h1M68 7h2M71 7h1M76 7h2M45 8h1M67 8h1M40 10h1M40 11h1M42 11h1M33 12h2M38 12h1M42 12h1M34 13h1M36 13h1M42 13h1M87 14h1M0 15h1M35 15h1M43 15h1M53 15h2M59 15h1M67 15h1M0 16h1M30 16h1M43 16h1M53 16h2M68 16h1M80 16h2M83 16h1M88 16h2M28 17h1M30 17h1M84 17h1M88 17h1M29 18h3M43 18h1M62 18h1M73 18h2M86 18h1M89 18h1M8 19h1M10 19h1M20 19h1M22 19h2M26 19h1M31 19h2M35 19h2M39 19h2M42 19h2M89 19h1M3 20h2M7 20h4M12 20h3M18 20h1M33 20h1M63 20h1M88 20h1M7 21h2M14 21h2M20 21h1M70 21h1M82 21h1M88 21h1M6 22h1M8 22h2M11 22h3M15 22h3M10 23h1M12 23h1M14 23h1M16 23h1M18 23h1M20 23h1M36 23h1M75 23h1M85 23h2M89 23h1M2 24h1M10 24h1M19 24h1M71 24h1M73 24h1M75 24h2M85 24h3M89 24h2M2 25h2M30 25h1M74 25h2M83 25h1M89 25h1M0 26h2M5 26h2M9 26h1M12 26h1M25 26h1M29 26h1M46 26h1M52 26h1M54 26h1M57 26h1M64 26h1M68 26h3M81 26h2M85 26h1M90 26h1M1 27h1M3 27h3M7 27h1M26 27h1M29 27h1M53 27h1M67 27h1M70 27h1M81 27h1M83 27h1M85 27h1M90 27h1M0 28h2M3 28h1M5 28h2M25 28h1M29 28h2M47 28h1M62 28h1M69 28h1M90 28h1M2 29h1M64 29h1M2 30h1M13 30h1M54 30h1M65 30h1M68 30h1M85 30h2M88 30h1M11 31h1M34 31h1M36 31h1M59 31h1M65 31h1M68 31h1M76 31h1M79 31h1M89 31h2M31 32h2M34 32h1M44 32h1M60 32h1M65 32h2M75 32h1M82 32h1M14 33h1M34 33h2M42 33h1M46 33h1M48 33h1M64 33h1M75 33h1M80 33h2M6 34h1M9 34h1M19 34h2M33 34h1M37 34h1M40 34h2M50 34h1M69 34h1M77 34h1M5 35h2M12 35h2M39 35h3M43 35h4M50 35h1M70 35h2M78 35h2M0 36h1M3 36h1M6 36h1M12 36h1M14 36h1M17 36h1M19 36h1M40 36h2M43 36h1M46 36h1M49 36h1M68 36h1M72 36h2M79 36h1M1 37h1M13 37h5M28 37h1M38 37h2M41 37h4M48 37h3M65 37h1M68 37h1M0 38h1M3 38h1M5 38h1M12 38h4M27 38h3M43 38h3M47 38h2M51 38h1M54 38h1M66 38h2M0 39h3M5 39h1M8 39h1M12 39h1M14 39h2M20 39h1M24 39h2M30 39h1M34 39h1M37 39h2M40 39h1M43 39h2M51 39h1M59 39h1M61 39h2M68 39h1M3 40h3M8 40h1M13 40h1M15 40h1M17 40h4M28 40h1M30 40h1M32 40h1M39 40h4M44 40h1M49 40h1M61 40h2M1 41h1M5 41h1M7 41h1M11 41h2M22 41h1M28 41h1M33 41h1M39 41h2M51 41h1M53 41h1M63 41h2M68 41h2M0 42h3M5 42h1M7 42h1M10 42h2M13 42h1M18 42h1M20 42h1M25 42h1M29 42h1M33 42h1M35 42h1M42 42h1M45 42h1M48 42h1M50 42h1M52 42h1M56 42h2M61 42h1M1 43h2M6 43h1M12 43h2M20 43h1M25 43h1M45 43h1M49 43h2M56 43h1M62 43h1M69 43h1M8 44h1M18 44h1M34 44h1M42 44h1M44 44h2M55 44h4M68 44h1M1 45h1M10 45h2M15 45h1M17 45h1M29 45h1M43 45h1M69 45h1M1 46h1M4 46h1M10 46h1M14 46h1M19 46h1M23 46h1M41 46h1M44 46h1M57 46h1M59 46h1M62 46h1M1 47h4M13 47h1M16 47h2M19 47h2M22 47h1M25 47h1M39 47h2M54 47h1M60 47h1M65 47h1M4 48h1M12 48h1M26 48h1M45 48h1M53 48h1M57 48h2M67 48h1M5 49h2M9 49h1M27 49h1M37 49h1M49 49h1M61 49h1M0 50h1M2 50h2M6 50h1M9 50h2M26 50h1M61 50h2M70 50h1"/><path stroke="#20b0ac" d="M27 0h2M33 0h1M59 0h1M69 0h1M71 0h1M75 0h1M77 0h2M89 0h2M19 1h1M33 1h1M58 1h1M68 1h1M77 1h1M18 2h1M33 2h2M36 2h1M42 2h1M65 2h1M67 2h1M79 2h1M85 2h1M42 3h1M68 3h1M73 3h1M79 3h1M85 3h2M88 3h1M43 4h1M46 4h1M65 4h1M67 4h1M70 4h1M38 5h1M45 5h1M47 5h1M56 5h2M69 5h2M42 6h1M49 6h2M52 6h1M55 6h1M59 6h2M68 6h2M35 7h2M43 7h2M54 7h1M61 7h2M64 7h1M34 8h1M40 8h1M43 8h2M46 8h1M62 8h3M39 9h1M59 9h1M66 9h1M33 10h1M36 10h1M38 10h2M47 10h1M62 10h1M66 10h1M35 11h1M43 11h2M48 11h1M66 11h1M35 12h1M49 12h1M61 12h2M67 12h1M44 13h1M56 13h2M62 13h1M48 14h1M51 14h2M55 14h1M57 14h1M60 14h1M44 15h1M46 15h1M51 15h1M49 16h1M58 16h1M49 17h1M58 17h1M68 17h2M53 18h1M63 18h1M70 18h1M80 18h3M29 19h1M37 19h1M62 19h2M82 19h1M85 19h3M17 20h1M23 20h3M34 20h3M40 20h1M54 20h2M67 20h1M69 20h1M33 21h2M49 21h1M62 21h3M67 21h1M69 21h1M83 21h1M21 22h1M62 22h1M65 22h1M68 22h1M83 22h1M21 23h2M47 23h1M59 23h1M64 23h1M83 23h1M87 23h2M21 24h1M27 24h2M36 24h1M42 24h1M44 24h1M46 24h1M58 24h2M62 24h1M69 24h2M72 24h1M79 24h1M81 24h1M13 25h1M18 25h2M25 25h2M31 25h2M34 25h1M42 25h1M64 25h1M67 25h1M76 25h2M79 25h2M88 25h1M90 25h1M3 26h1M14 26h2M17 26h1M24 26h1M30 26h2M43 26h3M51 26h1M56 26h1M58 26h1M60 26h1M63 26h1M65 26h1M71 26h1M75 26h1M78 26h1M87 26h1M14 27h1M22 27h1M33 27h1M46 27h3M51 27h1M54 27h1M61 27h1M63 27h1M65 27h1M74 27h1M78 27h3M87 27h1M14 28h1M31 28h1M33 28h1M46 28h1M50 28h2M53 28h2M56 28h2M71 28h1M76 28h1M79 28h1M84 28h4M27 29h1M29 29h1M38 29h2M48 29h1M51 29h2M54 29h1M57 29h1M59 29h1M67 29h1M74 29h1M78 29h2M88 29h3M14 30h2M37 30h3M42 30h1M56 30h1M67 30h1M69 30h1M76 30h2M79 30h2M84 30h1M89 30h2M12 31h1M27 31h1M31 31h1M38 31h1M42 31h2M53 31h1M56 31h2M69 31h1M73 31h1M77 31h2M80 31h1M83 31h1M13 32h2M20 32h1M29 32h2M36 32h1M38 32h2M41 32h1M45 32h1M53 32h1M57 32h1M61 32h2M73 32h2M10 33h2M13 33h1M31 33h1M38 33h1M41 33h1M50 33h2M58 33h1M60 33h1M62 33h2M65 33h1M67 33h4M72 33h2M78 33h1M10 34h2M13 34h1M18 34h1M22 34h1M29 34h2M35 34h2M47 34h1M63 34h1M66 34h2M71 34h2M75 34h1M78 34h2M0 35h1M3 35h1M17 35h1M20 35h3M29 35h4M36 35h1M48 35h1M51 35h1M61 35h1M63 35h2M73 35h1M16 36h1M22 36h1M24 36h1M30 36h1M33 36h1M36 36h1M61 36h1M66 36h2M23 37h2M26 37h1M29 37h1M31 37h2M34 37h1M36 37h1M51 37h1M53 37h1M55 37h1M67 37h1M31 38h3M35 38h2M52 38h2M56 38h1M63 38h2M6 39h1M28 39h1M47 39h1M52 39h1M55 39h2M29 40h1M35 40h2M38 40h1M57 40h1M64 40h1M67 40h1M0 41h1M35 41h1M37 41h2M41 41h1M44 41h1M55 41h1M67 41h1M37 42h1M46 42h1M49 42h1M53 42h1M55 42h1M0 43h1M31 43h2M37 43h1M39 43h1M46 43h3M53 43h1M55 43h1M63 43h1M67 43h1M0 44h1M35 44h2M38 44h1M47 44h2M51 44h2M54 44h1M60 44h4M65 44h1M67 44h1M12 45h1M14 45h1M30 45h4M46 45h1M51 45h1M54 45h1M57 45h1M68 45h1M12 46h1M31 46h1M34 46h3M39 46h1M42 46h2M45 46h1M49 46h1M52 46h1M58 46h1M60 46h2M63 46h4M68 46h1M0 47h1M28 47h1M33 47h3M41 47h3M46 47h1M51 47h1M55 47h1M58 47h1M63 47h2M0 48h1M3 48h1M28 48h1M33 48h1M37 48h1M41 48h2M44 48h1M46 48h1M52 48h1M61 48h3M33 49h3M51 49h1M59 49h1M62 49h1M64 49h3M31 50h1M34 50h2M49 50h1M52 50h1M58 50h2M67 50h1"/><path stroke="#34b4a2" d="M35 0h1M58 0h1M68 0h1M79 0h1M85 0h2M88 0h1M34 1h1M59 1h1M73 1h1M76 1h1M78 1h1M80 1h1M85 1h2M88 1h1M35 2h1M72 2h2M86 2h1M43 3h1M72 3h1M76 3h1M87 3h1M39 4h2M71 4h2M39 5h1M42 5h1M68 5h1M72 5h3M38 6h1M44 6h2M53 6h1M75 6h1M38 7h2M45 7h1M49 7h2M56 7h1M37 8h1M41 8h1M55 8h1M59 8h2M65 8h1M34 9h2M41 9h1M46 9h1M57 9h2M60 9h1M63 9h1M34 10h2M37 10h1M42 10h2M55 10h1M63 10h1M36 11h1M47 11h1M50 11h1M43 12h1M47 12h1M50 12h1M45 13h1M47 13h1M60 13h2M63 13h1M67 13h1M46 14h2M58 14h2M62 14h1M67 14h1M47 15h3M60 15h1M51 16h2M55 16h1M50 17h1M55 17h1M82 17h1M52 18h1M54 18h1M66 18h1M69 18h1M83 18h1M53 19h1M83 19h1M22 20h1M26 20h1M30 20h1M37 20h1M39 20h1M64 20h1M66 20h1M68 20h1M83 20h1M87 20h1M23 21h2M31 21h2M37 21h1M41 21h1M43 21h1M48 21h1M68 21h1M84 21h1M22 22h1M32 22h1M35 22h2M44 22h1M47 22h1M57 22h1M59 22h1M64 22h1M66 22h2M86 22h1M30 23h2M37 23h1M45 23h1M48 23h1M57 23h2M65 23h1M69 23h1M81 23h2M20 24h1M30 24h4M61 24h1M64 24h2M14 25h1M21 25h1M45 25h1M50 25h2M54 25h1M56 25h2M59 25h2M63 25h1M68 25h1M70 25h2M73 25h1M13 26h1M18 26h1M32 26h4M50 26h1M62 26h1M66 26h2M73 26h1M76 26h1M79 26h1M15 27h2M43 27h2M50 27h1M58 27h1M62 27h1M66 27h1M72 27h1M75 27h3M86 27h1M15 28h2M37 28h1M43 28h2M48 28h1M55 28h1M60 28h1M66 28h2M77 28h1M80 28h1M30 29h1M37 29h1M55 29h1M58 29h1M70 29h1M75 29h2M81 29h1M27 30h1M29 30h2M34 30h1M36 30h1M43 30h1M45 30h6M52 30h2M70 30h1M13 31h1M25 31h1M28 31h3M41 31h1M46 31h1M54 31h2M72 31h1M82 31h1M12 32h1M16 32h1M40 32h1M55 32h1M59 32h1M63 32h1M70 32h1M79 32h1M12 33h1M15 33h1M20 33h1M24 33h1M28 33h3M52 33h2M59 33h1M71 33h1M1 34h3M12 34h1M16 34h1M52 34h2M61 34h2M65 34h1M1 35h2M16 35h1M18 35h1M27 35h2M47 35h1M52 35h1M57 35h1M20 36h2M23 36h1M26 36h3M35 36h1M55 36h1M57 36h2M62 36h4M27 37h1M33 37h1M37 37h1M54 37h1M61 37h1M26 38h1M34 38h1M60 38h1M58 39h1M37 40h1M65 40h2M32 41h1M36 41h1M46 41h1M66 41h1M32 42h1M36 42h1M38 42h1M47 42h1M54 42h1M65 42h3M30 43h1M65 43h1M32 44h1M46 44h1M53 44h1M37 45h1M47 45h4M52 45h1M56 45h1M58 45h1M60 45h1M62 45h1M30 46h1M46 46h1M50 46h1M29 47h2M36 47h2M29 48h1M31 48h1M34 48h1M43 48h1M60 48h1M65 48h1M0 49h1M29 49h3M41 49h2M52 49h1M63 49h1M51 50h1M64 50h1"/><path stroke="#48b898" d="M73 0h2M72 1h1M75 1h1M79 1h1M74 2h3M41 3h1M42 4h1M73 4h1M40 5h2M43 5h1M46 5h1M75 5h1M41 6h1M43 6h1M46 6h1M37 7h1M40 7h1M42 7h1M51 7h1M53 7h1M38 8h1M56 8h2M36 9h1M43 9h1M62 9h1M44 10h2M59 10h2M64 10h2M37 11h1M45 11h1M55 11h2M62 11h1M44 12h2M56 12h1M63 12h1M46 13h1M51 13h1M54 13h2M58 13h1M45 14h1M56 14h1M63 14h1M45 15h1M50 15h1M52 15h1M63 15h1M50 16h1M57 16h1M60 16h1M63 17h3M51 18h1M67 18h1M55 19h1M68 19h1M84 19h1M28 20h2M38 20h1M52 20h1M84 20h2M25 21h2M30 21h1M53 21h2M57 21h1M59 21h1M85 21h1M23 22h1M31 22h1M33 22h2M37 22h1M40 22h1M43 22h1M51 22h1M55 22h1M58 22h1M61 22h1M63 22h1M25 23h1M27 23h2M32 23h1M43 23h1M49 23h1M60 23h1M63 23h1M66 23h3M26 24h1M29 24h1M34 24h2M37 24h1M40 24h1M43 24h1M47 24h5M60 24h1M22 25h2M35 25h2M39 25h1M41 25h1M47 25h1M53 25h1M55 25h1M19 26h1M22 26h1M42 26h1M49 26h1M61 26h1M77 26h1M17 27h1M31 27h1M35 27h1M73 27h1M17 28h1M22 28h1M34 28h1M38 28h2M42 28h1M49 28h1M58 28h1M72 28h2M14 29h3M25 29h2M34 29h1M41 29h1M43 29h1M49 29h2M53 29h1M73 29h1M77 29h1M18 30h1M20 30h1M32 30h2M35 30h1M40 30h2M44 30h1M72 30h1M81 30h1M14 31h4M40 31h1M47 31h1M51 31h2M70 31h1M15 32h1M26 32h1M28 32h1M49 32h1M56 32h1M71 32h2M2 33h1M23 33h1M25 33h1M66 33h1M79 33h1M24 34h1M27 34h2M59 34h2M64 34h1M26 35h1M53 35h2M58 35h3M62 35h1M65 35h2M37 36h1M52 36h1M54 36h1M56 36h1M60 36h1M21 37h1M52 37h1M60 37h1M62 37h1M57 38h3M57 39h1M24 41h1M38 43h1M66 43h1M31 44h1M36 45h1M53 45h1M59 45h1M61 45h1M47 46h2M55 46h1M50 47h1M30 48h1M36 48h1M50 48h1M59 48h1M50 49h1M40 50h3"/><path stroke="#62ba8a" d="M72 0h1M87 0h1M74 1h1M87 1h1M87 2h1M26 3h1M74 4h2M47 6h2M46 7h1M52 7h1M35 8h1M47 8h4M54 8h1M47 9h2M50 9h1M53 9h2M61 9h1M65 9h1M51 10h1M53 10h2M56 10h2M61 10h1M51 11h1M60 11h1M63 11h1M46 12h1M48 12h1M51 12h1M55 12h1M57 12h2M52 13h2M59 13h1M61 14h1M66 14h1M62 15h1M66 15h1M59 16h1M62 16h1M65 16h1M56 17h1M62 17h1M50 18h1M55 18h1M58 18h1M11 19h1M49 19h1M52 19h1M57 19h1M64 19h2M67 19h1M27 20h1M53 20h1M60 20h2M86 20h1M27 21h1M38 21h3M51 21h1M56 21h1M86 21h1M26 22h1M29 22h2M41 22h1M48 22h1M53 22h1M56 22h1M60 22h1M29 23h1M33 23h2M41 23h2M50 23h2M56 23h1M22 24h2M25 24h1M39 24h1M53 24h1M63 24h1M66 24h2M24 25h1M37 25h1M49 25h1M61 25h1M66 25h1M20 26h2M36 26h2M39 26h1M48 26h1M59 26h1M18 27h2M21 27h1M32 27h1M34 27h1M38 27h1M42 27h1M49 27h1M60 27h1M21 28h1M59 28h1M17 29h1M21 29h1M31 29h2M42 29h1M71 29h2M82 29h2M16 30h1M26 30h1M31 30h1M51 30h1M82 30h1M19 31h2M22 31h1M26 31h1M50 31h1M71 31h1M18 32h2M22 32h2M25 32h1M51 32h2M54 32h1M16 33h1M18 33h1M27 33h1M55 33h1M57 33h1M17 34h1M23 34h1M25 34h1M56 34h3M24 35h2M55 35h2M53 36h1M59 36h1M59 37h1"/><path stroke="#7cbd7c" d="M54 2h1M74 3h2M41 4h1M39 6h2M41 7h1M51 8h2M49 9h1M51 9h2M56 9h1M52 10h1M58 10h1M54 11h1M57 11h2M61 11h1M64 11h2M52 12h2M3 16h1M63 16h1M59 17h1M56 18h2M59 18h1M61 18h1M51 19h1M56 19h1M59 19h1M61 19h1M31 20h1M49 20h1M59 20h1M65 20h1M28 21h1M36 21h1M50 21h1M52 21h1M55 21h1M58 21h1M60 21h2M27 22h1M38 22h2M42 22h1M49 22h1M52 22h1M23 23h2M26 23h1M39 23h2M53 23h2M61 23h1M24 24h1M38 24h1M41 24h1M52 24h1M54 24h1M40 25h1M48 25h1M62 25h1M7 26h1M38 26h1M40 26h1M20 27h1M37 27h1M39 27h1M59 27h1M18 28h1M32 28h1M36 28h1M40 28h2M23 29h1M33 29h1M36 29h1M40 29h1M17 30h1M22 30h2M71 30h1M83 30h1M23 31h1M17 32h1M24 32h1M27 32h1M50 32h1M17 33h1M54 33h1M56 33h1M26 34h1M39 34h1M55 34h1M23 35h1M37 46h1"/><path stroke="#9cb86c" d="M44 2h1M53 8h1M55 9h1M59 12h1M66 12h1M64 13h1M49 14h1M64 14h1M64 16h1M61 17h1M50 19h1M58 19h1M60 19h1M66 19h1M50 20h2M57 20h2M29 21h1M44 21h1M24 22h2M28 22h1M50 22h1M54 22h1M55 23h1M62 23h1M55 24h1M38 25h1M40 27h1M19 28h1M74 28h1M83 28h1M18 29h1M35 29h1M19 30h1M21 30h1M24 30h1M18 31h1M24 31h1M69 32h1M26 33h1M39 33h1M54 34h1"/><path stroke="#bcb45c" d="M89 2h1M48 7h1M42 8h1M69 8h1M60 12h1M64 12h2M49 13h1M66 13h1M65 14h1M58 15h1M60 18h1M32 20h1M22 21h1M35 21h1M66 21h1M38 23h1M44 23h1M52 23h1M36 27h1M52 27h1M20 28h1M35 28h1M19 29h1M11 30h1M44 31h1M49 31h1M47 33h1M57 37h1"/><path stroke="#d6b64c" d="M50 1h1M88 2h1M74 7h1M36 8h1M59 11h1M65 13h1M64 15h1M38 17h1M60 17h1M5 18h1M56 20h1M82 25h1M41 26h1M41 27h1M81 28h1M80 29h1M21 31h1M21 32h1M18 45h1"/><path stroke="#f0b83c" d="M47 7h1M56 15h1M49 18h1M69 19h1M78 19h1M56 27h1M20 29h1M25 30h1M22 33h1M58 37h1"/><path stroke="#f4c032" d="M40 9h1M50 10h1M50 14h1M65 15h1M66 16h1M51 17h1M62 20h1M23 26h1M23 28h1M24 29h1M48 31h1"/><path stroke="#f8c828" d="M39 8h1M48 10h2M48 13h1M52 17h1M67 17h1M70 20h1M45 24h1M53 26h1M39 31h1M45 31h1"/><path stroke="#f7d423" d="M42 9h1M57 17h1M70 17h1M65 18h1M68 18h1M82 24h1M23 27h1M22 29h1"/><path stroke="#f6e01e" d="M64 18h1"/><path stroke="#f7ec17" d="M46 11h1M41 15h1"/><path stroke="#f8f810" d="M33 25h1"/></g></g></g>
<use href="#gr"/><g clip-path="url(#cp)"><use href="#fl"/></g>
<polygon points="441,329 444.9,341 457.5,341 447.3,348.3 451.2,360.3 441,352.9 430.8,360.3 434.7,348.3 424.5,341 437.1,341" fill="#ff0000"/>
<use href="#fr"/><use href="#lb"/>
<text class="p" x="41.7" y="-30.1">(e)</text>
<text class="h" style="font-size:50.9px" x="407.1" y="-30.4" text-anchor="middle">14−16 March 2021</text>
</g>
<g transform="translate(1230.7,1587.1) scale(1,1.0016)">
<g clip-path="url(#cp)"><g transform="translate(-4.13,-5.08) scale(8.2656,10.1500)" shape-rendering="crispEdges" fill="none"><rect width="91" height="51" fill="#17acb6"/><g transform="translate(0,.5)"><path stroke="#352a87" d="M8 4h1M6 5h4M7 6h3M6 7h3M3 42h1"/><path stroke="#363096" d="M7 4h1M9 7h1M18 11h1M22 11h1"/><path stroke="#3637a4" d="M6 6h1"/><path stroke="#3240b2" d="M21 11h1"/><path stroke="#2652cc" d="M20 11h1"/><path stroke="#1c5ad8" d="M5 7h1M21 10h1"/><path stroke="#1261dc" d="M5 6h1M7 8h1M28 18h1M76 22h1M2 42h1"/><path stroke="#0868e0" d="M6 4h1M18 10h1M24 10h1M19 11h1M5 41h1"/><path stroke="#0a6ede" d="M23 2h1M75 24h1M6 40h1M3 43h1"/><path stroke="#0d74dc" d="M12 9h1M46 9h1M22 12h1M55 13h1M46 17h1M75 23h1M4 42h1M4 43h1"/><path stroke="#107ada" d="M22 2h1M45 17h1M45 18h2M9 38h1M3 41h2M5 42h1"/><path stroke="#1480d8" d="M19 10h1M46 16h1M47 17h1M47 18h1M45 19h1M8 37h1M4 40h1M9 40h1M1 43h2M5 43h1"/><path stroke="#1486d6" d="M3 4h1M18 9h1M15 10h2M16 11h1M45 16h1M43 18h1M46 19h1M80 21h1M8 36h1M10 37h1M5 38h1M8 38h1M3 39h1M5 39h1M8 39h2M5 40h1M2 41h1M6 41h5M1 42h1M6 42h1M9 42h1M6 43h1M2 44h2M83 47h3"/><path stroke="#138cd4" d="M6 2h2M6 3h1M1 4h2M10 4h1M3 5h2M10 5h1M10 6h1M10 7h1M8 8h2M18 8h1M17 9h1M19 9h1M20 10h1M15 11h1M17 11h1M77 12h2M77 13h1M47 16h1M44 17h1M44 18h1M47 19h1M79 22h1M5 36h3M9 36h1M5 37h3M9 37h1M2 38h1M7 38h1M10 38h1M2 39h1M4 39h1M7 39h1M10 39h1M2 40h2M7 40h2M1 41h1M7 42h2M7 43h1M1 44h1M4 44h1M84 45h1M83 46h3M83 48h1M85 48h1"/><path stroke="#1292d2" d="M14 0h1M5 1h3M5 2h1M1 3h4M7 3h3M4 4h2M9 4h1M11 4h1M1 5h2M5 5h1M4 6h1M1 7h1M5 8h2M10 8h1M17 8h1M6 9h1M8 9h1M16 9h1M13 10h1M22 10h1M53 12h2M70 12h3M79 12h1M76 13h1M78 13h2M46 14h1M77 14h3M45 15h3M87 15h2M87 16h1M43 17h1M41 18h2M42 19h1M46 20h1M75 21h1M78 21h2M81 21h1M78 22h1M80 22h1M79 23h1M9 26h1M10 36h1M4 37h1M3 38h2M6 38h1M1 39h1M6 39h1M10 40h1M8 43h1M5 44h1M85 44h1M1 45h1M83 45h1M85 45h1M0 46h1M86 46h1M82 47h1M86 47h1M84 48h1"/><path stroke="#1098d0" d="M13 0h1M4 1h1M8 1h1M13 1h1M47 1h1M2 2h3M8 2h1M5 3h1M10 3h1M11 5h1M1 6h3M11 6h1M2 7h1M4 7h1M11 7h1M17 7h2M1 8h1M4 8h1M16 8h1M19 8h1M7 9h1M9 9h1M11 9h1M13 9h2M20 9h1M11 10h1M14 10h1M80 10h1M11 11h1M13 11h1M23 11h1M54 11h1M71 11h1M77 11h1M52 12h1M55 12h1M69 12h1M74 12h3M46 13h1M53 13h2M69 13h4M74 13h2M45 14h1M47 14h1M71 14h1M75 14h2M87 14h2M76 15h3M89 15h1M4 16h1M44 16h1M88 16h1M27 17h2M41 17h2M29 18h1M41 19h1M43 19h2M45 20h1M75 20h1M79 20h2M76 21h2M75 22h1M77 22h1M81 22h1M80 23h1M40 24h1M9 25h1M41 25h1M8 26h1M2 27h2M9 27h2M8 28h1M86 33h1M86 34h2M7 35h2M10 35h1M1 37h3M11 37h1M74 37h1M1 38h1M55 38h1M74 38h2M1 40h1M11 41h1M84 41h1M10 42h1M84 42h1M9 43h1M84 43h2M6 44h3M84 44h1M86 45h1M82 46h1M88 47h1M82 48h1M86 48h2M87 50h1"/><path stroke="#0c9cce" d="M2 0h1M5 0h3M47 0h1M84 0h1M3 1h1M14 1h1M46 1h1M48 1h1M9 2h1M13 2h2M47 2h2M0 3h1M11 3h2M0 4h1M12 4h1M48 4h1M61 4h1M0 5h1M12 5h1M24 6h1M48 6h1M0 7h1M3 7h1M0 8h1M2 8h2M11 8h1M1 9h2M5 9h1M10 9h1M15 9h1M21 9h1M0 10h1M3 10h1M6 10h1M10 10h1M12 10h1M0 11h1M3 11h1M12 11h1M14 11h1M24 11h1M53 11h1M55 11h1M69 11h2M72 11h1M76 11h1M78 11h3M3 12h1M12 12h3M18 12h2M56 12h1M73 12h1M80 12h1M45 13h1M52 13h1M63 13h1M73 13h1M80 13h1M44 14h1M62 14h1M69 14h2M72 14h3M80 14h1M44 15h1M69 15h2M75 15h1M79 15h1M5 16h1M43 16h1M89 16h1M3 17h2M29 17h1M48 17h1M2 18h3M6 18h1M27 18h1M40 18h1M48 18h1M1 19h1M3 19h1M40 19h1M39 20h2M47 20h1M74 20h1M76 20h3M74 21h1M84 21h1M74 22h1M39 23h2M76 23h3M9 24h2M39 24h1M41 24h1M8 25h1M10 25h1M29 25h1M2 26h2M10 26h1M1 27h1M5 27h1M7 27h2M11 27h2M48 27h1M7 28h1M9 28h4M6 29h2M9 29h3M60 29h1M90 29h1M85 33h1M87 33h1M7 34h1M9 34h1M85 34h1M2 35h1M4 35h3M9 35h1M85 35h1M0 36h3M4 36h1M11 36h2M75 36h2M89 36h1M0 37h1M73 37h1M77 37h1M90 37h1M0 38h1M11 38h1M76 38h2M0 39h1M84 40h1M0 41h1M78 42h1M85 42h1M0 43h1M10 43h1M47 43h1M83 43h1M0 44h1M9 44h2M12 44h1M86 44h1M0 45h1M2 45h2M11 45h3M82 45h1M87 45h1M1 46h1M73 46h1M80 46h2M87 46h1M72 47h1M74 47h1M78 47h1M87 47h1M89 47h1M74 48h1M81 48h1M88 48h1M82 49h5M88 49h1"/><path stroke="#08a0cc" d="M4 0h1M8 0h1M46 0h1M48 0h1M50 0h1M78 0h2M83 0h1M2 1h1M12 1h1M15 1h1M10 2h3M13 3h1M46 3h1M48 3h1M17 4h1M47 4h1M16 5h1M23 5h2M48 5h2M73 5h1M0 6h1M12 6h1M17 6h2M22 6h1M86 6h1M12 7h1M15 7h2M19 7h1M83 7h2M87 7h1M12 8h1M14 8h2M32 8h1M83 8h2M0 9h1M3 9h2M22 9h1M35 9h1M83 9h3M1 10h2M4 10h2M7 10h3M23 10h1M25 10h1M36 10h1M1 11h2M4 11h3M10 11h1M25 11h1M34 11h1M52 11h1M56 11h1M74 11h2M4 12h1M11 12h1M16 12h2M20 12h2M23 12h3M51 12h1M9 13h1M11 13h1M25 13h1M47 13h1M56 13h1M87 13h2M43 14h1M52 14h3M61 14h1M63 14h1M89 14h1M3 15h1M5 15h2M8 15h2M71 15h4M86 15h1M3 16h1M7 16h4M13 16h1M28 16h2M48 16h1M77 16h2M86 16h1M90 16h1M2 17h1M5 17h1M9 17h1M20 17h1M26 17h1M30 17h1M40 17h1M87 17h1M0 18h1M5 18h1M7 18h1M20 18h2M30 18h1M38 18h2M4 19h1M9 19h1M20 19h1M28 19h3M48 19h1M1 20h1M10 20h1M38 20h1M41 20h3M73 20h1M81 20h1M85 20h1M45 21h2M82 21h1M39 22h1M10 23h2M41 23h1M81 23h1M0 24h1M2 24h1M42 24h1M0 25h3M5 25h3M11 25h1M31 25h1M40 25h1M90 25h1M1 26h1M4 26h2M11 26h2M32 26h1M40 26h2M4 27h1M6 27h1M13 27h1M40 27h2M60 27h1M2 28h1M4 28h1M6 28h1M13 28h1M41 28h1M49 28h1M76 28h1M89 28h1M0 29h1M3 29h1M5 29h1M8 29h1M12 29h1M40 29h1M48 29h1M75 29h1M5 30h4M34 30h1M35 31h1M35 32h1M86 32h2M6 33h2M88 33h1M5 34h2M8 34h1M10 34h1M84 34h1M90 34h1M1 35h1M3 35h1M11 35h2M72 35h1M77 35h1M83 35h2M86 35h1M88 35h3M13 36h1M22 36h1M70 36h2M74 36h1M77 36h2M82 36h1M87 36h2M72 37h1M75 37h2M80 37h1M88 37h2M20 38h2M73 38h1M81 38h1M86 38h1M11 39h1M76 39h2M83 39h1M0 40h1M11 40h1M19 40h1M70 40h1M83 40h1M71 41h1M77 41h2M81 41h2M85 41h1M0 42h1M11 42h1M16 42h1M72 42h1M77 42h1M82 42h2M86 42h1M41 43h2M77 43h2M86 43h1M13 44h2M27 44h1M41 44h1M48 44h1M77 44h2M83 44h1M6 45h1M8 45h1M10 45h1M17 45h1M19 45h1M25 45h1M77 45h2M80 45h2M2 46h2M11 46h3M24 46h1M71 46h1M74 46h1M76 46h1M78 46h1M88 46h1M90 46h1M24 47h1M45 47h1M75 47h1M79 47h3M90 47h1M72 48h2M75 48h1M77 48h4M89 48h1M87 49h1M30 50h1M71 50h1M86 50h1"/><path stroke="#0ba4c6" d="M1 0h1M3 0h1M12 0h1M15 0h1M49 0h1M52 0h1M60 0h2M77 0h1M82 0h1M85 0h1M1 1h1M9 1h3M16 1h1M49 1h2M0 2h2M46 2h1M49 2h1M14 3h4M22 3h2M47 3h1M49 3h1M64 3h1M13 4h1M16 4h1M22 4h3M46 4h1M49 4h1M13 5h1M15 5h1M17 5h2M21 5h2M46 5h2M86 5h1M15 6h2M19 6h1M23 6h1M46 6h2M80 6h1M83 6h1M85 6h1M87 6h1M13 7h2M21 7h2M24 7h1M46 7h2M78 7h5M85 7h2M13 8h1M20 8h3M33 8h1M36 8h1M79 8h1M82 8h1M85 8h2M23 9h2M32 9h3M80 9h3M86 9h1M33 10h1M55 10h1M69 10h1M71 10h2M77 10h3M81 10h1M85 10h1M7 11h3M26 11h1M68 11h1M81 11h1M0 12h3M5 12h1M10 12h1M15 12h1M26 12h1M46 12h1M68 12h1M81 12h1M4 13h1M12 13h1M26 13h1M44 13h1M51 13h1M64 13h1M81 13h1M89 13h1M1 14h1M4 14h2M10 14h2M13 14h1M26 14h1M29 14h1M55 14h1M84 14h1M86 14h1M90 14h1M0 15h1M4 15h1M7 15h1M10 15h2M43 15h1M48 15h1M54 15h1M80 15h2M90 15h1M2 16h1M6 16h1M11 16h2M27 16h1M79 16h2M6 17h1M8 17h1M10 17h2M13 17h1M21 17h2M38 17h2M49 17h1M78 17h1M81 17h2M86 17h1M88 17h3M8 18h2M22 18h1M31 18h1M36 18h1M49 18h1M80 18h1M0 19h1M5 19h4M25 19h1M27 19h1M31 19h1M39 19h1M73 19h1M77 19h1M80 19h1M90 19h1M2 20h3M8 20h2M30 20h1M44 20h1M90 20h1M3 21h1M15 21h1M39 21h2M47 21h1M73 21h1M85 21h1M3 22h1M9 22h2M12 22h1M38 22h1M40 22h1M46 22h1M9 23h1M24 23h1M49 23h1M59 23h3M1 24h1M6 24h3M11 24h1M24 24h3M29 24h1M43 24h1M50 24h1M80 24h1M83 24h1M3 25h2M25 25h3M30 25h1M32 25h1M42 25h2M50 25h1M6 26h2M24 26h2M27 26h1M31 26h1M33 26h1M47 26h1M49 26h2M52 26h1M74 26h1M14 27h1M24 27h1M33 27h1M61 27h1M75 27h2M0 28h2M3 28h1M5 28h1M40 28h1M42 28h1M47 28h2M60 28h1M75 28h1M90 28h1M1 29h2M4 29h1M13 29h1M30 29h1M32 29h1M39 29h1M41 29h2M59 29h1M61 29h1M89 29h1M0 30h3M4 30h1M11 30h1M29 30h2M33 30h1M35 30h1M88 30h1M90 30h1M29 31h1M7 32h1M9 32h1M17 32h1M39 32h1M88 32h1M8 33h1M10 33h2M17 33h1M89 33h1M0 34h5M11 34h2M16 34h1M71 34h1M77 34h1M82 34h2M88 34h2M0 35h1M70 35h2M73 35h2M76 35h1M78 35h1M81 35h2M87 35h1M3 36h1M14 36h1M20 36h2M72 36h2M83 36h4M90 36h1M12 37h4M19 37h3M38 37h2M54 37h1M70 37h2M78 37h2M85 37h3M19 38h1M22 38h1M72 38h1M78 38h1M80 38h1M82 38h2M90 38h1M20 39h1M56 39h1M72 39h1M74 39h2M78 39h1M81 39h1M84 39h3M71 40h1M77 40h2M85 40h2M19 41h1M27 41h1M79 41h1M83 41h1M86 41h1M89 41h1M17 42h1M71 42h1M75 42h1M79 42h1M81 42h1M11 43h2M19 43h1M40 43h1M71 43h1M75 43h2M79 43h1M11 44h1M15 44h5M25 44h1M28 44h1M40 44h1M42 44h2M47 44h1M55 44h2M73 44h1M76 44h1M79 44h2M82 44h1M87 44h1M4 45h1M7 45h1M9 45h1M14 45h1M26 45h1M48 45h1M73 45h1M75 45h2M79 45h1M88 45h1M90 45h1M4 46h1M14 46h2M20 46h1M23 46h1M25 46h1M28 46h2M45 46h4M50 46h1M75 46h1M77 46h1M79 46h1M89 46h1M3 47h1M5 47h1M22 47h2M25 47h1M48 47h3M73 47h1M76 47h2M6 48h1M21 48h4M29 48h2M76 48h1M90 48h1M5 49h1M7 49h1M23 49h3M30 49h1M72 49h3M81 49h1M4 50h4M9 50h1M24 50h2M29 50h1M65 50h1M72 50h2M81 50h1M83 50h1M85 50h1M88 50h3"/><path stroke="#0ea8c0" d="M9 0h1M16 0h2M19 0h1M45 0h1M51 0h1M65 0h1M72 0h1M21 1h3M51 1h1M59 1h1M62 1h3M72 1h1M82 1h3M15 2h4M21 2h1M45 2h1M50 2h2M64 2h2M18 3h1M21 3h1M50 3h1M90 3h1M14 4h2M18 4h2M21 4h1M42 4h1M44 4h2M50 4h1M60 4h1M72 4h2M14 5h1M20 5h1M40 5h2M50 5h1M71 5h2M84 5h1M13 6h2M21 6h1M49 6h1M72 6h2M79 6h1M81 6h2M84 6h1M88 6h1M20 7h1M23 7h1M33 7h1M40 7h1M48 7h1M23 8h2M34 8h1M45 8h1M80 8h2M87 8h2M36 9h2M77 9h3M87 9h1M26 10h1M34 10h2M56 10h1M70 10h1M75 10h2M82 10h3M32 11h1M35 11h3M51 11h1M6 12h1M8 12h2M27 12h1M43 12h3M47 12h1M88 12h1M0 13h1M3 13h1M5 13h1M8 13h1M10 13h1M30 13h1M43 13h1M61 13h1M68 13h1M82 13h1M84 13h1M86 13h1M2 14h2M6 14h2M12 14h1M27 14h2M42 14h1M48 14h1M64 14h1M68 14h1M81 14h1M83 14h1M85 14h1M1 15h2M12 15h2M26 15h4M42 15h1M53 15h1M57 15h1M60 15h4M85 15h1M0 16h1M20 16h1M22 16h1M26 16h1M30 16h2M39 16h1M41 16h2M70 16h1M72 16h1M75 16h2M81 16h1M84 16h2M0 17h2M7 17h1M12 17h1M19 17h1M24 17h1M31 17h1M35 17h1M37 17h1M50 17h1M60 17h1M77 17h1M10 18h1M19 18h1M26 18h1M35 18h1M37 18h1M78 18h1M90 18h1M10 19h1M19 19h1M21 19h1M32 19h1M38 19h1M74 19h1M78 19h2M0 20h1M5 20h1M7 20h1M15 20h1M48 20h1M72 20h1M84 20h1M0 21h3M4 21h2M9 21h1M11 21h2M14 21h1M37 21h2M41 21h2M44 21h1M90 21h1M0 22h3M11 22h1M15 22h1M17 22h1M45 22h1M47 22h1M61 22h1M82 22h1M84 22h1M2 23h1M7 23h2M17 23h1M21 23h3M25 23h3M31 23h1M38 23h1M42 23h1M48 23h1M50 23h1M74 23h1M5 24h1M17 24h2M20 24h1M23 24h1M27 24h1M30 24h1M37 24h2M44 24h1M49 24h1M61 24h1M74 24h1M76 24h4M81 24h1M12 25h1M16 25h2M19 25h1M24 25h1M28 25h1M33 25h1M38 25h2M51 25h1M53 25h1M77 25h1M81 25h1M83 25h2M0 26h1M13 26h3M20 26h2M26 26h1M28 26h1M30 26h1M34 26h1M39 26h1M42 26h1M48 26h1M51 26h1M76 26h1M83 26h1M21 27h3M32 27h1M34 27h1M37 27h1M42 27h1M47 27h1M74 27h1M21 28h1M33 28h2M38 28h1M54 28h1M74 28h1M80 28h1M88 28h1M14 29h1M31 29h1M34 29h2M54 29h3M68 29h1M88 29h1M3 30h1M9 30h2M27 30h2M31 30h1M40 30h1M42 30h1M56 30h1M59 30h1M75 30h1M89 30h1M3 31h1M5 31h1M16 31h2M20 31h1M28 31h1M30 31h2M33 31h2M87 31h4M16 32h1M19 32h1M27 32h1M29 32h1M36 32h1M85 32h1M89 32h2M1 33h1M3 33h3M9 33h1M14 33h1M16 33h1M34 33h1M77 33h1M84 33h1M90 33h1M14 34h2M17 34h1M65 34h1M70 34h1M72 34h2M76 34h1M78 34h2M13 35h4M18 35h1M20 35h1M23 35h1M37 35h1M61 35h1M66 35h1M75 35h1M80 35h1M15 36h2M19 36h1M32 36h1M35 36h5M79 36h3M16 37h1M18 37h1M22 37h2M53 37h1M69 37h1M81 37h4M12 38h4M17 38h2M41 38h1M53 38h1M56 38h2M62 38h1M69 38h3M79 38h1M84 38h2M87 38h3M12 39h1M19 39h1M21 39h2M51 39h5M69 39h3M73 39h1M82 39h1M89 39h2M17 40h2M21 40h1M26 40h2M47 40h1M52 40h1M72 40h3M76 40h1M81 40h1M90 40h1M17 41h2M20 41h3M26 41h1M46 41h1M51 41h1M70 41h1M72 41h3M76 41h1M80 41h1M87 41h1M12 42h2M15 42h1M18 42h2M21 42h1M26 42h2M38 42h2M41 42h1M43 42h1M45 42h1M47 42h2M50 42h2M73 42h2M76 42h1M80 42h1M89 42h2M16 43h3M25 43h3M29 43h1M39 43h1M43 43h2M46 43h1M49 43h3M61 43h2M70 43h1M80 43h1M82 43h1M89 43h1M20 44h1M26 44h1M62 44h1M71 44h2M75 44h1M81 44h1M88 44h2M5 45h1M15 45h2M18 45h1M21 45h1M24 45h1M27 45h3M46 45h2M49 45h1M54 45h1M61 45h1M70 45h3M74 45h1M89 45h1M5 46h1M8 46h1M10 46h1M16 46h1M18 46h2M22 46h1M42 46h1M49 46h1M54 46h1M61 46h1M70 46h1M72 46h1M0 47h3M4 47h1M10 47h4M19 47h3M28 47h2M43 47h2M46 47h2M70 47h2M3 48h3M10 48h2M18 48h2M25 48h1M27 48h1M44 48h2M47 48h5M65 48h1M71 48h1M4 49h1M26 49h1M28 49h2M57 49h1M64 49h2M71 49h1M75 49h1M77 49h4M89 49h1M8 50h1M10 50h1M16 50h1M23 50h1M28 50h1M39 50h1M54 50h3M69 50h1M82 50h1M84 50h1"/><path stroke="#20b0ac" d="M0 0h1M23 0h2M27 0h2M31 0h4M36 0h1M40 0h1M44 0h1M53 0h2M58 0h1M70 0h1M86 0h1M88 0h2M0 1h1M26 1h2M30 1h1M32 1h1M36 1h5M45 1h1M61 1h1M76 1h1M79 1h1M85 1h2M88 1h3M25 2h1M29 2h1M31 2h1M35 2h1M38 2h1M41 2h1M44 2h1M52 2h1M59 2h2M62 2h2M78 2h2M83 2h5M90 2h1M20 3h1M24 3h3M31 3h2M43 3h1M59 3h1M63 3h1M65 3h1M72 3h4M77 3h2M84 3h1M86 3h1M25 4h2M37 4h2M58 4h2M63 4h1M74 4h2M77 4h3M84 4h1M86 4h2M90 4h1M30 5h1M32 5h1M39 5h1M43 5h1M51 5h1M53 5h1M55 5h1M63 5h1M78 5h1M80 5h1M82 5h1M88 5h2M32 6h1M44 6h1M50 6h1M52 6h2M55 6h1M59 6h1M74 6h1M89 6h1M31 7h1M34 7h2M38 7h2M41 7h1M43 7h3M55 7h1M77 7h1M89 7h1M25 8h2M38 8h2M46 8h1M51 8h1M56 8h1M58 8h1M77 8h1M89 8h1M29 9h3M49 9h1M55 9h1M57 9h1M63 9h2M66 9h1M69 9h1M88 9h1M31 10h1M50 10h3M59 10h1M61 10h1M74 10h1M88 10h1M90 10h1M29 11h1M42 11h2M45 11h2M50 11h1M58 11h3M66 11h1M82 11h1M85 11h1M89 11h1M31 12h2M48 12h3M61 12h1M83 12h1M86 12h1M90 12h1M14 13h2M18 13h4M42 13h1M49 13h1M57 13h1M66 13h1M14 14h1M24 14h1M31 14h2M57 14h1M23 15h1M31 15h2M56 15h1M64 15h1M68 15h1M82 15h2M14 16h1M18 16h1M21 16h1M23 16h3M32 16h1M34 16h1M53 16h1M55 16h1M58 16h1M62 16h1M83 16h1M15 17h1M17 17h1M23 17h1M25 17h1M36 17h1M54 17h1M56 17h1M58 17h1M61 17h1M63 17h1M72 17h1M84 17h2M15 18h1M23 18h1M32 18h3M58 18h1M61 18h2M71 18h1M79 18h1M85 18h2M12 19h1M16 19h3M23 19h2M34 19h1M58 19h1M72 19h1M84 19h1M86 19h1M16 20h1M20 20h1M25 20h1M32 20h1M50 20h1M58 20h2M83 20h1M86 20h1M89 20h1M6 21h1M20 21h1M26 21h2M34 21h1M48 21h1M66 21h1M14 22h1M16 22h1M20 22h1M25 22h1M28 22h3M33 22h1M36 22h1M42 22h2M49 22h1M56 22h1M62 22h2M71 22h1M83 22h1M86 22h2M89 22h1M4 23h1M6 23h1M14 23h2M28 23h1M33 23h1M35 23h3M46 23h1M71 23h1M84 23h1M88 23h1M90 23h1M22 24h1M28 24h1M33 24h1M51 24h1M53 24h1M63 24h1M73 24h1M82 24h1M88 24h1M13 25h2M22 25h1M37 25h1M47 25h1M49 25h1M55 25h1M57 25h1M60 25h1M75 25h1M78 25h2M87 25h1M23 26h1M35 26h1M37 26h1M43 26h2M60 26h2M73 26h1M80 26h1M84 26h1M87 26h3M16 27h1M19 27h1M25 27h1M29 27h1M31 27h1M36 27h1M38 27h1M46 27h1M54 27h1M70 27h1M80 27h1M85 27h2M88 27h1M15 28h1M19 28h1M24 28h2M27 28h4M37 28h1M43 28h2M51 28h1M69 28h3M77 28h2M81 28h1M87 28h1M19 29h2M23 29h3M28 29h2M38 29h1M45 29h2M50 29h1M52 29h1M67 29h1M69 29h1M87 29h1M14 30h1M16 30h1M22 30h2M25 30h2M37 30h1M45 30h1M53 30h1M61 30h1M68 30h3M74 30h1M76 30h1M1 31h1M14 31h1M18 31h1M24 31h2M38 31h4M43 31h1M67 31h3M75 31h2M80 31h1M84 31h1M0 32h3M5 32h1M14 32h2M20 32h1M22 32h2M30 32h1M33 32h1M38 32h1M46 32h1M49 32h1M53 32h1M56 32h1M61 32h1M67 32h1M75 32h1M77 32h1M80 32h2M84 32h1M24 33h1M26 33h2M31 33h1M38 33h1M40 33h1M46 33h1M48 33h1M52 33h1M62 33h1M70 33h3M74 33h1M78 33h1M80 33h2M18 34h3M22 34h1M36 34h1M38 34h1M52 34h4M60 34h1M62 34h1M64 34h1M67 34h1M69 34h1M21 35h1M25 35h2M32 35h1M34 35h1M39 35h3M52 35h2M60 35h1M63 35h2M69 35h1M24 36h1M31 36h1M33 36h2M40 36h1M61 36h1M64 36h1M66 36h1M17 37h1M30 37h1M34 37h1M47 37h1M52 37h1M56 37h1M61 37h1M63 37h1M68 37h1M26 38h1M36 38h1M39 38h2M63 38h1M67 38h2M13 39h1M15 39h1M17 39h1M26 39h1M31 39h1M40 39h1M48 39h1M80 39h1M16 40h1M23 40h1M25 40h1M29 40h3M37 40h2M40 40h1M43 40h1M48 40h1M50 40h1M54 40h1M57 40h1M68 40h1M15 41h1M24 41h2M28 41h1M40 41h1M43 41h2M48 41h2M52 41h1M57 41h1M62 41h1M64 41h1M20 42h1M22 42h1M24 42h1M31 42h1M36 42h2M60 42h5M69 42h1M88 42h1M20 43h3M38 43h1M52 43h2M55 43h1M60 43h1M65 43h2M69 43h1M21 44h1M23 44h1M34 44h1M45 44h1M51 44h1M53 44h1M57 44h1M40 45h1M51 45h1M53 45h1M55 45h3M67 45h2M17 46h1M27 46h1M43 46h2M52 46h1M55 46h1M67 46h1M9 47h1M16 47h2M26 47h1M53 47h2M58 47h1M63 47h2M69 47h1M2 48h1M8 48h2M14 48h3M20 48h1M41 48h2M62 48h3M9 49h1M11 49h1M16 49h1M22 49h1M31 49h1M35 49h1M49 49h4M54 49h2M66 49h1M69 49h1M12 50h1M17 50h1M35 50h1M37 50h1M40 50h1M44 50h6M53 50h1M75 50h2"/><path stroke="#34b4a2" d="M29 0h1M38 0h1M56 0h1M59 0h1M66 0h1M69 0h1M73 0h1M28 1h1M31 1h1M44 1h1M53 1h1M58 1h1M70 1h1M75 1h1M81 1h1M26 2h1M32 2h2M36 2h1M39 2h2M58 2h1M76 2h2M88 2h1M27 3h1M29 3h1M35 3h5M53 3h1M66 3h1M71 3h1M80 3h1M83 3h1M85 3h1M87 3h1M89 3h1M29 4h1M36 4h1M43 4h1M53 4h1M55 4h1M64 4h1M70 4h2M83 4h1M89 4h1M28 5h2M36 5h2M54 5h1M58 5h1M60 5h3M64 5h1M70 5h1M75 5h1M90 5h1M26 6h2M29 6h2M34 6h2M43 6h1M54 6h1M71 6h1M75 6h2M90 6h1M25 7h1M50 7h4M56 7h3M65 7h2M75 7h2M90 7h1M30 8h1M41 8h1M43 8h2M47 8h4M54 8h1M65 8h2M71 8h2M27 9h2M39 9h3M43 9h2M50 9h1M56 9h1M58 9h3M67 9h1M72 9h1M75 9h2M27 10h2M43 10h1M46 10h1M48 10h1M60 10h1M63 10h1M66 10h1M68 10h1M49 11h1M67 11h1M33 12h2M85 12h1M16 13h1M22 13h1M33 13h1M41 13h1M15 14h1M20 14h1M33 14h2M66 14h2M15 15h1M22 15h1M24 15h1M41 15h1M51 15h1M58 15h2M65 15h1M15 16h1M37 16h1M52 16h1M54 16h1M56 16h2M67 16h3M18 17h1M33 17h1M55 17h1M68 17h2M75 17h1M13 18h1M17 18h1M55 18h2M63 18h1M73 18h1M83 18h2M33 19h1M50 19h1M56 19h1M59 19h2M82 19h2M87 19h1M17 20h1M24 20h1M27 20h1M31 20h1M34 20h2M49 20h1M53 20h1M55 20h3M65 20h1M19 21h1M21 21h2M30 21h1M33 21h1M50 21h1M56 21h2M59 21h1M61 21h3M68 21h1M71 21h1M87 21h1M6 22h1M19 22h1M31 22h1M34 22h2M50 22h1M54 22h2M58 22h1M64 22h3M90 22h1M13 23h1M54 23h2M58 23h1M63 23h1M83 23h1M85 23h1M13 24h2M34 24h2M46 24h1M55 24h2M64 24h1M89 24h1M62 25h2M65 25h1M71 25h1M86 25h1M38 26h1M45 26h1M53 26h1M55 26h1M70 26h1M72 26h1M78 26h1M85 26h2M18 27h1M30 27h1M58 27h1M62 27h1M68 27h1M72 27h1M77 27h2M84 27h1M87 27h1M18 28h1M26 28h1M52 28h2M68 28h1M72 28h2M79 28h1M85 28h1M16 29h1M43 29h1M47 29h1M63 29h1M65 29h2M78 29h1M86 29h1M17 30h2M24 30h1M44 30h1M47 30h1M49 30h1M62 30h1M64 30h1M73 30h1M78 30h2M84 30h1M11 31h1M13 31h1M15 31h1M44 31h1M50 31h1M56 31h3M77 31h3M85 31h1M11 32h2M25 32h2M31 32h2M40 32h3M60 32h1M68 32h2M74 32h1M78 32h2M83 32h1M12 33h1M20 33h1M22 33h2M25 33h1M29 33h2M36 33h1M39 33h1M55 33h1M58 33h1M63 33h1M65 33h3M73 33h1M79 33h1M82 33h1M21 34h1M23 34h2M26 34h1M33 34h1M39 34h2M42 34h1M47 34h1M49 34h1M51 34h1M66 34h1M68 34h1M24 35h1M33 35h1M35 35h1M42 35h1M47 35h3M54 35h1M67 35h2M25 36h1M41 36h2M48 36h1M51 36h2M55 36h1M65 36h1M69 36h1M25 37h1M32 37h2M36 37h1M41 37h1M46 37h1M48 37h2M55 37h1M57 37h1M67 37h1M25 38h1M27 38h1M32 38h4M42 38h1M51 38h2M66 38h1M14 39h1M23 39h3M27 39h1M30 39h1M32 39h1M36 39h1M38 39h1M42 39h1M50 39h1M58 39h1M63 39h1M66 39h2M13 40h1M15 40h1M24 40h1M28 40h1M36 40h1M41 40h2M46 40h1M53 40h1M63 40h1M13 41h1M31 41h1M35 41h1M39 41h1M45 41h1M53 41h1M59 41h1M28 42h2M34 42h1M52 42h2M56 42h4M65 42h2M30 43h1M58 43h1M67 43h1M22 44h1M31 44h1M39 44h1M46 44h1M52 44h1M59 44h2M66 44h4M39 45h1M44 45h1M52 45h1M63 45h2M66 45h1M69 45h1M30 46h1M34 46h1M40 46h1M56 46h1M59 46h1M63 46h1M35 47h2M56 47h1M59 47h2M67 47h2M0 48h1M13 48h1M17 48h1M36 48h1M38 48h1M40 48h1M55 48h2M58 48h1M61 48h1M67 48h2M0 49h2M12 49h2M19 49h2M36 49h1M39 49h1M41 49h1M43 49h1M45 49h2M48 49h1M58 49h1M63 49h1M0 50h3M13 50h2M18 50h2M21 50h1M27 50h1M34 50h1M50 50h3M58 50h3M63 50h1M77 50h3"/><path stroke="#48b898" d="M41 0h1M43 0h1M68 0h1M74 0h2M87 0h1M29 1h1M57 1h1M73 1h2M87 1h1M28 2h1M34 2h1M37 2h1M42 2h2M71 2h1M73 2h1M80 2h3M57 3h1M79 3h1M27 4h2M33 4h3M56 4h1M26 5h2M31 5h1M34 5h1M38 5h1M59 5h1M65 5h1M33 6h1M42 6h1M57 6h1M61 6h1M63 6h2M66 6h1M70 6h1M77 6h1M26 7h2M29 7h1M37 7h1M59 7h1M64 7h1M27 8h3M52 8h2M55 8h1M60 8h1M64 8h1M67 8h2M73 8h1M76 8h1M42 9h1M48 9h1M51 9h4M74 9h1M38 10h5M44 10h2M49 10h1M62 10h1M67 10h1M38 11h1M41 11h1M47 11h1M37 12h1M41 12h1M59 12h1M64 12h1M17 13h1M32 13h1M16 14h1M18 14h1M23 14h1M36 14h1M58 14h2M16 15h3M20 15h1M35 15h1M38 15h2M66 15h1M17 16h1M36 16h1M64 16h3M65 17h1M70 17h1M73 17h2M64 18h4M74 18h1M52 19h1M54 19h1M62 19h1M64 19h1M69 19h1M71 19h1M88 19h1M22 20h1M33 20h1M52 20h1M60 20h5M71 20h1M87 20h2M18 21h1M23 21h3M31 21h1M49 21h1M51 21h2M54 21h2M60 21h1M67 21h1M70 21h1M89 21h1M53 22h1M57 22h1M67 22h1M69 22h2M88 22h1M34 23h1M51 23h3M56 23h1M64 23h2M70 23h1M87 23h1M47 24h1M57 24h2M84 24h3M35 25h1M45 25h2M54 25h1M56 25h1M58 25h1M70 25h1M85 25h1M54 26h1M64 26h1M71 26h1M17 27h1M53 27h1M56 27h1M63 27h1M71 27h1M16 28h1M57 28h1M63 28h2M67 28h1M86 28h1M17 29h1M73 29h1M83 29h3M15 30h1M19 30h1M46 30h1M50 30h1M71 30h2M77 30h1M81 30h2M86 30h1M42 31h1M45 31h2M52 31h1M59 31h3M66 31h1M71 31h2M74 31h1M13 32h1M24 32h1M45 32h1M50 32h1M52 32h1M58 32h1M62 32h1M64 32h2M72 32h2M76 32h1M32 33h1M43 33h1M49 33h1M51 33h1M59 33h2M64 33h1M69 33h1M25 34h1M29 34h1M32 34h1M34 34h1M46 34h1M48 34h1M50 34h1M63 34h1M27 35h1M31 35h1M55 35h1M26 36h1M29 36h2M46 36h1M50 36h1M60 36h1M67 36h2M26 37h1M42 37h1M45 37h1M50 37h2M58 37h1M64 37h1M66 37h1M29 38h2M43 38h1M48 38h1M50 38h1M58 38h3M64 38h1M16 39h1M35 39h1M37 39h1M43 39h2M47 39h1M14 40h1M32 40h2M35 40h1M49 40h1M55 40h2M59 40h1M64 40h1M67 40h1M30 41h1M34 41h1M54 41h1M58 41h1M65 41h1M67 41h1M54 42h2M68 42h1M36 43h1M68 43h1M35 44h3M30 45h2M58 45h1M65 45h1M32 46h1M35 46h1M37 46h3M58 46h1M60 46h1M31 47h1M37 47h1M39 47h2M55 47h1M57 47h1M35 48h1M39 48h1M57 48h1M59 48h2M2 49h1M14 49h2M27 49h1M37 49h1M42 49h1M59 49h3M32 50h2M61 50h2"/><path stroke="#62ba8a" d="M55 0h1M57 0h1M67 0h1M41 1h1M43 1h1M56 1h1M55 2h3M70 2h1M74 2h2M33 3h2M54 3h1M56 3h1M58 3h1M70 3h1M32 4h1M54 4h1M80 4h3M33 5h1M28 6h1M60 6h1M62 6h1M30 7h1M42 7h1M54 7h1M69 7h1M71 7h1M59 8h1M63 8h1M45 9h1M70 9h1M47 10h1M40 11h1M48 11h1M35 12h1M40 12h1M17 14h1M21 14h2M19 15h1M21 15h1M40 15h1M16 16h1M51 16h1M16 17h1M53 17h1M67 17h1M76 17h1M16 18h1M54 18h1M68 18h2M51 19h1M53 19h1M55 19h1M65 19h3M75 19h1M68 20h1M70 20h1M53 21h1M64 21h2M88 21h1M51 22h2M68 22h1M68 23h2M86 23h1M89 23h1M65 24h1M67 24h4M59 25h1M69 25h1M72 25h1M58 26h1M65 26h1M69 26h1M79 26h1M64 27h1M66 27h1M83 27h1M17 28h1M66 28h1M18 29h1M64 29h1M72 29h1M82 29h1M20 30h1M51 30h1M83 30h1M85 30h1M4 31h1M63 31h1M65 31h1M70 31h1M73 31h1M82 31h2M43 32h1M51 32h1M66 32h1M70 32h2M45 33h1M50 33h1M57 33h1M68 33h1M45 34h1M56 34h1M59 34h1M28 35h1M51 35h1M56 35h1M27 36h1M49 36h1M56 36h2M59 36h1M28 37h2M35 37h1M59 37h2M65 37h1M45 38h3M29 39h1M34 39h1M39 39h1M46 39h1M45 40h1M32 41h2M55 41h2M66 41h1M30 42h1M32 42h2M67 42h1M33 43h2M37 43h1M32 45h1M34 45h1M38 45h1M59 45h1M31 46h1M33 46h1M57 46h1M32 47h1M34 47h1M32 48h2M37 48h1M32 49h1M34 49h1M62 49h1M20 50h1"/><path stroke="#7cbd7c" d="M42 1h1M54 1h2M68 1h2M27 2h1M67 2h1M28 3h1M55 3h1M82 3h1M57 4h1M66 4h1M35 5h1M67 5h1M58 6h1M67 6h1M28 7h1M60 7h2M63 7h1M67 7h2M70 7h1M42 8h1M62 8h1M69 8h1M74 8h1M47 9h1M61 9h1M73 11h1M38 12h1M36 13h1M40 14h1M51 17h2M66 17h1M51 18h2M70 18h1M70 19h1M23 20h1M54 20h1M69 21h1M66 23h2M87 24h1M64 25h1M67 26h1M81 26h1M65 27h1M67 27h1M84 28h1M51 31h1M62 31h1M57 32h1M59 32h1M63 32h1M82 32h1M28 34h1M30 34h2M43 34h2M29 35h1M43 35h1M45 35h1M59 35h1M43 36h2M28 38h1M65 38h1M33 39h1M45 39h1M64 39h2M34 40h1M39 40h1M65 40h2M31 43h1M32 44h2M33 45h1M36 45h2M33 47h1M34 48h1M33 49h1"/><path stroke="#9cb86c" d="M42 0h1M67 1h1M54 2h1M67 3h2M67 4h3M69 6h1M61 8h1M70 8h1M62 9h1M73 9h1M39 11h1M2 13h1M34 13h1M37 13h3M8 14h1M35 14h1M37 14h1M39 14h1M67 15h1M19 16h1M14 18h1M53 18h1M13 19h2M63 19h1M68 19h1M66 24h1M66 25h2M63 26h1M66 26h1M68 26h1M65 28h1M21 30h1M28 32h1M44 32h1M27 34h1M58 34h1M30 35h1M46 35h1M57 35h2M28 36h1M45 36h1M58 36h1M43 37h2M44 38h1M28 39h1M44 40h1M42 42h1M32 43h1M64 46h1M38 47h1M65 47h1"/><path stroke="#bcb45c" d="M69 2h1M69 3h1M81 3h1M65 4h1M68 5h2M68 6h1M62 13h1M19 14h1M49 15h1M59 16h1M73 16h1M76 18h1M15 19h1M76 19h1M29 21h1M72 21h1M68 25h1M57 27h1M82 28h2M76 29h1M48 31h1M64 31h1M28 33h1M44 33h1M58 40h1M35 43h1M38 44h1M65 46h1M62 47h1"/><path stroke="#d6b64c" d="M75 8h1M28 12h1M39 12h1M35 13h1M41 14h1M37 15h1M77 18h1M32 22h1M56 26h2M82 27h1M56 28h1M51 29h1M53 29h1M6 31h1M35 45h1"/><path stroke="#f0b83c" d="M66 1h1M68 2h1M56 5h1M65 10h1M61 11h1M63 12h1M65 12h1M67 12h1M58 13h2M9 14h1M71 16h1M1 18h1M2 19h1M51 20h1M67 20h1M71 24h1M58 29h1M47 31h1M49 31h1M53 31h2M47 36h1M59 39h1M61 40h1M60 41h2M62 46h1"/><path stroke="#f4c032" d="M66 5h1M36 12h1M38 14h1M50 16h1M61 16h1M75 18h1M69 20h1M59 24h1M8 31h1M56 33h1M50 35h1M7 46h1M66 46h1"/><path stroke="#f8c828" d="M65 6h1M17 10h1M63 11h1M40 13h1M36 15h1M1 16h1M60 16h1M49 19h1M66 20h1M52 30h1M27 37h1M6 46h1"/><path stroke="#f7d423" d="M53 2h1M66 12h1M62 17h1M72 23h1M48 32h1M47 33h1M44 35h1M61 38h1M31 48h1"/><path stroke="#f6e01e" d="M62 7h1M64 11h2M60 13h1M66 30h1M57 34h1M36 46h1"/><path stroke="#f7ec17" d="M66 2h1M71 9h1M64 10h1M60 14h1M50 15h1M62 26h1M57 29h1M54 30h1M21 31h1M55 32h1M60 39h2M38 49h1"/><path stroke="#f8f810" d="M60 12h1M1 13h1M49 16h1M61 19h1M65 30h1"/></g></g></g>
<use href="#gr"/><g clip-path="url(#cp)"><use href="#fl"/></g>
<polygon points="441,329 444.9,341 457.5,341 447.3,348.3 451.2,360.3 441,352.9 430.8,360.3 434.7,348.3 424.5,341 437.1,341" fill="#ff0000"/>
<use href="#fr"/><use href="#lb"/>
<text class="p" x="41.3" y="-26.5">(f)</text>
<text class="h" style="font-size:50.9px" x="396.6" y="-29.2" text-anchor="middle">17−19 March 2021</text>
</g>
<g transform="translate(279.6,2328) scale(1,1.0079)">
<g clip-path="url(#cp)"><g transform="translate(-4.13,-5.08) scale(8.2656,10.1500)" shape-rendering="crispEdges" fill="none"><rect width="91" height="51" fill="#1098d0"/><g transform="translate(0,.5)"><path stroke="#352a87" d="M32 1h1M34 2h1M62 2h1M62 4h1M64 4h1M62 5h2M61 6h2M64 6h3M63 7h2M67 18h1M86 41h1"/><path stroke="#363096" d="M63 4h1M64 5h1M60 6h1M63 6h1M40 9h1M81 44h1M85 49h1"/><path stroke="#3637a4" d="M64 2h1M69 5h1M61 7h1M65 7h1M50 11h1M18 12h1M52 12h1M57 27h1M87 37h1M81 42h1"/><path stroke="#3240b2" d="M65 2h1M62 3h1M9 5h1M70 5h1M68 6h2M8 7h1M59 7h1M68 7h2M51 11h1M13 20h2M84 40h1M77 42h2M85 44h1"/><path stroke="#2f49c0" d="M61 2h1M63 2h1M60 3h1M64 3h2M3 4h1M65 18h1M83 44h2M85 45h2"/><path stroke="#2652cc" d="M60 2h1M66 2h1M63 3h1M66 3h1M59 5h1M66 5h1M68 5h1M71 5h1M67 6h1M60 7h1M19 12h1M82 44h1"/><path stroke="#1c5ad8" d="M34 1h1M61 1h2M64 1h4M30 2h1M67 2h1M59 3h1M61 3h1M60 5h1M5 6h1M24 11h1M50 12h1M58 27h1M59 28h1M67 30h1M69 31h1M77 41h1M79 41h1M83 41h1M76 42h1M85 42h1M85 43h1M83 45h1M83 46h1"/><path stroke="#1261dc" d="M66 0h1M30 1h1M33 1h1M35 1h1M69 1h1M68 2h1M67 3h1M59 4h2M65 4h2M61 5h1M67 5h1M7 6h1M59 6h1M62 7h1M68 17h1M88 26h1M69 27h1M57 28h2M58 29h1M68 31h1M81 38h1M79 40h1M76 41h1M78 41h1M81 41h1M82 42h1M82 45h1M84 45h1M82 46h1M84 46h1"/><path stroke="#0868e0" d="M64 0h1M60 1h1M63 1h1M70 1h1M32 2h2M69 2h2M7 4h1M61 4h1M7 5h1M65 5h1M66 7h1M70 7h1M13 9h1M21 12h1M18 14h1M66 16h1M66 18h1M68 18h1M66 19h2M69 21h1M59 27h1M37 37h1M77 40h2M80 40h1M75 41h1M80 41h1M85 41h1M87 41h2M80 42h1M81 43h2M84 43h1M86 43h1M81 45h1M81 46h1"/><path stroke="#0a6ede" d="M61 0h1M65 0h1M36 1h1M68 1h1M35 2h2M59 2h1M40 3h1M68 3h2M39 4h2M67 4h1M69 4h1M58 6h1M71 6h1M76 6h1M5 7h1M25 7h1M67 7h1M6 8h1M62 8h1M52 11h1M51 12h1M53 12h1M18 13h1M29 16h1M66 17h1M84 18h1M84 19h1M66 20h3M67 27h1M55 28h2M36 37h1M38 37h1M38 38h1M38 39h1M40 39h1M76 40h1M88 40h1M82 41h1M84 41h1M89 41h1M75 42h1M79 42h1M83 42h1M86 42h2M76 43h2M87 43h1M86 44h2M87 45h1M80 46h1M88 46h1M83 47h1M88 47h1M88 48h1"/><path stroke="#0d74dc" d="M62 0h2M67 0h1M69 0h1M71 1h1M31 2h1M71 2h1M70 3h1M58 4h1M68 4h1M26 5h1M44 5h1M58 5h1M70 6h1M58 7h1M71 7h1M63 8h1M69 8h2M63 9h1M18 11h1M53 11h1M17 12h1M23 12h1M59 12h1M63 12h1M17 13h1M77 14h1M77 15h2M67 16h2M76 16h3M65 17h1M67 17h1M69 18h1M76 18h2M5 19h1M68 19h1M83 19h1M85 19h1M65 20h1M68 21h1M68 22h1M58 26h1M60 27h1M68 27h1M60 28h1M59 29h1M41 34h1M42 35h1M33 36h1M41 36h1M42 37h1M37 38h1M39 38h2M37 39h1M75 39h1M89 40h1M84 42h1M88 42h2M78 43h1M83 43h1M89 44h1M80 45h1M88 45h1M85 46h1M87 46h1M84 47h1M87 48h1M89 48h1"/><path stroke="#107ada" d="M60 0h1M70 0h1M29 1h1M42 2h1M53 2h2M72 2h1M35 3h2M39 3h1M44 3h1M49 3h2M53 3h1M58 3h1M71 3h1M81 3h1M36 4h1M44 4h1M39 5h2M45 5h1M39 6h1M43 6h2M57 6h1M72 6h1M75 6h1M77 6h1M39 7h1M43 7h1M72 7h1M76 7h1M59 8h1M61 8h1M64 8h2M68 8h1M71 8h1M59 9h1M51 10h3M55 10h1M59 10h1M62 10h1M19 11h1M22 11h1M55 11h1M64 11h1M60 12h1M22 13h1M51 13h1M84 13h1M78 14h1M80 14h1M82 14h3M66 15h1M76 15h1M82 15h3M4 16h2M28 16h1M65 16h1M6 17h1M10 17h1M59 17h1M64 17h1M75 17h1M77 17h2M5 18h1M57 18h1M59 18h1M64 18h1M83 18h1M65 19h1M76 19h2M75 20h1M82 20h1M38 21h1M67 21h1M75 21h2M38 22h1M67 22h1M68 23h2M71 23h1M88 23h1M74 25h1M59 26h1M55 27h2M61 28h1M57 29h1M37 35h2M41 35h1M34 36h1M36 36h3M42 36h2M41 37h1M43 37h1M73 37h2M73 38h2M39 39h1M41 39h1M73 39h1M79 39h1M40 40h2M74 40h2M81 40h1M85 40h3M41 41h1M35 42h1M74 42h1M37 43h1M79 43h2M88 43h1M76 44h2M80 44h1M88 44h1M79 45h1M79 46h1M86 46h1M82 47h1M87 47h1M86 48h1M90 48h1M88 49h1"/><path stroke="#1480d8" d="M68 0h1M31 1h1M42 1h1M53 1h1M59 1h1M28 2h1M38 2h1M43 2h2M49 2h1M51 2h2M58 2h1M73 2h1M79 2h3M29 3h1M37 3h1M42 3h2M54 3h1M80 3h1M35 4h1M37 4h2M42 4h2M45 4h1M51 4h1M53 4h2M57 4h1M70 4h2M43 5h1M72 5h1M76 5h3M73 6h1M78 6h1M6 7h1M44 7h1M77 7h2M4 8h1M58 8h1M60 8h1M66 8h1M6 9h1M51 9h1M53 9h1M55 9h1M60 9h1M62 9h1M64 9h3M70 9h1M78 9h1M56 10h1M60 10h1M63 10h3M86 10h1M17 11h1M20 11h2M23 11h1M54 11h1M59 11h3M63 11h1M65 11h1M54 12h1M61 12h1M64 12h2M16 13h1M19 13h1M21 13h1M23 13h2M50 13h1M64 13h1M82 13h2M16 14h2M19 14h1M21 14h2M66 14h1M79 14h1M85 14h2M4 15h2M65 15h1M75 15h1M81 15h1M3 16h1M7 16h3M60 16h1M74 16h2M82 16h4M8 17h1M11 17h1M60 17h1M69 17h1M76 17h1M84 17h1M9 18h2M60 18h1M62 18h1M85 18h1M57 19h1M69 19h1M74 19h2M82 19h1M37 20h2M42 20h1M69 20h1M74 20h1M76 20h2M80 20h2M85 20h1M37 21h1M41 21h1M64 21h1M66 21h1M74 21h1M81 21h1M83 21h1M85 21h1M39 22h2M69 22h1M75 22h2M82 22h1M70 23h1M72 23h1M79 23h1M83 23h1M69 24h2M72 24h1M74 24h2M83 24h1M57 26h1M69 26h1M73 26h1M76 28h1M56 29h1M60 29h1M62 29h1M75 29h1M88 29h1M37 33h1M37 34h1M42 34h1M71 34h1M78 34h1M33 35h3M71 35h2M35 36h1M40 36h1M72 36h3M39 37h2M75 37h1M36 38h1M42 38h2M72 38h1M75 38h2M35 39h1M42 39h1M72 39h1M76 39h3M87 39h1M35 40h5M42 40h1M82 40h1M35 41h2M40 41h1M74 41h1M90 41h1M31 42h1M36 42h1M38 42h1M41 42h2M65 42h1M30 43h3M36 43h1M75 43h1M89 43h1M75 44h1M76 45h3M89 45h1M89 46h1M81 47h1M85 47h1M89 47h1M86 49h2"/><path stroke="#1486d6" d="M30 0h2M35 0h2M59 0h1M90 0h1M43 1h2M54 1h1M72 1h1M75 1h1M90 1h1M29 2h1M37 2h1M39 2h3M45 2h1M50 2h1M75 2h1M82 2h1M89 2h1M8 3h1M27 3h2M34 3h1M38 3h1M41 3h1M45 3h1M52 3h1M55 3h2M72 3h2M76 3h1M78 3h1M2 4h1M5 4h1M28 4h2M46 4h1M48 4h1M50 4h1M52 4h1M78 4h1M80 4h2M6 5h1M27 5h1M38 5h1M42 5h1M47 5h1M50 5h3M73 5h1M79 5h1M6 6h1M8 6h2M40 6h1M45 6h1M74 6h1M7 7h1M9 7h1M38 7h1M40 7h1M3 8h1M7 8h1M44 8h1M57 8h1M67 8h1M72 8h1M77 8h1M52 9h1M54 9h1M56 9h1M58 9h1M61 9h1M67 9h1M18 10h3M45 10h2M49 10h1M58 10h1M61 10h1M16 11h1M45 11h1M49 11h1M56 11h3M16 12h1M22 12h1M24 12h1M49 12h1M56 12h1M58 12h1M62 12h1M20 13h1M52 13h1M58 13h1M60 13h2M63 13h1M65 13h1M80 13h1M85 13h2M20 14h1M23 14h1M65 14h1M76 14h1M81 14h1M2 15h2M59 15h1M68 15h1M79 15h1M85 15h2M6 16h1M11 16h1M59 16h1M63 16h1M69 16h1M79 16h1M87 16h1M4 17h2M7 17h1M9 17h1M58 17h1M61 17h1M81 17h3M85 17h1M7 18h2M12 18h1M58 18h1M61 18h1M74 18h1M78 18h1M81 18h1M87 18h1M56 19h1M59 19h1M62 19h1M64 19h1M70 19h1M81 19h1M86 19h1M39 20h1M41 20h1M43 20h1M56 20h2M64 20h1M70 20h1M78 20h1M83 20h2M90 20h1M39 21h2M58 21h1M61 21h2M65 21h1M73 21h1M77 21h1M82 21h1M61 22h1M66 22h1M70 22h1M74 22h1M78 22h4M83 22h1M85 22h5M39 23h3M62 23h2M73 23h1M75 23h2M78 23h1M85 23h1M42 24h1M52 24h2M62 24h2M68 24h1M71 24h1M73 24h1M62 25h1M68 25h1M70 25h2M54 26h1M61 26h1M75 26h1M54 27h1M61 27h1M73 27h1M75 27h1M62 28h1M88 28h1M61 29h1M76 29h1M87 29h1M89 29h1M87 30h1M67 31h1M87 31h1M67 32h1M70 32h1M31 33h2M38 33h2M70 33h2M74 33h1M87 33h1M38 34h2M72 34h2M31 35h2M36 35h1M40 35h1M43 35h1M73 35h3M31 36h2M44 36h1M71 36h1M75 36h1M32 37h2M72 37h1M76 37h1M33 38h3M41 38h1M49 38h1M51 38h1M78 38h2M89 38h1M33 39h2M36 39h1M49 39h1M71 39h1M74 39h1M84 39h3M90 39h1M34 40h1M47 40h2M73 40h1M83 40h1M90 40h1M39 41h1M42 41h1M67 41h1M37 42h1M39 42h2M64 42h1M34 43h1M40 43h1M90 43h1M31 44h2M78 44h2M90 44h1M90 45h1M73 47h1M80 47h1M86 47h1M74 48h1M81 48h1M83 48h3M89 49h1M87 50h2"/><path stroke="#138cd4" d="M29 0h1M32 0h1M34 0h1M42 0h1M53 0h1M71 0h1M73 0h1M28 1h1M37 1h2M41 1h1M50 1h3M73 1h2M82 1h1M86 1h2M89 1h1M27 2h1M55 2h1M74 2h1M76 2h1M78 2h1M86 2h3M90 2h1M4 3h1M9 3h1M48 3h1M51 3h1M57 3h1M77 3h1M79 3h1M82 3h1M88 3h3M4 4h1M6 4h1M9 4h1M27 4h1M30 4h1M34 4h1M41 4h1M55 4h2M72 4h1M76 4h1M79 4h1M4 5h2M8 5h1M28 5h2M36 5h1M41 5h1M46 5h1M53 5h1M57 5h1M75 5h1M80 5h2M4 6h1M38 6h1M41 6h2M46 6h5M80 6h1M3 7h2M37 7h1M41 7h2M45 7h1M48 7h1M57 7h1M75 7h1M79 7h2M90 7h1M5 8h1M38 8h2M56 8h1M74 8h1M79 8h1M44 9h2M50 9h1M68 9h2M71 9h1M80 9h1M17 10h1M21 10h1M23 10h1M54 10h1M66 10h2M77 10h2M85 10h1M87 10h2M46 11h1M62 11h1M66 11h1M85 11h3M20 12h1M47 12h2M55 12h1M81 12h1M83 12h1M85 12h4M53 13h2M56 13h2M59 13h1M62 13h1M66 13h2M76 13h1M79 13h1M81 13h1M87 13h1M24 14h1M60 14h4M67 14h1M75 14h1M19 15h1M60 15h1M62 15h2M67 15h1M74 15h1M80 15h1M87 15h1M2 16h1M10 16h1M12 16h2M31 16h2M43 16h1M61 16h2M64 16h1M73 16h1M80 16h2M86 16h1M88 16h1M12 17h1M32 17h1M56 17h1M62 17h2M74 17h1M79 17h1M6 18h1M11 18h1M37 18h1M51 18h1M56 18h1M63 18h1M75 18h1M79 18h1M82 18h1M86 18h1M10 19h1M37 19h2M42 19h2M58 19h1M60 19h2M63 19h1M71 19h1M73 19h1M78 19h1M80 19h1M87 19h1M33 20h1M40 20h1M44 20h1M59 20h1M61 20h1M71 20h1M73 20h1M79 20h1M86 20h1M36 21h1M42 21h3M55 21h3M60 21h1M63 21h1M72 21h1M78 21h3M84 21h1M86 21h3M37 22h1M41 22h1M43 22h2M60 22h1M62 22h1M64 22h1M72 22h2M77 22h1M84 22h1M42 23h2M52 23h2M64 23h1M67 23h1M77 23h1M80 23h3M86 23h2M89 23h1M41 24h1M67 24h1M76 24h1M79 24h1M81 24h1M84 24h1M54 25h1M63 25h1M69 25h1M72 25h2M75 25h3M83 25h1M62 26h1M71 26h2M74 26h1M87 26h1M53 27h1M62 27h1M70 27h2M74 27h1M54 28h1M71 28h1M74 28h2M89 28h2M63 29h2M68 29h1M59 30h2M68 30h2M89 30h1M68 32h1M71 32h1M86 32h1M33 33h3M42 33h1M69 33h1M72 33h2M79 33h1M85 33h1M31 34h4M36 34h1M40 34h1M70 34h1M74 34h2M80 34h2M39 35h1M70 35h1M76 35h1M79 35h2M86 35h1M39 36h1M70 36h1M76 36h1M78 36h2M31 37h1M34 37h2M44 37h1M49 37h1M69 37h3M77 37h4M84 37h2M32 38h1M44 38h1M46 38h3M50 38h1M52 38h5M68 38h1M71 38h1M85 38h1M88 38h1M90 38h1M32 39h1M44 39h1M47 39h2M50 39h1M53 39h1M80 39h1M82 39h1M88 39h2M33 40h1M46 40h1M53 40h1M67 40h1M72 40h1M34 41h1M38 41h1M47 41h1M65 41h2M34 42h1M66 42h3M73 42h1M90 42h1M33 43h1M35 43h1M38 43h2M65 43h3M74 43h1M33 44h1M38 44h1M74 44h1M70 45h1M73 45h2M27 46h2M71 46h2M74 46h5M90 46h1M25 47h2M72 47h1M77 47h1M79 47h1M25 48h1M82 48h1M69 49h2M83 49h1M90 49h1M86 50h1"/><path stroke="#1292d2" d="M41 0h1M43 0h1M47 0h1M50 0h1M54 0h2M74 0h1M89 0h1M39 1h1M45 1h2M48 1h2M55 1h2M58 1h1M80 1h2M88 1h1M47 2h2M56 2h1M83 2h2M1 3h1M3 3h1M5 3h1M7 3h1M26 3h1M30 3h1M32 3h1M46 3h1M74 3h2M87 3h1M8 4h1M26 4h1M47 4h1M49 4h1M74 4h2M77 4h1M82 4h1M90 4h1M2 5h2M10 5h1M35 5h1M37 5h1M54 5h2M74 5h1M90 5h1M3 6h1M37 6h1M53 6h1M79 6h1M81 6h1M90 6h1M0 7h1M2 7h1M10 7h1M46 7h2M49 7h1M73 7h2M2 8h1M9 8h3M37 8h1M40 8h4M45 8h2M50 8h1M55 8h1M73 8h1M76 8h1M78 8h1M80 8h1M90 8h1M43 9h1M46 9h2M57 9h1M72 9h1M76 9h2M86 9h1M22 10h1M24 10h1M44 10h1M47 10h1M50 10h1M57 10h1M76 10h1M47 11h2M67 11h2M77 11h1M79 11h1M82 11h2M88 11h1M25 12h1M45 12h2M57 12h1M66 12h1M75 12h5M82 12h1M84 12h1M15 13h1M48 13h2M55 13h1M77 13h2M88 13h1M4 14h1M55 14h1M74 14h1M88 14h1M1 15h1M6 15h1M16 15h3M31 15h1M43 15h2M88 15h1M33 16h1M42 16h1M44 16h1M50 16h1M58 16h1M3 17h1M13 17h1M31 17h1M33 17h1M42 17h1M45 17h2M50 17h1M57 17h1M72 17h2M86 17h3M4 18h1M13 18h1M33 18h2M70 18h1M73 18h1M80 18h1M7 19h1M11 19h1M32 19h1M36 19h1M41 19h1M44 19h1M55 19h1M72 19h1M79 19h1M88 19h2M35 20h2M58 20h1M62 20h1M72 20h1M87 20h1M89 20h1M32 21h2M52 21h1M54 21h1M59 21h1M70 21h2M32 22h3M36 22h1M42 22h1M53 22h1M57 22h2M63 22h1M71 22h1M90 22h1M37 23h2M44 23h1M50 23h1M54 23h1M57 23h2M61 23h1M65 23h2M84 23h1M40 24h1M55 24h1M61 24h1M66 24h1M77 24h2M80 24h1M82 24h1M85 24h2M42 25h2M52 25h2M56 25h2M64 25h2M67 25h1M82 25h1M84 25h1M42 26h1M55 26h2M60 26h1M63 26h1M68 26h1M76 26h1M42 27h2M72 27h1M76 27h1M86 27h1M88 27h2M42 28h1M53 28h1M63 28h1M68 28h3M73 28h1M86 28h2M54 29h2M67 29h1M69 29h2M72 29h3M86 29h1M90 29h1M56 30h3M61 30h2M72 30h3M76 30h1M88 30h1M66 31h1M72 31h1M89 31h1M31 32h4M36 32h2M40 32h3M69 32h1M72 32h1M78 32h1M87 32h1M36 33h1M40 33h1M67 33h2M80 33h2M86 33h1M88 33h1M30 34h1M35 34h1M43 34h1M76 34h2M79 34h1M85 34h1M87 34h1M44 35h1M77 35h2M85 35h1M30 36h1M45 36h2M67 36h1M69 36h1M77 36h1M80 36h1M83 36h1M85 36h4M50 37h2M68 37h1M86 37h1M88 37h1M90 37h1M30 38h2M45 38h1M69 38h2M77 38h1M80 38h1M84 38h1M87 38h1M46 39h1M52 39h1M54 39h3M81 39h1M83 39h1M31 40h2M43 40h1M45 40h1M49 40h2M54 40h2M65 40h2M68 40h1M30 41h1M33 41h1M43 41h1M46 41h1M50 41h1M52 41h1M56 41h1M64 41h1M68 41h2M72 41h2M30 42h1M33 42h1M43 42h1M63 42h1M69 42h1M71 42h2M29 43h1M41 43h1M64 43h1M29 44h2M34 44h3M32 45h1M72 45h1M75 45h1M73 46h1M11 47h1M27 47h1M68 47h2M71 47h1M74 47h1M76 47h1M90 47h1M26 48h1M31 48h2M68 48h6M75 48h2M80 48h1M68 49h1M71 49h2M80 49h2M61 50h2M69 50h2M90 50h1"/><path stroke="#0c9cce" d="M0 0h2M33 0h1M38 0h1M48 0h1M56 0h1M58 0h1M75 0h1M82 0h1M85 0h1M88 0h1M7 1h1M16 1h1M18 1h1M24 1h2M27 1h1M85 1h1M0 2h1M2 2h1M5 2h3M10 2h1M17 2h2M20 2h1M24 2h1M26 2h1M0 3h1M6 3h1M10 3h1M12 4h1M33 4h1M73 4h1M83 4h1M88 4h2M0 5h2M30 5h2M33 5h2M48 5h1M82 5h1M86 5h1M0 6h1M12 6h1M35 6h1M54 6h1M56 6h1M82 6h1M12 7h1M51 7h2M55 7h2M81 7h2M86 7h1M12 8h1M36 8h1M48 8h2M51 8h1M53 8h1M81 8h1M86 8h1M89 8h1M0 9h1M2 9h4M9 9h2M16 9h1M37 9h1M42 9h1M48 9h1M81 9h3M88 9h2M0 10h1M10 10h1M16 10h1M48 10h1M69 10h3M83 10h1M69 11h1M75 11h2M78 11h1M81 11h1M44 12h1M69 12h1M11 13h1M43 13h5M74 13h1M89 13h1M1 14h1M5 14h1M11 14h1M48 14h1M58 14h1M11 15h2M14 15h2M20 15h2M23 15h1M25 15h1M29 15h2M32 15h1M34 15h1M41 15h1M48 15h4M54 15h1M72 15h2M90 15h1M15 16h1M35 16h2M40 16h1M46 16h1M48 16h2M51 16h3M55 16h1M90 16h1M15 17h1M29 17h1M34 17h1M36 17h4M44 17h1M48 17h1M52 17h2M55 17h1M89 17h2M14 18h1M19 18h1M28 18h1M30 18h3M39 18h2M44 18h1M47 18h3M53 18h2M89 18h2M4 19h1M15 19h1M17 19h1M35 19h1M46 19h1M52 19h3M10 20h1M48 20h6M88 20h1M31 21h1M46 21h1M48 21h4M53 21h1M46 22h1M48 22h1M50 22h2M56 22h1M33 23h3M45 23h1M47 23h3M55 23h1M60 23h1M44 24h1M49 24h1M44 25h1M51 25h1M59 25h1M78 25h1M41 26h1M44 26h1M52 26h1M64 26h1M79 26h2M83 26h2M86 26h1M89 26h1M65 27h1M80 27h3M85 27h1M90 27h1M77 28h1M43 29h1M65 29h1M42 30h2M53 30h2M65 30h1M77 30h1M90 30h1M32 31h1M34 31h1M36 31h2M40 31h4M58 31h1M60 31h1M62 31h4M74 31h1M76 31h2M85 31h1M30 32h1M74 32h2M80 32h1M82 32h1M85 32h1M89 32h1M43 33h1M66 33h1M82 33h1M89 33h1M47 34h1M66 34h1M83 34h1M89 34h2M45 35h2M66 35h2M69 35h1M82 35h1M48 36h3M82 36h1M15 37h1M52 37h1M81 37h1M83 37h1M28 38h2M57 38h1M83 38h1M86 38h1M27 39h2M65 39h2M70 39h1M12 40h1M28 40h1M30 40h1M69 40h1M28 41h1M54 41h2M63 41h1M44 42h1M49 42h2M52 42h1M57 42h1M61 42h2M9 43h1M44 43h1M46 43h1M63 43h1M72 43h1M9 44h1M63 44h1M67 44h1M69 44h1M71 44h1M9 45h1M12 45h1M29 45h2M34 45h4M62 45h1M69 45h1M3 46h1M9 46h2M13 46h1M17 46h4M29 46h1M31 46h2M34 46h1M69 46h1M1 47h2M19 47h3M23 47h1M33 47h1M66 47h2M75 47h1M78 47h1M3 48h1M8 48h1M10 48h1M12 48h1M21 48h1M23 48h1M34 48h1M50 48h1M67 48h1M78 48h1M1 49h2M9 49h2M20 49h4M28 49h2M32 49h2M42 49h1M51 49h1M62 49h1M82 49h1M25 50h2M31 50h1M40 50h1M42 50h1M52 50h1M59 50h1M73 50h1M81 50h1"/><path stroke="#08a0cc" d="M11 0h2M15 0h2M22 0h1M25 0h1M27 0h1M37 0h1M57 0h1M76 0h1M81 0h1M86 0h2M1 1h1M6 1h1M8 1h1M11 1h3M23 1h1M26 1h1M84 1h1M3 2h1M11 2h1M25 2h1M11 3h2M19 3h1M25 3h1M84 3h1M25 4h1M84 4h2M87 4h1M32 5h1M83 5h1M85 5h1M87 5h1M89 5h1M86 6h1M54 7h1M85 7h1M88 7h1M18 8h1M82 8h1M85 8h1M1 9h1M7 9h2M11 9h2M15 9h1M19 9h1M35 9h1M39 9h1M41 9h1M74 9h1M1 10h2M15 10h1M75 10h1M82 10h1M15 11h1M80 11h1M43 12h1M70 12h1M74 12h1M5 13h1M7 13h1M26 13h1M35 13h2M42 13h1M70 13h2M0 14h1M6 14h2M12 14h1M14 14h1M26 14h1M34 14h1M36 14h1M42 14h1M47 14h1M89 14h1M0 15h1M24 15h1M26 15h1M35 15h2M39 15h1M46 15h1M52 15h2M17 16h3M37 16h1M39 16h1M47 16h1M70 16h3M2 17h1M26 17h2M40 17h1M47 17h1M54 17h1M71 17h1M16 18h1M18 18h1M20 18h1M25 18h2M29 18h1M14 19h1M16 19h1M24 19h1M28 19h2M47 19h2M5 20h2M9 20h1M11 20h2M29 20h1M46 20h1M30 21h1M31 22h1M32 23h1M36 23h1M90 23h1M38 24h1M45 24h1M40 25h1M50 25h1M60 25h1M89 25h1M10 26h1M51 26h1M78 26h1M85 26h1M41 27h1M64 27h1M78 27h2M83 27h1M0 28h1M41 28h1M65 28h1M81 28h1M85 28h1M44 29h1M52 29h1M52 30h1M33 31h1M38 31h2M44 31h1M53 31h1M59 31h1M61 31h1M75 31h1M78 31h1M82 31h1M77 32h1M81 32h1M90 32h1M44 33h1M47 33h1M45 34h2M48 34h1M88 34h1M47 35h2M88 35h2M0 36h1M51 36h1M55 36h2M18 37h1M28 37h2M53 37h1M57 37h1M65 38h2M82 38h1M16 39h1M64 39h1M14 40h1M20 40h1M27 40h1M58 40h1M70 40h1M27 41h1M53 41h1M58 41h2M28 42h1M47 42h2M51 42h1M56 42h1M59 42h2M8 43h1M18 43h1M27 43h1M43 43h1M45 43h1M60 43h1M62 43h1M70 43h2M13 44h1M19 44h1M26 44h2M39 44h2M42 44h1M61 44h1M64 44h3M72 44h1M7 45h1M10 45h1M13 45h1M17 45h2M25 45h1M33 45h1M38 45h1M63 45h1M2 46h1M4 46h1M8 46h1M14 46h1M30 46h1M33 46h1M67 46h1M0 47h1M14 47h1M17 47h2M22 47h1M1 48h2M4 48h1M7 48h1M9 48h1M11 48h1M13 48h1M17 48h1M22 48h1M35 48h1M43 48h1M66 48h1M0 49h1M3 49h2M7 49h1M11 49h1M19 49h1M24 49h1M27 49h1M30 49h1M34 49h1M36 49h1M43 49h1M53 49h1M67 49h1M77 49h3M0 50h3M8 50h3M18 50h1M27 50h1M30 50h1M32 50h1M39 50h1M41 50h1M43 50h1M51 50h1M53 50h1M68 50h1M75 50h2M79 50h1"/><path stroke="#0ba4c6" d="M2 0h5M10 0h1M13 0h1M17 0h1M77 0h2M80 0h1M83 0h2M2 1h3M9 1h2M19 1h1M21 1h2M12 2h2M16 2h1M19 2h1M22 2h2M17 3h2M23 3h1M12 5h2M27 6h1M55 6h1M84 6h2M88 6h1M87 7h1M24 8h1M35 8h1M83 8h2M88 8h1M22 9h2M25 9h1M36 9h1M38 9h1M6 10h1M14 10h1M29 10h1M35 10h1M72 10h3M81 10h1M0 11h2M43 11h1M70 11h1M1 12h1M6 12h1M14 12h1M35 12h1M73 12h1M90 12h1M0 13h1M6 13h1M8 13h1M8 14h3M13 14h1M28 14h1M31 14h1M33 14h1M35 14h1M39 14h3M69 14h1M90 14h1M27 15h2M38 15h1M40 15h1M47 15h1M70 15h1M0 16h1M20 16h1M26 16h2M38 16h1M54 16h1M1 17h1M16 17h1M19 17h2M25 17h1M28 17h1M1 18h2M23 18h1M2 19h2M18 19h1M20 19h1M22 19h1M25 19h1M27 19h1M7 20h2M16 20h3M28 20h1M47 20h1M18 21h1M29 21h1M47 21h1M30 22h1M31 23h1M32 24h2M46 24h3M45 25h1M48 25h2M50 26h1M8 27h2M51 27h2M84 27h1M52 28h1M78 28h1M78 29h1M85 29h1M44 30h1M81 30h2M85 30h1M31 31h1M45 31h1M54 31h1M56 31h2M79 31h3M83 31h2M90 31h1M0 32h1M25 32h1M29 32h1M44 32h1M50 32h1M65 32h1M29 33h1M46 33h1M48 33h2M90 33h1M29 34h1M49 34h1M49 35h1M65 35h1M90 35h1M16 36h1M18 36h1M29 36h1M47 36h1M53 36h2M61 36h1M65 36h1M1 37h1M14 37h1M16 37h2M27 37h1M65 37h1M82 37h1M0 38h1M15 38h1M17 38h1M19 38h1M21 38h1M27 38h1M15 39h1M17 39h2M20 39h1M23 39h1M58 39h1M13 40h1M15 40h1M19 40h1M63 40h1M17 41h1M26 41h1M60 41h1M1 42h2M8 42h1M10 42h1M26 42h2M53 42h1M58 42h1M0 43h1M7 43h1M17 43h1M50 43h2M53 43h1M57 43h3M11 44h2M14 44h1M17 44h1M21 44h1M25 44h1M41 44h1M43 44h3M59 44h2M6 45h1M8 45h1M14 45h1M19 45h1M21 45h1M23 45h2M41 45h1M45 45h1M67 45h1M0 46h1M6 46h2M15 46h1M21 46h1M23 46h1M35 46h1M61 46h3M8 47h1M13 47h1M16 47h1M34 47h1M44 47h1M57 47h1M63 47h1M6 48h1M15 48h1M18 48h1M36 48h1M44 48h1M51 48h1M5 49h2M13 49h1M17 49h2M41 49h1M44 49h2M54 49h1M60 49h1M66 49h1M3 50h1M5 50h1M11 50h1M28 50h1M44 50h1M54 50h1M56 50h3M64 50h1M66 50h2M74 50h1M77 50h1M82 50h3"/><path stroke="#0ea8c0" d="M7 0h1M14 0h1M26 0h1M79 0h1M5 1h1M20 1h1M21 2h1M13 3h1M24 3h1M13 4h1M19 4h1M19 5h1M25 5h1M88 5h1M13 6h1M29 6h1M31 6h1M83 6h1M87 6h1M26 7h1M35 7h1M83 7h2M13 8h1M17 8h1M19 8h1M25 8h1M26 9h2M29 9h2M34 9h1M3 10h1M7 10h1M9 10h1M11 10h1M31 10h1M36 10h2M42 10h1M2 11h1M6 11h1M10 11h1M14 11h1M71 11h2M74 11h1M0 12h1M7 12h2M10 12h2M26 12h1M36 12h1M42 12h1M72 12h1M1 13h1M3 13h2M12 13h3M28 13h2M37 13h1M90 13h1M27 14h1M29 14h2M32 14h1M37 14h1M46 14h1M70 14h1M37 15h1M71 15h1M21 16h1M17 17h2M22 17h1M24 17h1M21 18h2M24 18h1M27 18h1M19 19h1M21 19h1M23 19h1M3 20h2M15 20h1M19 20h1M19 21h1M15 22h1M34 24h1M36 24h2M90 24h1M20 26h1M40 26h1M49 26h1M0 27h1M10 27h1M19 27h1M19 28h1M82 28h1M84 28h1M45 29h1M50 29h2M0 30h1M34 30h1M45 30h1M51 30h1M78 30h1M22 31h1M50 31h2M55 31h1M24 32h1M28 32h1M45 32h1M47 32h1M51 32h1M62 32h1M25 33h1M45 33h1M50 34h1M65 34h1M29 35h1M50 35h1M52 35h1M55 35h2M60 35h1M15 36h1M19 36h1M52 36h1M57 36h1M19 37h3M18 38h1M22 38h1M26 38h1M58 38h1M14 39h1M19 39h1M21 39h1M24 39h1M0 40h1M16 40h3M21 40h1M23 40h2M26 40h1M59 40h1M62 40h1M0 41h2M11 41h6M62 41h1M12 42h1M16 42h2M55 42h1M1 43h1M10 43h1M12 43h1M26 43h1M47 43h2M56 43h1M7 44h2M10 44h1M15 44h2M18 44h1M20 44h1M24 44h1M46 44h1M57 44h1M2 45h2M5 45h1M15 45h2M20 45h1M22 45h1M61 45h1M64 45h3M1 46h1M5 46h1M16 46h1M22 46h1M36 46h2M41 46h1M57 46h1M66 46h1M5 47h3M15 47h1M35 47h2M42 47h2M45 47h1M62 47h1M64 47h1M5 48h1M14 48h1M16 48h1M41 48h2M52 48h1M65 48h1M35 49h1M40 49h1M52 49h1M56 49h4M63 49h1M65 49h1M4 50h1M6 50h2M13 50h1M17 50h1M19 50h1M22 50h1M24 50h1M29 50h1M33 50h3M38 50h1M45 50h2M48 50h2M55 50h1"/><path stroke="#17acb6" d="M8 0h2M14 1h2M14 2h1M20 3h1M22 3h1M17 4h1M24 4h1M14 5h1M19 6h1M30 6h1M33 6h2M13 7h1M27 7h2M16 8h1M26 8h1M34 8h1M14 9h1M28 9h1M33 9h1M4 10h2M8 10h1M30 10h1M33 10h2M7 11h1M11 11h1M27 11h1M35 11h2M42 11h1M2 12h1M5 12h1M9 12h1M27 12h1M29 12h1M37 12h1M71 12h1M9 13h2M27 13h1M34 13h1M40 13h2M38 14h1M71 14h1M22 16h1M24 16h2M0 17h1M23 17h1M0 19h2M26 19h1M0 20h2M20 20h1M24 20h2M12 21h1M14 21h4M24 21h2M29 22h1M0 23h1M15 23h1M23 23h1M0 24h1M35 24h1M9 25h1M33 25h1M90 25h1M9 26h1M33 26h1M48 26h1M90 26h1M18 27h1M26 27h2M40 27h1M50 27h1M1 28h1M40 28h1M51 28h1M79 28h2M83 28h1M0 29h2M19 29h1M35 30h1M83 30h1M0 31h1M30 31h1M52 31h1M17 32h1M26 32h1M46 32h1M49 32h1M52 32h1M63 32h2M50 33h1M62 33h1M65 33h1M51 34h1M60 34h2M53 35h2M57 35h1M64 35h1M1 36h3M14 36h1M17 36h1M20 36h1M28 36h1M64 36h1M22 37h1M26 37h1M58 37h1M60 37h1M14 38h1M20 38h1M23 38h1M64 38h1M0 39h1M12 39h2M22 39h1M26 39h1M59 39h2M63 39h1M11 40h1M22 40h1M25 40h1M9 41h2M18 41h2M21 41h3M25 41h1M11 42h1M14 42h2M18 42h2M25 42h1M54 42h1M6 43h1M11 43h1M14 43h3M19 43h1M21 43h1M25 43h1M49 43h1M52 43h1M55 43h1M0 44h1M2 44h4M22 44h2M53 44h1M0 45h1M4 45h1M40 45h1M43 45h2M46 45h2M52 45h1M57 45h2M42 46h1M50 46h4M55 46h2M58 46h1M60 46h1M65 46h1M37 47h1M49 47h1M51 47h3M56 47h1M58 47h1M37 48h1M45 48h1M49 48h1M53 48h1M55 48h1M57 48h2M61 48h2M64 48h1M14 49h2M39 49h1M46 49h1M49 49h2M55 49h1M61 49h1M64 49h1M12 50h1M14 50h1M20 50h1M23 50h1M36 50h1M47 50h1M50 50h1M65 50h1M78 50h1"/><path stroke="#20b0ac" d="M18 0h1M20 0h2M15 2h1M16 3h1M18 6h1M25 6h2M32 6h1M17 7h2M20 7h1M34 7h1M14 8h1M20 8h1M31 9h2M12 10h2M27 10h1M38 10h1M41 10h1M3 11h2M8 11h2M28 11h1M37 11h1M12 12h2M33 12h1M41 12h1M30 13h1M33 13h1M39 13h1M72 13h2M23 16h1M0 18h1M2 20h1M23 20h1M0 21h1M5 21h1M11 21h1M20 21h1M16 22h1M18 22h1M21 22h1M23 22h2M8 23h1M18 23h1M20 23h2M4 24h1M10 24h1M19 24h1M0 25h1M11 25h1M30 25h3M39 25h1M46 25h1M0 26h1M5 26h2M8 26h1M27 26h1M29 26h2M45 26h1M47 26h1M47 27h3M7 28h2M48 28h3M49 29h1M79 29h1M84 29h1M18 30h1M26 30h1M28 30h1M30 30h1M36 30h2M50 30h1M80 30h1M84 30h1M16 31h2M46 31h1M18 32h1M27 32h1M48 32h1M53 32h1M59 32h3M1 33h1M5 33h1M27 33h2M52 33h1M61 33h1M63 33h1M28 34h1M53 34h1M62 34h3M0 35h1M27 35h2M51 35h1M61 35h3M21 36h1M26 36h2M13 37h1M23 37h1M64 37h1M24 38h2M59 38h2M11 39h1M25 39h1M7 40h1M10 40h1M60 40h2M20 41h1M24 41h1M61 41h1M5 42h2M13 42h1M20 42h2M24 42h1M3 43h1M5 43h1M20 43h1M22 43h1M1 44h1M6 44h1M52 44h1M56 44h1M58 44h1M1 45h1M39 45h1M42 45h1M53 45h1M55 45h2M60 45h1M38 46h1M43 46h2M46 46h1M49 46h1M54 46h1M59 46h1M64 46h1M41 47h1M59 47h3M65 47h1M46 48h1M54 48h1M56 48h1M59 48h2M16 49h1M37 49h2M48 49h1M21 50h1M37 50h1"/><path stroke="#34b4a2" d="M19 0h1M15 3h1M21 3h1M14 4h1M20 4h2M23 4h1M20 5h1M23 5h2M14 6h1M14 7h1M16 7h1M29 7h2M33 7h1M21 8h1M23 8h1M29 8h1M28 10h1M32 10h1M40 10h1M5 11h1M13 11h1M41 11h1M39 12h1M31 13h1M38 13h1M72 14h2M61 15h1M21 20h1M26 20h2M4 21h1M7 21h2M10 21h1M13 21h1M0 22h1M20 22h1M22 22h1M1 23h1M4 23h1M16 23h1M24 23h2M30 23h1M1 24h1M3 24h1M20 24h2M1 25h1M8 25h1M10 25h1M20 25h1M34 25h1M14 26h1M21 26h1M39 26h1M46 26h1M1 27h1M5 27h1M29 27h2M33 27h1M6 28h1M6 30h1M19 30h1M22 30h1M24 30h1M49 30h1M2 31h1M25 31h1M27 31h2M47 31h1M49 31h1M5 32h1M14 32h1M54 32h1M58 32h1M6 33h1M18 33h1M21 33h2M51 33h1M53 33h2M59 33h2M64 33h1M11 34h1M52 34h1M17 35h1M12 36h2M22 36h1M24 36h1M62 36h2M3 37h1M12 37h1M24 37h2M61 37h2M63 38h1M1 40h1M8 40h1M2 41h2M6 41h3M3 42h2M7 42h1M22 42h2M23 43h2M54 43h1M47 44h1M49 44h3M54 44h2M48 45h1M50 45h1M54 45h1M39 46h1M45 46h1M48 46h1M38 47h2M48 47h1M50 47h1M54 47h1M40 48h1M48 48h1M63 48h1M47 49h1"/><path stroke="#48b898" d="M14 3h1M15 4h1M21 5h1M16 6h1M24 6h1M15 7h1M23 7h2M15 8h1M27 8h2M30 8h1M33 8h1M39 10h1M30 11h1M32 11h1M38 11h2M30 12h1M38 12h1M40 12h1M32 13h1M22 20h1M1 21h1M9 21h1M21 21h3M26 21h1M17 22h1M25 22h1M6 23h1M9 23h2M14 23h1M17 23h1M22 23h1M5 24h1M9 24h1M15 24h2M29 24h1M4 25h2M18 25h2M21 25h1M27 25h1M29 25h1M35 25h1M38 25h1M47 25h1M1 26h1M7 26h1M22 26h1M31 26h2M2 28h1M13 28h2M29 28h1M39 28h1M14 29h1M18 29h1M26 29h1M37 29h1M48 29h1M1 30h2M10 30h1M20 30h1M27 30h1M47 30h1M1 31h1M5 31h1M15 31h1M21 31h1M24 31h1M48 31h1M1 32h2M6 32h1M21 32h2M55 32h3M0 33h1M7 33h1M55 33h1M0 34h1M8 34h1M17 34h1M22 34h1M26 34h2M55 34h1M16 35h1M18 35h2M26 35h1M23 36h1M11 37h1M63 37h1M1 39h1M7 39h1M9 39h1M62 39h1M3 40h1M6 40h1M9 40h1M4 43h1M48 44h1M49 45h1M51 45h1M59 45h1M40 46h1M47 46h1M40 47h1M46 47h2M55 47h1M38 48h2M47 48h1M15 50h2"/><path stroke="#62ba8a" d="M22 4h1M15 5h1M17 5h2M22 5h1M84 5h1M15 6h1M17 6h1M22 6h1M31 8h1M32 12h1M2 21h2M27 21h1M5 22h1M8 22h1M26 22h1M5 23h1M7 23h1M11 23h1M2 24h1M11 24h1M14 24h1M17 24h2M25 24h3M30 24h1M59 24h1M6 25h1M14 25h2M22 25h1M28 25h1M28 26h1M2 27h1M21 27h2M25 27h1M28 27h1M31 27h2M22 28h1M27 28h1M31 28h1M33 28h1M36 28h1M2 29h1M6 29h3M27 29h1M29 29h1M31 29h1M82 29h1M7 30h2M16 30h1M23 30h1M29 30h1M6 31h2M13 31h1M23 31h1M23 32h1M23 33h2M26 33h1M1 34h1M12 34h1M25 34h1M54 34h1M2 35h1M9 35h2M23 35h3M10 36h2M25 36h1M6 37h1M5 38h2M8 38h1M10 38h1M6 39h1M61 39h1M2 40h1"/><path stroke="#7cbd7c" d="M16 5h1M23 6h1M32 7h1M31 11h1M40 11h1M31 12h1M45 15h1M21 17h1M1 22h1M4 22h1M10 22h1M12 22h2M27 22h2M3 23h1M12 23h2M74 23h1M6 24h1M8 24h1M12 24h1M24 24h1M3 25h1M7 25h1M17 25h1M24 25h1M26 25h1M36 25h2M2 26h2M15 26h1M3 27h1M14 27h1M39 27h1M5 28h1M28 28h1M30 28h1M46 28h1M13 29h1M30 29h1M32 29h1M34 29h1M5 30h1M9 30h1M13 30h1M48 30h1M14 31h1M18 31h3M3 32h2M13 32h1M2 33h1M17 33h1M20 33h1M2 34h1M4 34h2M7 34h1M10 34h1M23 34h2M6 35h1M6 36h1M9 36h1M5 37h1M7 38h1M5 39h1M5 40h1M11 45h1"/><path stroke="#9cb86c" d="M16 4h1M18 4h1M31 4h1M31 7h1M28 21h1M2 23h1M7 24h1M28 24h1M25 25h1M25 26h2M34 26h2M38 26h1M4 27h1M17 27h1M34 27h2M38 27h1M23 28h2M34 28h2M38 28h1M45 28h1M3 29h1M5 29h1M15 29h1M17 29h1M80 29h1M83 29h1M14 30h2M17 30h1M8 31h1M11 31h1M3 33h2M15 33h2M56 33h1M6 34h1M7 35h2M7 36h2"/><path stroke="#bcb45c" d="M20 6h1M28 6h1M19 7h1M69 13h1M16 16h1M17 18h1M2 22h2M13 24h1M23 24h1M16 26h2M36 26h1M23 27h1M37 27h1M45 27h1M12 28h1M37 28h1M16 29h1M28 29h1M47 29h1M81 29h1M4 30h1M11 30h1M79 30h1M3 31h1M12 31h1M26 31h1M7 32h1M20 32h1M10 33h1M56 34h1M12 35h1M59 35h1M59 36h1M4 37h1M7 37h1M13 38h1M62 38h1M2 43h1"/><path stroke="#d6b64c" d="M20 9h1M26 11h1M30 20h1M29 23h1M23 26h2M6 27h1M12 27h1M24 27h1M36 27h1M46 27h1M3 28h2M15 28h1M20 28h1M32 28h1M22 29h1M31 30h1M4 31h1M29 31h1M35 32h1M15 34h1M4 35h1M4 36h1M2 38h1M4 38h1M10 39h1"/><path stroke="#f0b83c" d="M29 11h1M73 11h1M3 12h1M31 24h1M2 25h1M16 25h1M16 27h1M10 28h1M25 28h2M4 29h1M10 29h1M3 30h1M38 30h1M9 33h1M3 34h1M22 35h1M5 36h1M3 38h1M4 40h1M9 42h1"/><path stroke="#f4c032" d="M21 6h1M34 12h1M6 21h1M28 23h1M12 26h1M37 26h1M13 27h1M15 27h1M9 29h1M12 29h1M20 29h1M46 29h1M32 30h1M39 30h1M8 32h1M16 32h1M13 33h1M57 33h2M5 35h1M59 37h1M9 38h1M4 39h1M4 41h2M13 43h1"/><path stroke="#f8c828" d="M22 7h1M32 8h1M33 11h1M9 22h1M14 22h1M19 23h1M26 23h1M22 24h1M7 27h1M11 27h1M20 27h1M11 28h1M21 28h1M11 29h1M23 29h1M36 29h1M41 30h1M46 30h1M9 31h1M15 32h1M14 33h1M13 34h1M19 34h1M21 34h1M1 35h1M11 35h1M58 36h1M1 38h1M11 38h1"/><path stroke="#f7d423" d="M22 8h1M21 9h1M25 11h1M2 13h1M12 25h1M23 25h1M11 26h1M13 26h1M18 26h2M9 28h1M39 29h1M40 30h1M10 31h1M9 32h1M8 33h1M12 33h1M20 34h1M57 34h1M2 37h1M10 37h1M2 39h1M8 39h1"/><path stroke="#f6e01e" d="M26 10h1M12 11h1M34 11h1M27 23h1M13 25h1M4 26h1M17 28h1M47 28h1M35 29h1M12 30h1M25 30h1M11 32h1M19 32h1M19 33h1M9 34h1M14 34h1M18 34h1M14 35h1M20 35h1M60 36h1M3 39h1"/><path stroke="#f7ec17" d="M25 10h1M6 22h2M18 28h1M21 29h1M24 29h1M33 29h1M10 32h1M12 32h1M11 33h1M16 34h1M58 34h1M13 35h1M21 35h1M58 35h1M8 37h1M12 38h1"/><path stroke="#f8f810" d="M21 7h1M4 12h1M28 12h1M11 22h1M19 22h1M16 28h1M25 29h1M38 29h1M40 29h2M21 30h1M33 30h1M59 34h1M3 35h1M15 35h1M9 37h1M61 38h1"/></g></g></g>
<use href="#gr"/><g clip-path="url(#cp)"><use href="#fl"/></g>
<polygon points="441,329 444.9,341 457.5,341 447.3,348.3 451.2,360.3 441,352.9 430.8,360.3 434.7,348.3 424.5,341 437.1,341" fill="#ff0000"/>
<use href="#fr"/><use href="#lb"/>
<text class="p" x="35.2" y="-29.9">(g)</text>
<text class="h" style="font-size:50.9px" x="402.3" y="-25.4" text-anchor="middle">21−23 April 2021</text>
</g>
<g transform="translate(1230.7,2328) scale(1,1.0079)">
<g clip-path="url(#cp)"><g transform="translate(-4.13,-5.08) scale(8.2656,10.1500)" shape-rendering="crispEdges" fill="none"><rect width="91" height="51" fill="#1292d2"/><g transform="translate(0,.5)"><path stroke="#352a87" d="M14 1h3M30 1h1M32 1h1M11 2h2M2 3h1M5 5h1M8 5h1M13 5h2M4 6h5M10 6h1M13 6h1M15 6h1M7 7h1M11 7h2M62 7h1M66 7h1M72 7h1M6 8h1M10 8h1M12 8h6M40 8h1M44 8h1M61 8h2M69 8h1M72 8h2M4 9h1M6 9h1M8 9h2M15 9h2M18 9h1M45 9h1M64 9h1M66 9h1M4 10h1M7 10h2M12 10h7M20 10h2M25 10h3M49 10h1M7 11h2M10 11h1M12 11h1M14 11h1M27 11h1M7 12h3M11 12h2M15 12h2M18 12h1M25 12h2M35 12h3M51 12h1M81 12h1M14 13h3M18 13h3M25 13h1M27 13h1M33 13h5M55 13h1M64 13h1M14 14h4M20 14h1M31 14h2M34 14h1M37 14h1M40 14h1M50 14h1M83 14h1M8 15h1M14 15h2M30 15h6M64 15h1M83 15h2M10 16h1M31 16h1M35 16h1M11 17h1M13 17h3M50 17h1M70 17h3M13 18h3M48 18h1M60 18h1M70 18h1M72 18h2M14 19h1M16 19h1M69 19h2M70 20h2M73 20h2M70 21h2M73 22h1M55 28h1M42 29h1M55 29h1M51 30h1M53 31h1M53 32h1M53 33h2M51 34h1M51 35h1M19 38h1M9 39h1M78 41h1M84 41h1M77 43h1M11 44h1M5 45h1M13 47h1"/><path stroke="#363096" d="M13 1h1M31 1h1M33 1h1M14 2h2M39 2h1M4 5h1M6 5h1M11 6h1M8 7h1M13 7h1M61 7h1M65 7h1M73 7h1M5 8h1M7 8h2M11 8h1M21 8h1M65 8h4M10 9h1M13 9h2M17 9h1M43 9h2M63 9h1M65 9h1M5 10h1M9 11h1M11 11h1M18 11h1M25 11h1M17 12h1M27 12h1M31 12h4M17 13h1M52 13h1M81 13h1M87 13h1M18 14h2M33 14h1M35 14h2M7 15h1M16 15h1M50 15h1M65 15h2M61 16h1M64 16h1M12 17h1M69 17h1M74 17h1M16 18h1M49 18h1M71 18h1M74 18h1M71 19h2M14 20h1M44 20h1M46 20h1M69 20h1M72 20h1M69 21h1M73 21h1M43 28h2M43 29h1M54 31h1M54 32h1M84 42h1M3 49h1"/><path stroke="#3637a4" d="M33 2h1M14 3h1M14 6h1M7 9h1M11 9h1M9 10h1M11 10h1M19 10h1M26 11h1M67 11h1M63 12h1M89 12h1M26 13h1M32 13h1M63 13h1M82 13h1M48 14h1M67 14h1M84 14h1M11 16h1M48 16h1M48 17h1M62 17h2M10 19h1M13 19h1M50 19h1M72 21h1M74 21h1M72 22h1M66 23h1M60 26h1M52 29h1M46 34h1M88 34h1M83 41h1M77 42h1M5 46h1"/><path stroke="#3240b2" d="M13 2h1M4 4h1M3 5h1M12 6h1M4 7h1M16 7h1M70 7h2M18 8h1M12 9h1M68 11h1M86 11h2M86 13h1M88 13h2M33 16h1M47 16h1M73 17h1M69 18h1M42 19h1M73 19h1M47 23h1M52 30h1M50 31h2M33 33h1M35 33h1M43 34h1M83 40h1M9 42h1M76 42h1M74 44h1"/><path stroke="#2f49c0" d="M12 1h1M0 6h2M6 7h1M20 8h1M21 9h1M46 9h1M47 10h1M10 12h1M50 12h1M88 12h1M50 18h1M11 19h1M65 20h1M41 28h1M32 33h1M8 38h2M11 41h1M72 41h1"/><path stroke="#2652cc" d="M11 1h1M3 4h1M13 4h1M3 7h1M5 7h1M9 8h1M19 9h1M10 10h1M17 11h1M32 16h1M4 17h1M74 19h1M16 27h1M42 28h1M50 30h1M50 33h1M34 34h1M50 34h1M52 34h1M54 34h1M10 41h1M10 42h1M72 43h1M74 43h1M11 46h1"/><path stroke="#1c5ad8" d="M16 2h1M13 3h1M5 4h1M12 4h1M12 5h1M10 7h1M15 7h1M20 9h1M27 9h1M21 11h1M13 12h1M20 12h2M30 16h1M59 16h1M53 29h1M53 30h2M51 32h1M39 34h1M53 34h1M35 41h1M71 41h1M73 41h1M11 42h1M78 43h2M72 44h1M78 44h1M17 50h2M27 50h1"/><path stroke="#1261dc" d="M8 0h2M15 3h1M14 4h1M31 4h1M0 5h1M2 6h2M1 7h1M4 8h1M27 8h1M5 9h1M39 9h2M6 10h1M19 11h2M22 11h1M11 13h1M21 13h1M5 14h1M7 14h1M63 15h1M89 15h1M7 16h2M34 16h1M89 16h2M25 17h1M24 18h1M51 29h1M50 32h1M52 33h1M90 34h1M35 40h1M74 40h1M9 41h1M74 41h2M26 42h1M72 42h1M75 42h1M79 42h1M26 43h1M76 43h1M83 43h1M25 44h1M30 44h1M73 44h1M80 44h1M84 45h1M18 49h1M26 49h2M28 50h1"/><path stroke="#0868e0" d="M54 0h1M76 0h1M3 3h2M2 4h1M6 4h1M7 5h1M11 5h1M16 6h1M2 7h1M14 7h1M27 7h1M19 8h1M26 8h1M39 8h1M41 8h1M22 10h1M28 10h1M40 10h1M28 11h1M22 12h1M4 14h1M6 14h1M8 14h1M9 15h1M13 15h1M90 15h1M54 16h1M88 16h1M21 17h1M35 17h1M89 17h1M25 18h1M35 18h1M1 19h2M73 23h1M54 29h1M14 30h1M55 30h1M52 31h1M51 33h1M50 35h1M27 39h1M71 40h3M82 40h1M6 41h1M34 41h1M79 41h1M71 42h1M73 42h1M78 42h1M3 43h1M27 43h2M71 43h1M84 43h1M75 44h3M79 44h1M81 44h1M84 44h1M72 45h1M83 45h1M85 45h1M84 46h1M7 47h1M32 47h1M28 49h1M19 50h1M26 50h1M86 50h1"/><path stroke="#0a6ede" d="M2 0h1M0 1h1M54 1h1M0 2h1M3 2h1M30 2h1M0 3h1M10 3h1M12 3h1M30 3h1M7 4h1M11 4h1M10 5h1M9 6h1M0 8h1M22 9h1M28 9h1M39 10h1M41 10h1M40 11h1M44 11h1M6 13h2M10 13h1M22 13h1M31 13h1M41 13h1M9 14h1M12 14h1M25 14h1M66 14h1M88 14h1M5 15h2M25 15h2M43 15h1M60 15h1M87 15h2M6 16h1M26 16h1M9 17h1M20 17h1M24 17h1M34 17h1M59 17h1M3 18h1M11 18h1M47 18h1M15 19h1M45 19h1M47 19h1M72 23h1M72 24h2M90 33h1M53 35h2M90 35h1M26 39h1M28 39h1M34 39h1M27 40h1M70 40h1M84 40h1M85 41h1M4 42h1M6 42h1M12 42h1M35 42h1M81 42h3M29 43h2M73 43h1M75 43h1M80 43h1M7 44h1M70 44h2M82 44h2M85 44h1M30 45h1M34 45h1M73 45h1M31 46h1M33 46h3M83 46h1M85 46h1M18 47h2M33 47h1M16 49h2M56 49h1M33 50h1M85 50h1M87 50h1"/><path stroke="#0d74dc" d="M7 0h1M11 0h1M16 0h1M19 0h2M53 0h1M75 0h1M1 1h3M8 1h3M21 1h1M53 1h1M9 2h1M19 2h1M5 3h1M11 3h1M16 3h1M0 4h1M10 4h1M15 4h1M32 4h1M1 5h2M9 5h1M15 5h1M31 5h1M25 6h1M0 7h1M9 7h1M24 7h1M26 7h1M40 7h1M42 7h1M74 7h1M2 8h2M22 8h1M24 8h1M28 8h1M42 8h2M75 8h1M23 9h4M41 9h2M59 9h1M23 10h1M43 10h2M60 10h1M23 11h1M43 11h1M59 11h1M19 12h1M23 12h2M40 12h3M47 12h1M5 13h1M12 13h1M24 13h1M11 14h1M21 14h1M24 14h1M26 14h1M42 14h2M52 14h1M87 14h1M27 15h1M44 15h1M53 15h1M56 15h1M68 15h1M86 15h1M9 16h1M13 16h1M25 16h1M36 16h1M49 16h2M58 16h1M60 16h1M65 16h1M87 16h1M7 17h1M36 17h1M49 17h1M81 17h1M87 17h1M90 17h1M0 18h1M2 18h1M36 18h1M82 18h1M84 18h1M0 19h1M3 19h1M35 19h2M49 19h1M0 20h1M49 20h1M68 20h1M68 21h1M70 22h1M74 22h1M67 23h1M71 23h1M53 28h1M52 32h1M49 34h1M49 35h1M52 35h1M85 35h1M18 36h1M53 36h2M24 37h1M23 38h1M27 38h1M43 38h1M69 38h1M31 39h1M35 39h1M71 39h2M83 39h1M5 40h1M26 40h1M34 40h1M41 40h1M2 41h4M8 41h1M12 41h1M20 41h1M26 41h1M36 41h1M76 41h1M3 42h1M5 42h1M7 42h1M24 42h2M27 42h1M34 42h1M9 43h1M25 43h1M31 43h1M33 43h1M70 43h1M82 43h1M4 44h1M26 44h2M29 44h1M31 44h1M34 44h1M7 45h1M25 45h2M32 45h2M71 45h1M82 45h1M2 46h1M4 46h1M6 46h1M8 46h1M19 46h1M32 46h1M8 47h1M12 47h1M35 47h1M84 47h1M6 48h1M18 48h1M26 48h1M32 48h1M56 48h1M2 49h1M15 49h1M29 49h1M36 49h1M16 50h1M29 50h1M56 50h1M71 50h1"/><path stroke="#107ada" d="M0 0h2M10 0h1M13 0h3M18 0h1M21 0h1M38 0h2M55 0h1M77 0h1M17 1h2M52 1h1M1 2h2M4 2h1M17 2h1M20 2h1M31 2h1M38 2h1M9 3h1M1 4h1M8 4h2M16 5h1M25 5h1M32 5h1M39 7h1M23 8h1M25 8h1M59 8h1M71 8h1M74 8h1M1 9h1M60 9h1M76 9h1M0 10h1M24 10h1M42 10h1M59 10h1M61 10h1M0 11h1M24 11h1M39 11h1M41 11h1M47 11h1M45 12h2M9 13h1M13 13h1M40 13h1M51 13h1M66 13h3M10 14h1M13 14h1M23 14h1M39 14h1M44 14h2M53 14h3M64 14h2M68 14h2M24 15h1M28 15h1M36 15h1M49 15h1M52 15h1M55 15h1M59 15h1M14 16h1M20 16h1M43 16h1M51 16h1M53 16h1M55 16h1M82 16h1M86 16h1M8 17h1M10 17h1M26 17h1M30 17h1M32 17h2M47 17h1M52 17h1M54 17h2M60 17h1M82 17h1M85 17h1M88 17h1M1 18h1M6 18h1M9 18h2M12 18h1M20 18h2M34 18h1M45 18h1M53 18h2M64 18h1M67 18h1M90 18h1M4 19h1M24 19h1M40 19h2M43 19h2M67 19h1M31 20h1M41 20h2M67 20h1M67 21h1M75 21h1M67 22h2M75 22h1M70 23h1M74 23h1M85 23h1M74 24h1M72 25h2M54 28h1M50 29h1M56 30h1M17 31h1M55 31h1M67 32h1M89 33h1M55 34h1M89 34h1M18 35h1M80 35h1M88 35h1M17 36h1M19 36h1M23 36h1M18 37h1M22 37h2M43 37h2M11 38h1M32 38h1M35 38h1M42 38h1M44 38h1M70 38h1M32 39h1M42 39h1M44 39h1M69 39h2M73 39h2M3 40h1M6 40h1M10 40h2M21 40h1M28 40h1M36 40h1M42 40h1M69 40h1M78 40h1M7 41h1M13 41h1M19 41h1M21 41h1M33 41h1M41 41h1M45 41h2M70 41h1M80 41h1M82 41h1M2 42h1M8 42h1M28 42h1M70 42h1M74 42h1M5 43h1M7 43h1M12 43h2M34 43h1M81 43h1M85 43h1M5 44h1M9 44h1M12 44h1M28 44h1M32 44h1M44 44h1M4 45h1M29 45h1M31 45h1M35 45h1M40 45h1M43 45h3M74 45h2M77 45h3M81 45h1M86 45h1M3 46h1M12 46h1M26 46h2M3 47h3M26 47h1M31 47h1M34 47h1M44 47h1M90 47h1M5 48h1M7 48h3M17 48h1M27 48h1M33 48h3M40 48h1M1 49h1M19 49h1M25 49h1M32 49h1M34 49h2M40 49h1M85 49h1M4 50h2M14 50h2M25 50h1M55 50h1M57 50h1M84 50h1"/><path stroke="#1480d8" d="M12 0h1M22 0h1M34 0h1M41 0h1M51 0h2M74 0h1M78 0h1M29 1h1M38 1h1M51 1h1M55 1h1M8 2h1M10 2h1M37 2h1M65 2h1M1 3h1M6 3h1M29 3h1M31 3h2M64 3h1M30 4h1M46 4h2M30 5h1M33 5h1M24 6h1M26 6h2M42 6h1M55 6h1M73 6h1M75 6h1M17 7h1M22 7h2M25 7h1M41 7h1M43 7h1M58 7h1M75 7h2M60 8h1M70 8h1M76 8h1M0 9h1M67 9h2M72 9h2M75 9h1M45 10h1M63 10h1M67 10h1M1 11h1M6 11h1M42 11h1M60 11h1M28 12h1M38 12h2M64 12h1M67 12h2M82 12h1M23 13h1M46 13h1M50 13h1M54 13h1M56 13h1M22 14h1M27 14h1M29 14h1M41 14h1M51 14h1M56 14h1M60 14h1M89 14h1M0 15h1M12 15h1M19 15h1M29 15h1M42 15h1M45 15h1M51 15h1M67 15h1M81 15h2M85 15h1M12 16h1M24 16h1M27 16h1M37 16h1M44 16h1M46 16h1M52 16h1M66 16h2M81 16h1M83 16h1M85 16h1M27 17h1M31 17h1M44 17h1M53 17h1M58 17h1M64 17h5M80 17h1M83 17h2M4 18h1M23 18h1M33 18h1M37 18h1M44 18h1M63 18h1M65 18h2M68 18h1M83 18h1M85 18h5M5 19h1M32 19h1M34 19h1M37 19h1M46 19h1M48 19h1M64 19h1M68 19h1M83 19h3M15 20h1M43 20h1M48 20h1M85 20h2M49 21h1M66 21h1M85 21h1M69 22h1M71 22h1M68 23h1M84 23h1M50 24h1M71 24h1M74 25h1M73 26h1M42 27h1M73 27h1M52 28h1M56 28h1M87 28h1M43 30h1M19 31h1M66 32h1M30 33h1M55 33h1M30 34h1M86 34h2M28 35h2M40 35h1M55 35h1M84 35h1M86 35h2M42 36h1M79 36h2M89 36h2M16 37h2M19 37h1M28 37h1M37 37h1M41 37h2M45 37h5M67 37h2M71 37h1M79 37h1M10 38h1M22 38h1M28 38h1M30 38h1M36 38h1M41 38h1M49 38h1M68 38h1M72 38h1M79 38h1M0 39h1M10 39h2M29 39h1M33 39h1M36 39h2M41 39h1M68 39h1M82 39h1M84 39h1M2 40h1M4 40h1M33 40h1M43 40h3M68 40h1M75 40h1M81 40h1M1 41h1M27 41h1M29 41h1M42 41h1M49 41h1M77 41h1M13 42h2M19 42h2M29 42h2M33 42h1M36 42h2M40 42h2M45 42h1M80 42h1M85 42h1M2 43h1M8 43h1M10 43h1M24 43h1M36 43h1M40 43h1M44 43h3M2 44h2M8 44h1M10 44h1M24 44h1M33 44h1M39 44h1M6 45h1M11 45h2M18 45h2M52 45h1M70 45h1M76 45h1M80 45h1M7 46h1M30 46h1M39 46h3M44 46h3M74 46h1M81 46h1M86 46h1M90 46h1M1 47h2M6 47h1M9 47h1M17 47h1M27 47h1M30 47h1M40 47h1M42 47h1M45 47h1M55 47h2M3 48h1M10 48h1M12 48h1M14 48h2M19 48h1M36 48h1M39 48h1M42 48h1M57 48h1M7 49h1M11 49h4M33 49h1M38 49h1M55 49h1M57 49h1M70 49h3M86 49h1M3 50h1M6 50h1M13 50h1M24 50h1M30 50h1M36 50h1M40 50h1M69 50h2M72 50h2M88 50h1"/><path stroke="#1486d6" d="M3 0h1M28 0h1M33 0h1M37 0h1M40 0h1M50 0h1M64 0h3M80 0h1M7 1h1M37 1h1M39 1h2M65 1h1M75 1h3M18 2h1M21 2h1M29 2h1M36 2h1M51 2h5M64 2h1M8 3h1M37 3h2M46 3h2M58 3h2M16 4h1M33 4h1M37 4h2M48 4h1M57 4h1M24 5h1M27 5h1M37 5h1M90 5h1M17 6h1M23 6h1M28 6h1M30 6h1M39 6h1M43 6h1M76 6h2M90 6h1M28 7h1M44 7h1M1 8h1M38 8h1M77 8h1M3 9h1M38 9h1M61 9h1M71 9h1M77 9h1M84 9h1M90 9h1M1 10h1M38 10h1M51 10h1M62 10h1M29 11h1M38 11h1M45 11h2M49 11h4M58 11h1M61 11h1M6 12h1M29 12h1M43 12h2M48 12h2M55 12h1M59 12h2M65 12h2M80 12h1M3 13h1M8 13h1M29 13h1M39 13h1M42 13h4M59 13h1M65 13h1M0 14h2M38 14h1M46 14h1M49 14h1M59 14h1M61 14h1M81 14h1M86 14h1M1 15h1M4 15h1M10 15h2M17 15h1M20 15h2M23 15h1M37 15h1M41 15h1M46 15h1M48 15h1M54 15h1M61 15h1M69 15h1M5 16h1M19 16h1M29 16h1M45 16h1M68 16h1M80 16h1M5 17h2M19 17h1M22 17h1M28 17h1M46 17h1M51 17h1M61 17h1M79 17h1M86 17h1M5 18h1M7 18h1M19 18h1M22 18h1M26 18h1M31 18h2M38 18h1M46 18h1M55 18h1M59 18h1M61 18h2M81 18h1M9 19h1M12 19h1M21 19h2M30 19h1M39 19h1M53 19h2M65 19h2M86 19h3M1 20h2M13 20h1M22 20h1M30 20h1M32 20h1M38 20h2M45 20h1M47 20h1M76 20h1M84 20h1M30 21h2M48 21h1M50 21h1M57 21h1M76 21h1M86 21h1M49 22h1M76 22h1M84 22h2M50 23h1M86 23h1M51 24h1M67 24h1M57 25h2M57 26h1M59 26h1M72 26h1M74 26h1M85 26h2M41 27h1M51 28h1M80 28h1M85 28h1M41 29h1M56 29h1M58 29h1M85 29h1M44 30h1M18 31h1M49 31h1M66 31h1M87 31h1M30 32h1M49 32h1M86 32h1M90 32h1M29 33h1M49 33h1M65 33h1M86 33h3M28 34h1M80 34h1M83 34h3M17 35h1M19 35h1M30 35h1M36 35h1M39 35h1M41 35h2M64 35h2M89 35h1M16 36h1M22 36h1M24 36h1M28 36h2M37 36h5M43 36h1M47 36h2M50 36h1M52 36h1M68 36h2M78 36h1M85 36h1M12 37h1M14 37h2M20 37h1M25 37h1M27 37h1M31 37h1M33 37h1M35 37h1M54 37h1M66 37h1M69 37h2M78 37h1M89 37h1M4 38h1M12 38h1M16 38h1M18 38h1M24 38h2M31 38h1M33 38h2M45 38h1M48 38h1M50 38h1M67 38h1M71 38h1M3 39h3M7 39h2M12 39h1M18 39h2M21 39h3M25 39h1M30 39h1M43 39h1M45 39h1M78 39h3M85 39h2M0 40h2M8 40h2M18 40h1M20 40h1M29 40h1M31 40h1M46 40h1M58 40h1M79 40h2M85 40h2M14 41h1M18 41h1M28 41h1M44 41h1M50 41h1M62 41h1M86 41h1M1 42h1M21 42h3M44 42h1M46 42h1M50 42h1M87 42h1M4 43h1M6 43h1M11 43h1M23 43h1M32 43h1M35 43h1M38 43h2M41 43h1M43 43h1M51 43h1M0 44h1M13 44h1M35 44h2M41 44h1M43 44h1M69 44h1M86 44h1M88 44h1M0 45h4M8 45h1M13 45h1M27 45h2M39 45h1M41 45h2M46 45h2M51 45h1M69 45h1M1 46h1M18 46h1M20 46h1M23 46h1M25 46h1M28 46h2M42 46h2M52 46h1M68 46h2M73 46h1M80 46h1M82 46h1M39 47h1M41 47h1M43 47h1M57 47h1M68 47h2M82 47h2M85 47h1M89 47h1M2 48h1M4 48h1M11 48h1M13 48h1M20 48h1M28 48h1M31 48h1M41 48h1M44 48h1M55 48h1M84 48h1M90 48h1M0 49h1M4 49h2M8 49h1M30 49h2M39 49h1M44 49h3M69 49h1M84 49h1M87 49h1M2 50h1M31 50h2M35 50h1M39 50h1M58 50h1"/><path stroke="#138cd4" d="M4 0h1M17 0h1M23 0h1M29 0h1M56 0h1M70 0h1M73 0h1M84 0h1M22 1h1M28 1h1M41 1h1M44 1h1M56 1h1M67 1h4M84 1h1M6 2h1M28 2h1M40 2h2M44 2h1M46 2h1M58 2h1M63 2h1M66 2h1M76 2h1M7 3h1M17 3h1M25 3h1M43 3h1M45 3h1M57 3h1M63 3h1M65 3h1M24 4h2M27 4h1M29 4h1M34 4h1M36 4h1M45 4h1M56 4h1M58 4h1M63 4h3M23 5h1M28 5h2M34 5h1M38 5h1M47 5h1M56 5h2M64 5h1M38 6h1M54 6h1M56 6h3M55 7h3M59 7h1M64 7h1M67 7h1M69 7h1M90 7h1M58 8h1M63 8h1M78 8h1M2 9h1M62 9h1M69 9h2M79 9h1M89 9h1M29 10h1M50 10h1M53 10h1M68 10h1M85 10h1M13 11h1M15 11h2M48 11h1M53 11h1M62 11h3M80 11h1M82 11h1M88 11h1M2 12h1M4 12h2M52 12h3M56 12h1M58 12h1M83 12h1M4 13h1M38 13h1M47 13h2M53 13h1M61 13h1M80 13h1M83 13h1M28 14h1M30 14h1M80 14h1M38 15h3M57 15h2M70 15h2M0 16h1M21 16h1M28 16h1M42 16h1M56 16h2M63 16h1M70 16h2M84 16h1M3 17h1M23 17h1M37 17h1M43 17h1M45 17h1M77 17h2M8 18h1M29 18h1M43 18h1M51 18h1M79 18h1M19 19h2M23 19h1M25 19h1M31 19h1M33 19h1M38 19h1M60 19h4M90 19h1M3 20h1M12 20h1M16 20h1M18 20h1M21 20h1M35 20h2M40 20h1M58 20h1M66 20h1M89 20h1M15 21h2M83 21h2M90 21h1M48 22h1M50 22h1M52 22h2M62 22h1M66 22h1M77 22h1M89 22h1M30 23h1M49 23h1M51 23h5M69 23h1M75 23h1M78 23h2M83 23h1M49 24h1M52 24h2M62 24h1M66 24h1M68 24h1M70 24h1M75 24h1M85 24h1M52 25h1M63 25h2M67 25h1M71 25h1M75 25h1M85 25h1M55 26h2M62 26h3M63 27h1M74 27h2M80 27h1M84 27h2M87 27h1M74 28h1M76 28h1M78 28h2M86 28h1M90 28h1M44 29h1M57 29h1M59 29h1M84 29h1M86 29h2M90 29h1M17 30h1M49 30h1M60 30h1M85 30h1M87 30h1M90 30h1M0 31h1M16 31h1M29 31h1M67 31h1M0 32h1M18 32h1M22 32h2M26 32h1M31 32h1M42 32h2M55 32h1M65 32h1M87 32h3M0 33h1M16 33h2M27 33h1M36 33h1M42 33h1M66 33h2M76 33h1M82 33h1M15 34h3M29 34h1M31 34h1M35 34h2M40 34h2M48 34h1M66 34h2M81 34h1M16 35h1M37 35h2M43 35h1M46 35h3M66 35h1M79 35h1M81 35h1M12 36h3M26 36h2M36 36h1M45 36h2M49 36h1M65 36h1M67 36h1M77 36h1M86 36h3M2 37h2M10 37h2M13 37h1M21 37h1M26 37h1M29 37h2M38 37h2M50 37h1M52 37h2M65 37h1M77 37h1M80 37h1M0 38h1M2 38h1M6 38h1M15 38h1M17 38h1M20 38h1M26 38h1M29 38h1M37 38h1M40 38h1M46 38h2M51 38h1M53 38h1M73 38h2M78 38h1M80 38h1M85 38h1M1 39h1M13 39h1M24 39h1M40 39h1M7 40h1M12 40h1M16 40h2M22 40h1M30 40h1M37 40h1M40 40h1M49 40h1M59 40h1M63 40h1M88 40h1M15 41h2M25 41h1M30 41h1M32 41h1M37 41h1M47 41h2M51 41h1M59 41h1M61 41h1M87 41h1M31 42h2M42 42h1M48 42h2M51 42h2M69 42h1M1 43h1M14 43h1M42 43h1M50 43h1M52 43h3M69 43h1M86 43h2M90 43h1M6 44h1M14 44h2M19 44h1M37 44h2M40 44h1M45 44h4M50 44h3M59 44h1M89 44h1M10 45h1M14 45h2M17 45h1M24 45h1M36 45h1M48 45h1M50 45h1M60 45h2M0 46h1M10 46h1M13 46h1M17 46h1M47 46h1M55 46h2M72 46h1M75 46h1M77 46h2M89 46h1M0 47h1M10 47h1M14 47h1M16 47h1M20 47h1M25 47h1M28 47h2M36 47h1M46 47h1M75 47h2M81 47h1M1 48h1M16 48h1M24 48h2M29 48h2M37 48h1M45 48h2M58 48h1M69 48h1M85 48h1M6 49h1M20 49h1M24 49h1M43 49h1M58 49h1M88 49h2M0 50h2M11 50h2M22 50h1M34 50h1M37 50h2M41 50h1M44 50h4"/><path stroke="#1098d0" d="M27 0h1M31 0h2M35 0h1M47 0h1M49 0h1M63 0h1M85 0h1M6 1h1M23 1h2M34 1h2M48 1h1M50 1h1M81 1h2M90 1h1M23 2h1M42 2h1M48 2h1M50 2h1M56 2h1M68 2h1M72 2h1M77 2h1M84 2h2M19 3h2M22 3h2M28 3h1M33 3h1M35 3h2M44 3h1M49 3h2M53 3h1M60 3h1M71 3h1M73 3h1M18 4h1M23 4h1M39 4h1M42 4h1M49 4h1M59 4h1M66 4h1M72 4h1M75 4h2M22 5h1M36 5h1M42 5h2M45 5h1M58 5h2M62 5h2M65 5h1M32 6h1M59 6h2M65 6h2M71 6h2M78 6h1M81 6h1M89 6h1M19 7h1M47 7h1M53 7h1M68 7h1M78 7h2M82 7h2M29 8h1M45 8h1M53 8h1M57 8h1M79 8h1M83 8h2M51 9h3M74 9h1M81 9h3M85 9h2M2 10h2M46 10h1M54 10h1M66 10h1M70 10h1M72 10h1M75 10h3M82 10h2M89 10h1M3 11h2M35 11h1M37 11h1M54 11h1M84 11h2M1 12h1M69 12h1M79 12h1M79 13h1M47 14h1M71 14h1M79 14h1M18 15h1M22 15h1M75 15h1M77 15h1M80 15h1M4 16h1M15 16h1M17 16h1M74 16h2M78 16h1M16 17h1M42 17h1M56 17h1M76 17h1M17 18h1M27 18h1M40 18h1M42 18h1M56 18h1M80 18h1M7 19h1M55 19h1M57 19h1M77 19h1M80 19h1M17 20h1M23 20h3M51 20h1M54 20h1M60 20h1M62 20h1M64 20h1M75 20h1M78 20h1M83 20h1M13 21h1M39 21h3M43 21h2M47 21h1M51 21h2M62 21h1M77 21h5M87 21h2M16 22h1M18 22h2M29 22h1M43 22h4M56 22h1M60 22h2M65 22h1M87 22h1M17 23h1M19 23h1M60 23h2M65 23h1M77 23h1M89 23h1M11 24h1M44 24h1M57 24h3M61 24h1M64 24h1M77 24h1M79 24h1M86 24h1M89 24h1M53 25h1M62 25h1M66 25h1M68 25h1M81 25h1M84 25h1M87 25h1M90 25h1M53 26h2M67 26h1M75 26h1M78 26h2M82 26h1M51 27h1M54 27h2M58 27h2M67 27h1M72 27h1M76 27h1M78 27h1M89 27h1M57 28h2M62 28h2M65 28h1M67 28h1M77 28h1M81 28h1M83 28h1M89 28h1M45 29h1M49 29h1M67 29h2M76 29h3M80 29h1M83 29h1M16 30h1M19 30h1M41 30h1M45 30h1M58 30h1M68 30h1M73 30h1M78 30h1M81 30h1M83 30h2M88 30h1M1 31h1M23 31h3M28 31h1M30 31h1M34 31h2M42 31h1M44 31h2M56 31h1M58 31h1M65 31h1M81 31h2M86 31h1M16 32h1M28 32h1M33 32h1M63 32h1M74 32h1M83 32h1M14 33h1M20 33h2M23 33h1M34 33h1M37 33h2M40 33h1M44 33h1M79 33h1M13 34h1M37 34h2M47 34h1M68 34h1M70 34h1M75 34h1M13 35h3M22 35h1M27 35h1M32 35h1M34 35h2M44 35h2M63 35h1M67 35h2M20 36h2M31 36h1M51 36h1M55 36h1M61 36h3M71 36h1M75 36h1M0 37h2M4 37h1M7 37h1M61 37h1M64 37h1M73 37h1M83 37h1M87 37h1M90 37h1M5 38h1M14 38h1M39 38h1M52 38h1M59 38h1M63 38h1M65 38h1M77 38h1M83 38h1M88 38h1M2 39h1M6 39h1M46 39h2M51 39h2M60 39h1M64 39h1M77 39h1M81 39h1M89 39h1M23 40h2M38 40h1M61 40h1M77 40h1M87 40h1M0 41h1M22 41h1M24 41h1M31 41h1M38 41h2M52 41h2M58 41h1M64 41h1M90 41h1M16 42h3M53 42h3M59 42h1M64 42h2M67 42h1M86 42h1M88 42h1M17 43h5M48 43h1M56 43h1M59 43h1M64 43h2M89 43h1M20 44h2M54 44h2M61 44h1M63 44h1M66 44h1M90 44h1M22 45h2M49 45h1M54 45h1M56 45h2M62 45h1M89 45h2M14 46h1M24 46h1M38 46h1M51 46h1M54 46h1M57 46h1M71 46h1M76 46h1M11 47h1M23 47h2M54 47h1M67 47h1M71 47h1M73 47h1M77 47h2M86 47h2M75 48h2M88 48h1M9 49h1M59 49h1M66 49h2M73 49h3M77 49h1M90 49h1M8 50h1M10 50h1M21 50h1M60 50h1M76 50h1M90 50h1"/><path stroke="#0c9cce" d="M24 0h2M44 0h1M48 0h1M57 0h2M61 0h2M69 0h1M71 0h1M83 0h1M25 1h1M27 1h1M36 1h1M42 1h2M45 1h3M49 1h1M59 1h1M61 1h2M72 1h2M80 1h1M22 2h1M24 2h4M34 2h2M49 2h1M62 2h1M69 2h2M73 2h2M83 2h1M89 2h1M21 3h1M24 3h1M26 3h1M34 3h1M39 3h1M42 3h1M52 3h1M62 3h1M67 3h1M70 3h1M74 3h3M89 3h2M51 4h2M54 4h1M71 4h1M73 4h2M78 4h1M18 5h1M35 5h1M46 5h1M49 5h1M60 5h1M66 5h1M71 5h4M78 5h3M83 5h1M89 5h1M37 6h1M47 6h1M63 6h1M67 6h2M70 6h1M80 6h1M82 6h1M30 7h1M45 7h2M48 7h1M80 7h1M84 7h1M89 7h1M80 8h1M85 8h1M88 8h1M48 9h1M50 9h1M54 9h3M87 9h1M37 10h1M81 10h1M30 11h1M56 11h2M69 11h1M89 11h1M30 12h1M62 12h1M85 12h1M57 13h1M78 13h1M72 14h2M62 15h1M74 15h1M76 15h1M1 16h1M2 17h1M40 17h2M18 18h1M28 18h1M76 18h2M26 19h1M29 19h1M51 19h1M56 19h1M75 19h2M4 20h3M10 20h1M26 20h1M52 20h2M55 20h1M61 20h1M81 20h1M87 20h1M0 21h1M17 21h4M24 21h1M29 21h1M33 21h2M37 21h1M54 21h3M61 21h1M89 21h1M15 22h1M17 22h1M38 22h1M59 22h1M63 22h1M81 22h1M88 22h1M18 23h1M29 23h1M32 23h1M37 23h1M45 23h2M56 23h3M87 23h1M0 24h1M45 24h1M48 24h1M60 24h1M65 24h1M69 24h1M78 24h1M81 24h3M90 24h1M11 25h1M44 25h1M49 25h2M54 25h1M69 25h1M76 25h1M79 25h1M43 26h1M51 26h2M65 26h2M68 26h2M71 26h1M76 26h2M83 26h2M88 26h1M44 27h1M60 27h2M77 27h1M82 27h2M90 27h1M34 28h1M50 28h1M60 28h2M66 28h1M69 28h1M72 28h1M82 28h1M17 29h1M28 29h1M62 29h1M65 29h2M73 29h1M5 30h2M28 30h1M47 30h2M62 30h1M72 30h1M76 30h1M79 30h1M82 30h1M31 31h1M57 31h1M62 31h1M68 31h1M72 31h1M79 31h1M84 31h2M13 32h2M37 32h1M41 32h1M62 32h1M73 32h1M75 32h2M79 32h2M84 32h1M13 33h1M18 33h2M22 33h1M26 33h1M39 33h1M46 33h3M74 33h1M14 34h1M19 34h2M25 34h1M32 34h2M44 34h2M61 34h1M64 34h1M77 34h2M12 35h1M20 35h1M23 35h1M71 35h1M82 35h1M11 36h1M32 36h4M60 36h1M72 36h1M82 36h1M6 37h1M34 37h1M60 37h1M63 37h1M75 37h2M82 37h1M84 37h3M58 38h1M61 38h2M64 38h1M87 38h1M89 38h1M14 39h1M39 39h1M61 39h3M53 40h2M57 40h1M60 40h1M65 40h1M54 41h2M65 41h2M68 41h2M0 42h1M56 42h1M58 42h1M60 42h1M0 43h1M16 43h1M22 43h1M58 43h1M67 43h1M16 44h1M22 44h1M53 44h1M57 44h2M62 44h1M67 44h1M87 44h1M37 45h1M88 45h1M21 46h1M48 46h1M67 46h1M15 47h1M22 47h1M38 47h1M47 47h1M52 47h2M58 47h1M74 47h1M79 47h2M21 48h3M47 48h1M54 48h1M66 48h1M73 48h2M82 48h1M86 48h1M21 49h3M48 49h1M54 49h1M76 49h1M7 50h1M23 50h1M49 50h1M62 50h1M67 50h1M77 50h1M80 50h1"/><path stroke="#08a0cc" d="M5 0h1M43 0h1M46 0h1M88 0h1M26 1h1M79 1h1M86 1h4M60 2h2M82 2h1M87 2h2M90 2h1M41 3h1M61 3h1M77 3h1M19 4h1M22 4h1M60 4h1M62 4h1M77 4h1M79 4h1M83 4h1M40 5h2M51 5h1M61 5h1M75 5h1M34 6h1M45 6h2M48 6h1M52 6h1M83 6h1M20 7h1M29 7h1M52 7h1M46 8h1M49 8h1M51 8h2M54 8h1M56 8h1M82 8h1M57 10h1M73 10h2M31 11h1M70 11h1M72 11h1M90 11h1M70 12h1M70 13h1M73 13h1M74 14h1M78 14h1M78 15h1M2 16h2M18 16h1M23 16h1M40 16h1M62 16h1M17 17h1M75 17h1M75 18h1M28 19h1M27 20h1M56 20h1M79 20h2M1 21h1M12 21h1M21 21h3M36 21h1M46 21h1M0 22h2M20 22h1M32 22h1M37 22h1M39 22h1M42 22h1M47 22h1M64 22h1M80 22h1M1 23h3M5 23h1M10 23h1M43 23h1M63 23h2M80 23h2M88 23h1M1 24h1M10 24h1M19 24h1M32 24h1M43 24h1M54 24h2M76 24h1M80 24h1M88 24h1M0 25h1M10 25h1M43 25h1M70 25h1M77 25h1M82 25h1M88 25h1M0 26h1M50 26h1M89 26h1M69 27h3M15 28h2M33 28h1M40 28h1M49 28h1M19 29h1M47 29h2M63 29h2M71 29h1M82 29h1M0 30h1M15 30h1M29 30h1M40 30h1M46 30h1M63 30h2M69 30h1M71 30h1M77 30h1M80 30h1M14 31h2M33 31h1M40 31h2M48 31h1M59 31h3M63 31h2M75 31h4M1 32h1M4 32h1M12 32h1M24 32h1M39 32h2M45 32h2M71 32h2M78 32h1M25 33h1M61 33h3M70 33h2M73 33h1M78 33h1M21 34h2M24 34h1M63 34h1M71 34h1M74 34h1M21 35h1M24 35h1M26 35h1M33 35h1M60 35h3M72 35h1M76 35h2M2 36h2M7 36h2M56 36h1M73 36h1M76 36h1M83 36h1M5 37h1M58 37h2M74 37h1M76 38h1M90 38h1M54 39h1M76 39h1M88 39h1M89 40h1M56 41h1M57 42h1M68 42h1M88 43h1M64 44h1M58 45h2M64 45h1M67 45h1M15 46h1M22 46h1M37 46h1M49 46h2M51 47h1M0 48h1M59 48h1M72 48h1M79 49h1M9 50h1M50 50h1M61 50h1"/><path stroke="#0ba4c6" d="M45 0h1M59 0h2M86 0h2M5 1h1M60 1h1M78 2h1M80 2h2M86 2h1M69 3h1M81 3h2M88 3h1M40 4h2M61 4h1M67 4h1M69 4h1M82 4h1M89 4h1M50 5h1M52 5h3M68 5h3M81 5h2M21 6h1M35 6h2M51 6h1M53 6h1M79 6h1M84 6h1M31 7h1M37 7h1M49 7h1M51 7h1M85 7h2M88 7h1M37 8h1M50 8h1M86 8h1M49 9h1M55 10h1M33 11h1M71 11h1M73 11h1M76 11h1M77 12h1M86 12h1M90 13h1M76 14h2M16 16h1M7 20h1M9 20h1M28 20h1M2 21h1M25 21h1M35 21h1M82 21h1M2 22h1M21 22h1M23 22h1M40 22h1M0 23h1M4 23h1M6 23h1M12 23h4M20 23h1M33 23h1M2 24h1M12 24h2M17 24h1M30 24h1M36 24h1M47 24h1M87 24h1M5 25h1M23 25h1M42 25h1M48 25h1M78 25h1M80 25h1M24 26h2M41 26h2M48 26h1M70 26h1M90 26h1M48 27h1M17 28h3M21 28h1M25 28h1M45 28h1M70 28h2M0 29h1M8 29h1M16 29h1M18 29h1M46 29h1M69 29h2M1 30h1M7 30h1M10 30h1M22 30h2M25 30h3M34 30h2M4 31h1M11 31h1M13 31h1M36 31h2M46 31h2M71 31h1M47 32h2M56 32h1M69 32h1M77 32h1M11 33h2M24 33h1M45 33h1M72 33h1M77 33h1M0 34h1M12 34h1M60 34h1M62 34h1M72 34h2M76 34h1M25 35h1M73 35h3M0 36h2M5 36h2M9 36h1M57 36h1M55 38h1M75 38h1M55 39h1M57 39h1M57 43h1M65 44h1M63 45h1M65 45h2M58 46h5M48 47h1M59 47h2M62 47h1M66 47h1M72 47h1M48 48h1M53 48h1M60 48h1M78 48h1M80 48h1M62 49h1M81 49h2M63 50h3M81 50h1"/><path stroke="#0ea8c0" d="M79 2h1M68 3h1M78 3h2M83 3h3M20 4h2M68 4h1M70 4h1M80 4h2M84 4h2M88 4h1M21 5h1M84 5h1M19 6h1M50 6h1M85 6h1M87 8h1M47 9h1M30 10h1M36 10h1M56 10h1M32 11h1M72 12h2M76 12h1M77 13h1M27 19h1M11 21h1M26 21h1M4 22h3M13 22h1M24 22h1M33 22h3M41 22h1M8 23h1M16 23h1M21 23h1M24 23h1M28 23h1M35 23h1M41 23h2M6 24h1M15 24h1M20 24h1M22 24h1M33 24h1M42 24h1M46 24h1M9 25h1M12 25h1M17 25h2M22 25h1M33 25h1M45 25h2M10 26h2M23 26h1M49 26h1M17 27h1M23 27h1M40 27h1M49 27h1M9 28h1M20 28h1M23 28h2M39 28h1M6 29h2M9 29h1M33 29h1M40 29h1M9 30h1M24 30h1M33 30h1M36 30h1M70 30h1M6 31h1M12 31h1M39 31h1M69 31h1M10 32h1M38 32h1M58 32h1M60 32h2M70 32h1M1 33h1M10 33h1M23 34h1M0 35h1M6 35h2M4 36h1M10 36h1M74 36h1M55 37h1M62 37h1M57 38h1M90 39h1M56 40h1M63 46h1M65 46h2M37 47h1M62 48h1M79 48h1M81 48h1M53 49h1M60 49h2M78 49h1M52 50h1M78 50h2M82 50h1"/><path stroke="#17acb6" d="M80 3h1M87 3h1M53 4h1M87 4h1M67 5h1M20 6h1M49 6h1M88 6h1M33 7h1M35 7h1M50 7h1M34 10h1M74 11h2M71 12h1M75 12h1M90 12h1M2 15h1M8 20h1M3 21h3M10 21h1M27 21h1M3 22h1M12 22h1M25 22h1M7 23h1M9 23h1M22 23h1M34 23h1M36 23h1M38 23h3M3 24h2M8 24h1M14 24h1M16 24h1M23 24h1M31 24h1M41 24h1M19 25h1M32 25h1M47 25h1M1 26h1M0 27h1M9 27h1M21 27h2M47 27h1M8 28h1M1 29h1M5 29h1M15 29h1M26 29h1M32 29h1M34 29h1M8 30h1M39 30h1M2 31h1M8 31h1M10 31h1M38 31h1M70 31h1M3 32h1M11 32h1M57 32h1M59 32h1M59 33h1M1 35h1M8 35h1M56 35h1M59 35h1M58 36h2M56 37h1M56 38h1M56 39h1M55 40h1M90 40h1M52 48h1M61 48h1M63 48h1M65 48h1M65 49h1M80 49h1M51 50h1M53 50h1"/><path stroke="#20b0ac" d="M86 3h1M86 4h1M20 5h1M85 5h1M87 5h2M36 7h1M87 7h1M36 8h1M30 9h1M76 13h1M8 22h4M28 22h1M36 22h1M11 23h1M9 24h1M29 24h1M39 24h2M7 25h2M13 25h2M21 25h1M17 26h1M19 26h1M22 26h1M1 27h1M10 27h2M15 27h1M20 27h1M32 27h1M39 27h1M45 27h1M0 28h2M7 28h1M10 28h1M14 29h1M21 29h1M25 29h1M29 29h1M35 29h1M38 29h2M5 31h1M9 31h1M2 32h1M60 33h1M1 34h1M6 34h1M56 34h1M9 35h1M63 47h1M65 47h1M51 48h1M49 49h1M63 49h1"/><path stroke="#34b4a2" d="M86 6h2M75 13h1M6 21h2M9 21h1M7 22h1M26 22h1M26 23h1M24 24h2M37 24h1M16 25h1M20 25h1M25 25h1M34 25h2M37 25h1M7 26h1M12 26h1M18 26h1M38 26h1M45 26h1M47 26h1M7 27h1M19 27h1M34 27h2M38 27h1M5 28h1M22 28h1M26 28h1M2 29h1M22 29h1M31 29h1M2 30h1M11 30h3M37 30h2M7 31h1M9 32h1M21 32h1M9 33h1M56 33h1M4 34h2M10 34h2M59 34h1M2 35h1M4 35h2M54 38h1M60 38h1M49 47h2M61 47h1M64 47h1M49 48h1M64 48h1M50 49h1M52 49h1M64 49h1"/><path stroke="#48b898" d="M86 5h1M34 8h1M47 8h2M31 10h1M33 10h1M8 21h1M27 22h1M7 24h1M28 24h1M34 24h2M38 24h1M38 25h1M5 26h2M9 26h1M26 26h1M37 26h1M39 26h2M2 27h2M5 27h2M8 27h1M12 27h1M18 27h1M33 27h1M2 28h1M14 28h1M27 28h1M46 28h1M4 29h1M36 29h2M3 30h2M8 32h1M2 33h1M8 33h1M2 34h1M7 34h3M3 35h1M57 35h1M50 48h1M41 49h1M51 49h1"/><path stroke="#62ba8a" d="M30 8h2M32 9h1M35 9h1M27 23h1M26 24h1M15 25h1M26 25h1M36 25h1M4 26h1M8 26h1M13 26h1M15 26h2M20 26h1M32 26h1M46 26h1M4 27h1M46 27h1M3 28h2M11 28h1M29 28h1M32 28h1M37 28h1M3 29h1M11 29h1M21 30h1M3 31h1M7 32h1M3 33h1M58 35h1"/><path stroke="#7cbd7c" d="M75 14h1M31 25h1M14 26h1M21 26h1M50 27h1M6 28h1M12 28h1M36 28h1M38 28h1M47 28h1M10 29h1M13 29h1M20 29h1M5 32h1"/><path stroke="#9cb86c" d="M34 7h1M31 9h1M32 10h1M71 13h1M27 25h1M39 25h1M31 26h1M13 27h2M26 27h1M30 27h1M13 28h1M20 30h1M30 30h1M32 30h1M6 32h1M3 34h1M58 34h1"/><path stroke="#bcb45c" d="M26 5h1M32 7h1M32 8h1M36 9h1M28 25h1M27 26h1M34 26h2M25 27h1M27 27h1M29 27h1M31 27h1M30 28h1M12 29h1M31 30h1M4 33h1M57 33h1M57 34h1M11 35h1M64 46h1"/><path stroke="#d6b64c" d="M37 9h1M36 11h1M35 28h1M48 28h1M23 29h1M27 29h1M5 33h2"/><path stroke="#f0b83c" d="M21 24h1M29 25h1M2 26h1M7 33h1M58 33h1"/><path stroke="#f4c032" d="M19 1h1M26 4h1M19 5h1M33 8h1M14 22h1M25 23h1M2 25h1M24 25h1M40 25h2M37 27h1M24 29h1M10 35h1"/><path stroke="#f8c828" d="M3 25h1M28 26h3M36 26h1M26 31h1"/><path stroke="#f7d423" d="M28 21h1M1 25h1M24 27h1M28 27h1M36 27h1"/><path stroke="#f6e01e" d="M35 10h1M74 12h1M74 13h1M4 25h1M30 25h1M3 26h1M28 28h1"/><path stroke="#f7ec17" d="M35 8h1M33 9h1M72 13h1M27 24h1M6 25h1M31 28h1M57 37h1"/><path stroke="#f8f810" d="M20 1h1M34 9h1M22 22h1M23 23h1M33 26h1M44 26h1M30 29h1"/></g></g></g>
<use href="#gr"/><g clip-path="url(#cp)"><use href="#fl"/></g>
<polygon points="441,329 444.9,341 457.5,341 447.3,348.3 451.2,360.3 441,352.9 430.8,360.3 434.7,348.3 424.5,341 437.1,341" fill="#ff0000"/>
<use href="#fr"/><use href="#lb"/>
<text class="p" x="36.5" y="-26.3">(h)</text>
<text class="h" style="font-size:50.9px" x="387.1" y="-24.7" text-anchor="middle">24−26 April 2021</text>
</g>
<rect x="2052" y="1089.4" width="64.6" height="947.8" fill="url(#cb)" stroke="#333" stroke-width="1.2"/>
<path d="M2107.1,1931.9H2116.6M2107.1,1826.6H2116.6M2107.1,1721.3H2116.6M2107.1,1616H2116.6M2107.1,1510.6H2116.6M2107.1,1405.3H2116.6M2107.1,1300H2116.6M2107.1,1194.7H2116.6" stroke="#333" stroke-width="1.5"/>
<text class="c" transform="translate(2123.4,2055.4) scale(1,1.11)">−<tspan dx="-3.6">4</tspan></text>
<text class="c" transform="translate(2123.4,1950.1) scale(1,1.11)">−<tspan dx="-3.6">3</tspan></text>
<text class="c" transform="translate(2123.4,1844.8) scale(1,1.11)">−<tspan dx="-3.6">2</tspan></text>
<text class="c" transform="translate(2123.4,1739.5) scale(1,1.11)">−<tspan dx="-3.6">1</tspan></text>
<text class="c" transform="translate(2130.4,1634.2) scale(1,1.11)">0</text>
<text class="c" transform="translate(2130.4,1528.8) scale(1,1.11)">1</text>
<text class="c" transform="translate(2130.4,1423.5) scale(1,1.11)">2</text>
<text class="c" transform="translate(2130.4,1318.2) scale(1,1.11)">3</text>
<text class="c" transform="translate(2130.4,1212.9) scale(1,1.11)">4</text>
<text class="c" transform="translate(2130.4,1107.6) scale(1,1.11)">5</text>
<text class="c" transform="translate(2225.6,1561) rotate(-90) scale(1.065,1)" text-anchor="middle">IMRA</text>
</svg></body></html>
